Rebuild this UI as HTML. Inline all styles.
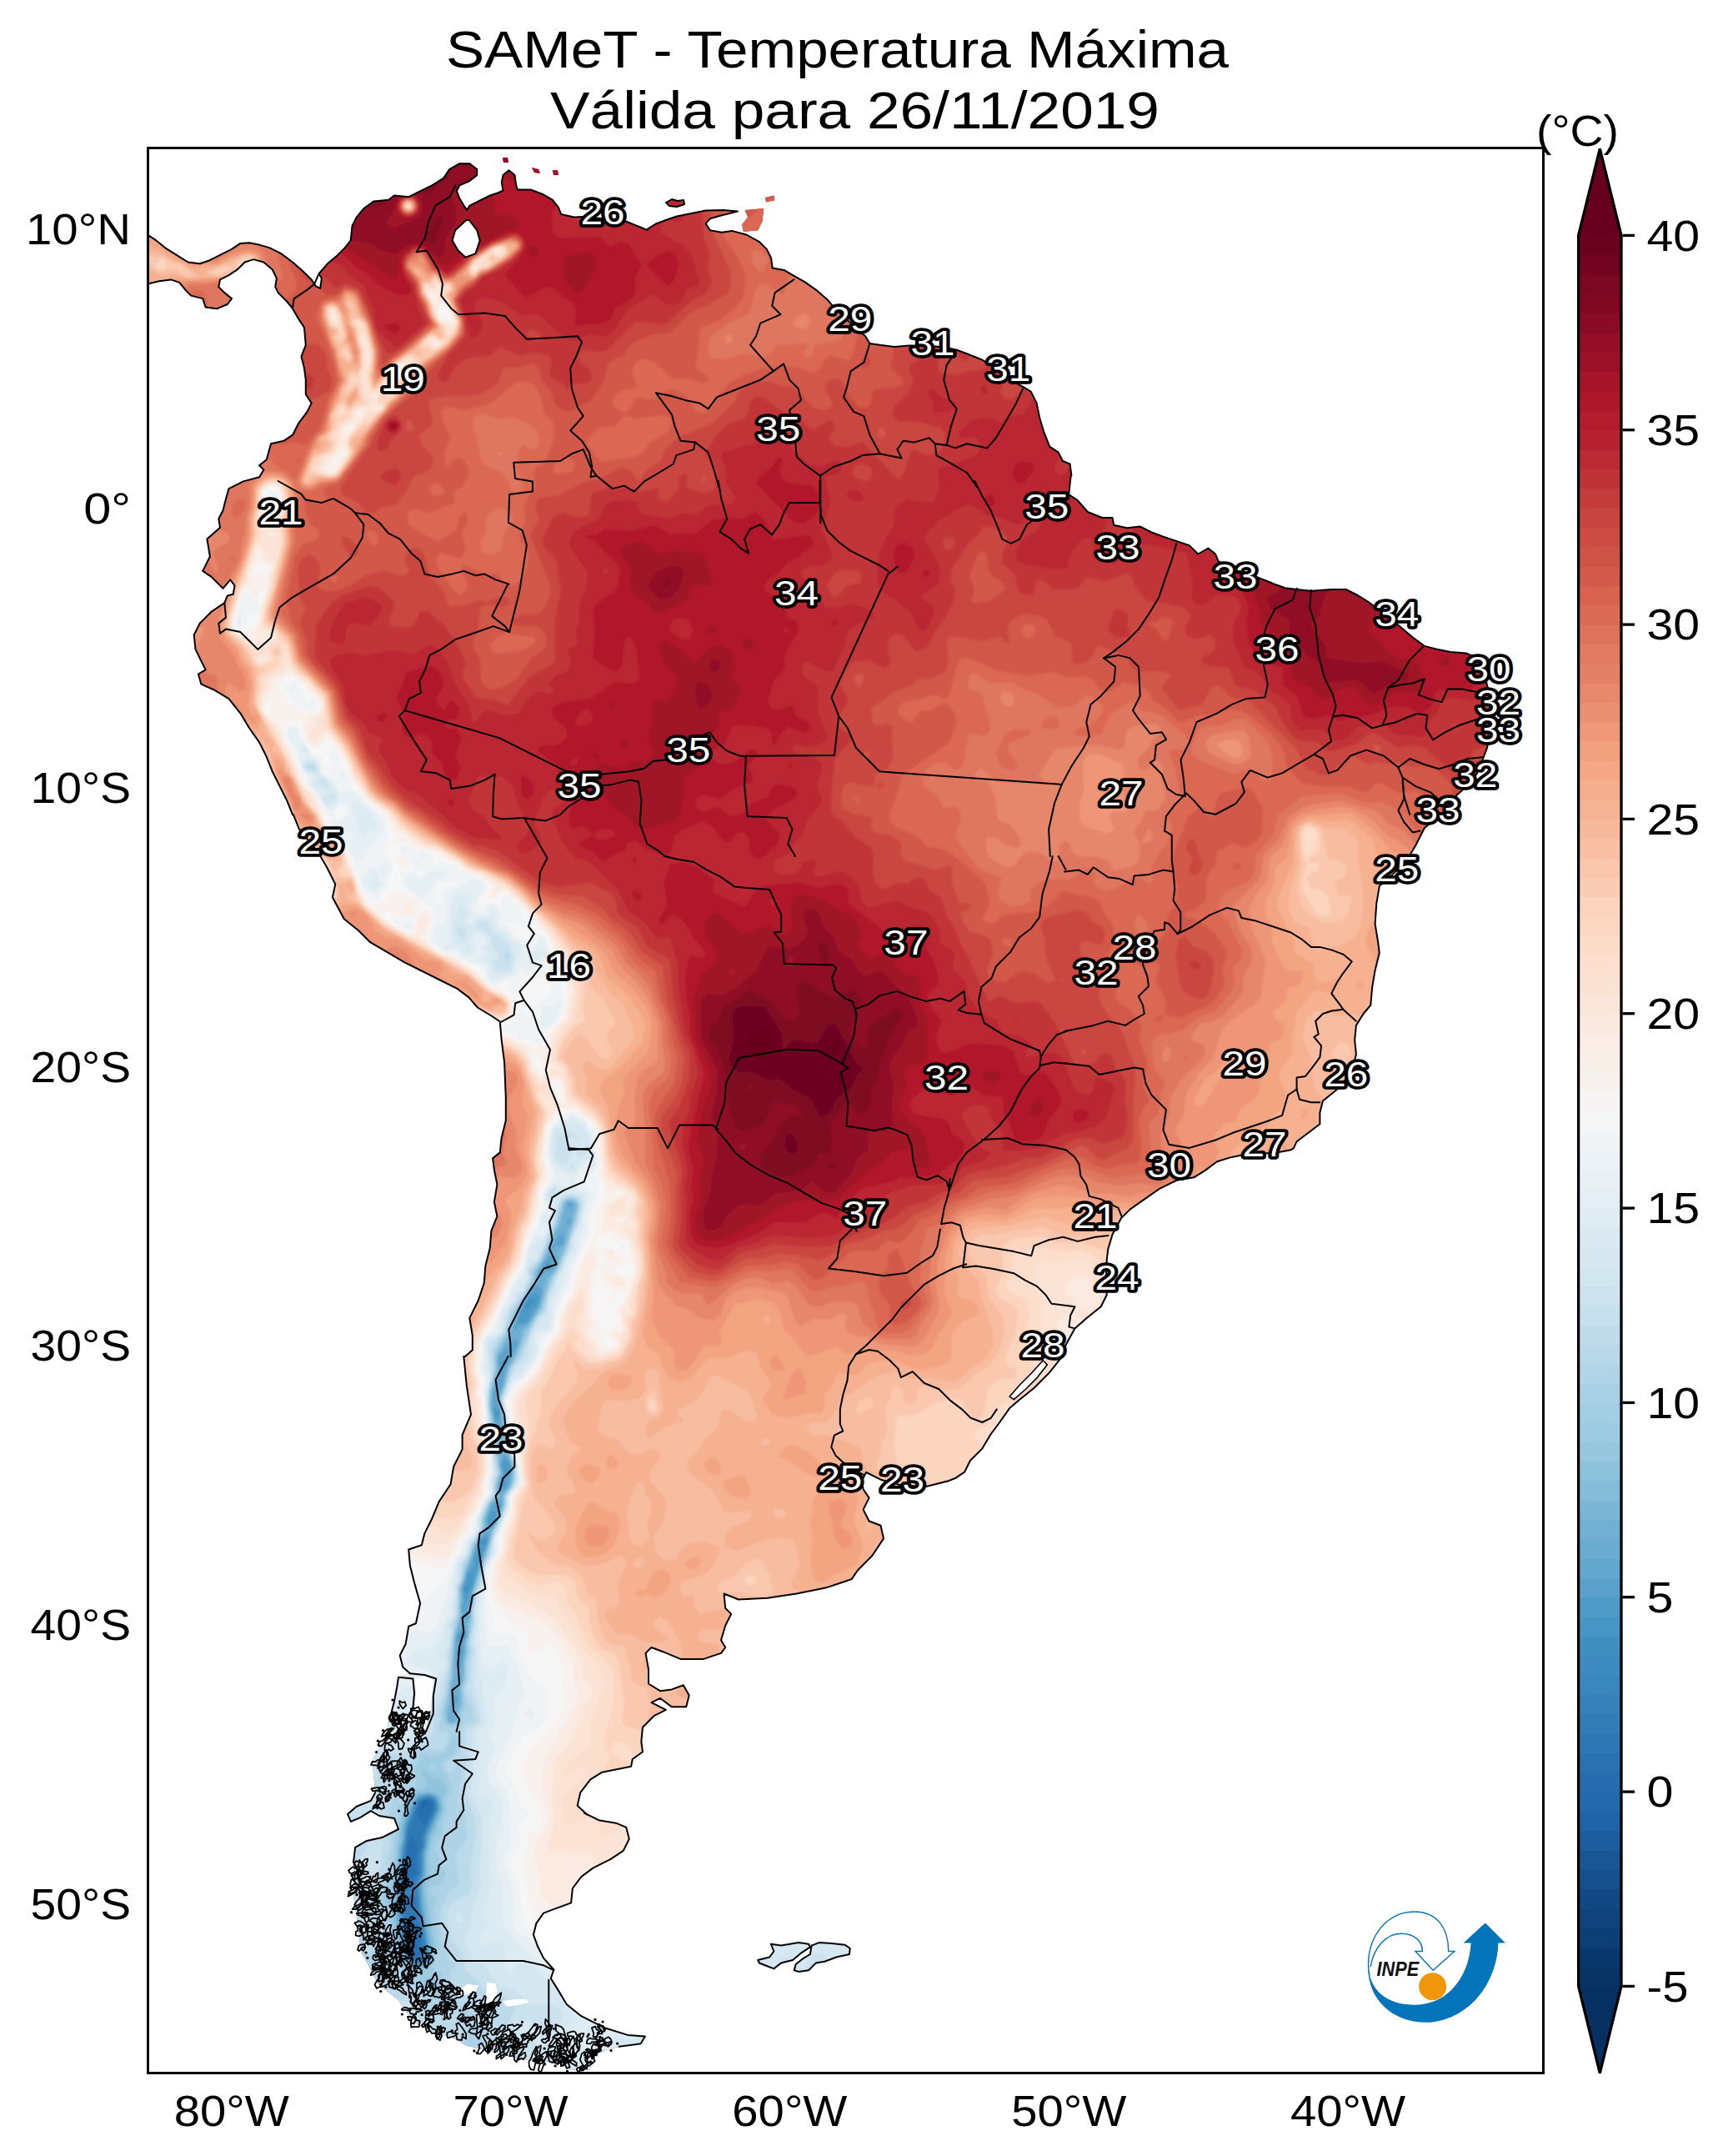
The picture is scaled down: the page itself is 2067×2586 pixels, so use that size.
<!DOCTYPE html>
<html lang="pt"><head><meta charset="utf-8"><title>SAMeT - Temperatura Máxima</title>
<style>
html,body{margin:0;padding:0;background:#fff;}
body{width:2067px;height:2586px;overflow:hidden;font-family:"Liberation Sans",sans-serif;}
svg{display:block}
text{font-family:"Liberation Sans",sans-serif;}
.lab text{fill:#fff;stroke:#000;stroke-width:7.6px;paint-order:stroke fill;stroke-linejoin:round;font-size:42.5px;text-anchor:middle}
.tk text{font-size:51px;fill:#000}
</style></head><body>
<svg width="2067" height="2586" viewBox="0 0 2067 2586">
<defs>
<clipPath id="frame"><rect x="177.5" y="177.5" width="1674.0" height="2309.0"/></clipPath>
<clipPath id="land" clip-rule="evenodd"><path clip-rule="evenodd" d="M177.0,281.5 187.4,288.4 197.9,297.1 211.8,305.8 225.7,314.5 239.7,316.3 250.1,312.8 264.0,305.8 278.0,298.9 288.4,291.9 298.9,291.2 311.1,293.6 323.2,297.1 337.2,304.1 351.1,314.5 365.0,326.7 373.7,335.4 378.9,343.4 384.2,345.9 385.9,333.7 382.4,328.5 392.9,316.3 403.3,307.6 413.8,297.1 420.7,288.4 422.5,271.0 427.7,260.6 436.4,250.1 448.6,241.4 466.0,239.7 473.0,234.5 490.4,236.2 504.3,229.2 518.2,222.3 532.2,213.6 539.1,203.1 551.3,196.2 563.5,196.2 572.2,203.1 572.2,210.1 563.5,217.0 551.3,222.3 547.8,229.2 551.3,237.9 556.5,246.6 560.0,251.9 563.5,246.6 573.9,241.4 587.9,234.5 598.3,231.0 603.5,228.5 601.8,218.8 603.5,210.1 610.5,204.2 617.5,210.1 619.2,222.3 620.9,227.5 636.6,227.5 650.5,232.7 662.7,239.7 669.7,248.4 673.2,257.1 688.8,260.6 699.3,259.9 723.7,262.3 751.5,265.8 768.9,272.8 776.9,276.2 777.0,274.5 787.4,268.2 801.4,263.0 811.8,259.5 829.2,256.0 846.6,252.6 867.5,251.9 884.9,253.6 864.0,258.8 851.9,262.3 846.6,268.2 851.9,276.2 865.8,278.7 878.0,276.9 895.4,281.5 911.1,290.2 919.8,298.9 925.0,309.3 926.7,321.5 940.6,323.9 951.1,330.2 965.0,337.9 978.9,347.6 992.9,359.8 1003.3,372.0 1020.7,387.7 1038.1,403.3 1043.4,412.0 1055.6,413.8 1073.0,415.9 1090.4,414.5 1107.8,414.5 1132.2,416.2 1147.8,419.7 1160.0,424.2 1177.4,431.2 1194.8,441.6 1212.2,455.6 1227.9,464.3 1236.6,469.5 1243.6,483.4 1247.1,500.8 1252.3,518.2 1259.2,535.6 1269.7,542.6 1274.9,553.0 1283.6,556.5 1285.4,570.5 1284.7,570.5 1282.2,593.2 1292.7,600.1 1304.9,614.0 1322.3,621.0 1334.5,621.0 1336.2,629.7 1351.9,633.2 1367.5,631.5 1381.5,638.4 1395.4,643.6 1411.1,648.9 1426.7,654.1 1437.2,664.5 1449.4,657.6 1458.1,664.5 1461.5,673.2 1485.9,683.7 1510.3,693.1 1527.7,700.1 1541.6,705.3 1555.6,707.0 1573.0,708.8 1597.3,707.0 1614.7,707.0 1628.7,714.0 1642.6,722.7 1660.0,735.9 1677.4,749.8 1694.8,764.5 1708.8,774.9 1722.7,778.4 1740.1,781.9 1759.2,783.6 1771.4,788.8 1778.4,802.1 1782.6,816.0 1786.1,829.9 1787.8,857.8 1786.1,875.2 1784.3,896.1 1779.1,910.0 1772.1,927.4 1761.7,941.3 1747.8,953.5 1737.3,965.7 1729.6,976.9 1729.6,975.7 1708.8,993.2 1698.3,1014.0 1687.9,1031.5 1670.5,1048.9 1654.8,1062.8 1651.3,1083.7 1649.6,1108.1 1653.0,1128.9 1654.8,1142.9 1649.6,1163.8 1646.1,1184.7 1644.3,1205.6 1635.6,1216.0 1626.9,1229.9 1625.2,1247.3 1626.9,1264.7 1621.7,1285.6 1604.3,1306.5 1586.9,1320.5 1583.4,1334.4 1583.4,1348.3 1569.5,1358.8 1555.6,1369.2 1552.1,1376.9 1548.8,1379.2 1529.6,1382.7 1494.8,1384.5 1477.4,1387.9 1460.0,1393.2 1446.1,1403.6 1432.2,1412.3 1411.3,1415.8 1390.4,1426.2 1373.0,1438.4 1355.6,1450.6 1345.1,1461.1 1334.7,1480.2 1329.4,1497.6 1327.7,1511.5 1327.0,1532.4 1327.7,1553.3 1320.7,1567.3 1303.3,1581.2 1289.4,1593.4 1278.9,1612.5 1272.0,1629.9 1258.1,1647.3 1240.6,1664.7 1223.2,1678.7 1211.1,1689.1 1198.9,1706.5 1188.4,1720.5 1178.0,1737.9 1164.0,1751.8 1157.1,1765.7 1146.6,1772.7 1136.2,1776.9 1135.9,1776.8 1112.2,1782.7 1082.6,1782.0 1056.5,1774.7 1039.1,1766.0 1033.9,1775.7 1035.6,1786.2 1042.6,1796.6 1035.6,1810.6 1042.6,1824.5 1056.5,1829.7 1060.0,1845.4 1046.1,1866.3 1028.7,1883.7 1021.7,1894.1 990.4,1904.6 955.6,1911.5 920.7,1916.8 885.9,1918.5 868.5,1911.5 870.2,1928.9 877.2,1935.9 870.2,1949.8 865.0,1967.3 870.2,1976.0 865.0,1982.9 844.1,1989.9 816.3,1989.9 795.4,1981.2 781.5,1976.0 774.5,1982.9 778.0,2002.1 778.0,2019.5 791.9,2028.2 805.8,2026.4 819.8,2021.2 826.7,2033.4 823.2,2047.3 805.8,2047.3 791.9,2036.9 781.5,2042.1 798.9,2050.8 784.9,2057.8 771.0,2071.7 769.3,2089.1 771.0,2101.3 758.8,2110.0 757.1,2118.7 739.7,2122.2 722.3,2125.7 708.3,2134.4 696.2,2150.1 692.7,2165.7 704.9,2176.9 700.8,2174.5 718.2,2183.2 739.1,2186.7 751.3,2191.9 754.8,2205.8 747.8,2219.8 732.2,2230.2 711.3,2240.6 697.3,2251.1 686.9,2265.0 685.1,2282.4 666.0,2289.4 652.1,2294.6 643.4,2306.8 639.9,2320.7 645.1,2334.7 652.1,2348.6 664.3,2362.5 660.8,2373.0 669.5,2386.9 679.9,2404.3 697.3,2418.2 725.2,2432.2 753.0,2440.9 773.9,2442.6 768.7,2451.3 742.6,2454.8 725.2,2460.0 711.3,2467.0 707.8,2482.6 683.4,2482.6 676.4,2473.9 641.6,2472.2 620.7,2468.7 585.9,2460.0 558.1,2453.0 540.6,2442.6 523.2,2439.1 495.4,2425.2 478.0,2399.1 453.6,2379.9 446.6,2366.0 432.7,2339.9 429.2,2308.5 424.0,2273.7 424.0,2234.0 426.1,2215.9 440.0,2207.9 458.1,2204.1 478.0,2194.0 473.1,2181.1 455.0,2178.0 444.9,2172.1 432.0,2180.1 420.9,2184.9 417.0,2175.9 427.8,2166.8 444.9,2159.9 450.1,2150.1 446.6,2111.8 464.0,2080.5 465.8,2064.0 472.8,2041.3 476.2,2023.9 478.0,2011.7 491.9,2007.2 483.2,1999.6 479.7,1985.6 486.7,1971.7 490.2,1950.8 498.9,1947.3 504.1,1923.0 497.1,1898.6 491.9,1877.7 490.2,1858.5 505.8,1853.3 509.3,1839.4 518.0,1822.0 526.7,1801.1 540.6,1780.2 544.1,1759.3 554.6,1738.4 554.6,1721.0 565.0,1696.6 559.8,1661.8 556.3,1627.0 558.1,1626.9 566.8,1619.2 566.8,1601.8 563.3,1580.9 573.7,1560.0 580.7,1539.1 582.4,1518.2 587.7,1497.3 589.4,1476.4 596.4,1459.0 592.9,1441.6 596.4,1420.7 592.9,1403.3 591.1,1389.4 599.8,1382.4 601.6,1365.0 606.8,1344.1 606.8,1316.3 605.1,1274.5 601.6,1246.6 599.8,1225.7 600.8,1226.0 590.4,1219.0 573.0,1208.5 562.5,1196.4 548.6,1185.9 527.7,1175.5 506.8,1165.0 485.9,1154.6 465.0,1142.4 444.1,1130.2 430.2,1116.3 412.8,1102.3 398.9,1076.2 402.3,1060.6 391.9,1039.7 381.5,1022.3 358.8,994.4 351.9,977.0 351.1,977.4 344.1,960.0 335.4,942.6 326.7,925.2 319.8,907.8 311.1,890.4 298.9,873.0 288.4,855.6 274.5,838.1 257.1,827.7 241.4,820.7 237.9,808.5 246.6,803.3 241.4,792.9 234.5,778.9 232.7,761.5 239.7,747.6 253.6,733.7 269.3,723.2 272.8,714.5 279.7,712.8 281.5,702.3 276.2,695.4 267.5,705.8 253.6,691.9 243.2,684.9 251.9,667.5 248.4,646.6 264.0,632.7 262.3,622.3 267.5,612.2 271.0,598.3 274.5,586.1 291.9,577.4 311.1,572.2 316.3,563.5 311.1,558.3 319.8,551.3 325.0,532.2 340.6,528.7 351.1,521.7 358.1,507.8 368.5,493.9 373.7,483.4 366.8,473.0 366.8,455.6 365.0,441.6 361.5,427.7 366.8,413.8 365.0,392.9 358.1,382.4 351.1,370.2 344.1,361.5 333.7,351.1 330.2,344.1 331.9,333.7 326.7,323.2 316.3,314.5 304.1,311.1 293.6,314.5 284.9,323.2 274.5,330.2 264.0,335.4 262.3,344.1 269.3,351.1 278.0,358.1 272.8,365.0 260.6,370.2 246.6,368.5 243.2,358.1 229.2,354.6 222.3,347.6 215.3,338.9 204.9,335.4 190.9,337.2 177.0,340.6Z M893.6,251.9 916.3,250.1 914.5,265.8 909.3,276.2 891.9,278.0 890.2,269.3 897.1,260.6Z M918.0,236.9 928.5,234.5 929.2,240.4 919.1,242.5Z M909.2,2351.0 923.1,2347.5 928.4,2340.5 924.9,2331.8 937.1,2333.6 947.5,2331.8 958.0,2330.1 970.1,2331.8 971.9,2335.3 961.4,2342.3 951.0,2351.0 937.1,2354.5 928.4,2361.4 919.7,2358.0 910.9,2354.5Z M973.6,2333.6 982.3,2330.1 998.0,2331.0 1013.7,2332.7 1019.8,2337.1 1018.9,2344.0 1003.2,2347.5 989.3,2352.7 978.9,2354.5 970.1,2363.2 958.0,2364.9 952.7,2363.2 954.5,2356.2 963.2,2349.3 971.9,2344.0Z M799.0,243.0 806.0,239.0 813.0,241.0 820.0,240.0 821.0,245.0 812.0,248.0 803.0,247.0Z M603.0,189.0 609.0,189.0 610.0,195.0 604.0,195.0Z M638.0,201.0 646.0,203.0 648.0,208.0 641.0,207.0Z M663.0,204.0 669.0,204.0 670.0,210.0 664.0,210.0Z"/></clipPath>

<filter id="b2" x="0" y="0" width="2067" height="2586" filterUnits="userSpaceOnUse"><feGaussianBlur stdDeviation="1.6"/></filter>
</defs>
<rect x="0" y="0" width="2067" height="2586" fill="#fff"/>
<g clip-path="url(#frame)">
<g clip-path="url(#land)">
<rect x="177.5" y="177.5" width="1674.0" height="2309.0" fill="#c53e3d"/>
<g filter="url(#b2)" fill-rule="evenodd">
<rect x="177.5" y="177.5" width="1674.0" height="2309.0" fill="#1a5899"/>
<path fill="#2065ab" d="M1851,2487l-1674,0 0,-2311 1675,1z"/>
<path fill="#2870b1" d="M1851,2487l-1674,0 0,-2311 1675,1zM504,2171l7,-5 2,-6 -6,1z"/>
<path fill="#2f79b5" d="M1851,2487l-1674,0 0,-2311 1675,1zM510,2191l4,-13 6,-9 -1,-9 -6,-3 -8,3 -5,12 1,6 5,6 1,7zM498,2198l0,-6 -3,1zM486,2263l6,-10 9,-6 -3,-15 4,-15 -4,-6 -3,-11 -3,2 -4,15 1,14 5,4 -5,2zM498,2286l0,-4 -5,1 2,3zM504,2346l1,-6 -2,-30 -2,-2 -6,0 -6,-4 -3,4 0,8 9,0 5,9 0,3 -10,6 2,9 6,6z"/>
<path fill="#3783bb" d="M1851,2487l-1674,0 0,-2311 1675,1zM501,2353l6,0 3,-4 -10,-60 1,-8 -3,-6 -8,-1 -3,-3 17,-24 -1,-21 4,-12 0,-12 9,-21 6,-9 -1,-12 -8,-4 -10,4 -13,33 -7,60 2,18 -2,21 2,9 -1,15 6,12 -2,6 3,9 6,9z"/>
<path fill="#3f8ec0" d="M1851,2487l-1674,0 0,-2311 1675,1zM501,2355l9,-2 2,-7 -13,-84 6,-15 0,-24 3,-9 0,-12 16,-33 -2,-9 -3,-4 -6,-1 -12,5 -13,33 -7,60 0,39 3,9 -1,15 6,27 6,9z"/>
<path fill="#4c99c6" d="M1851,2487l-1674,0 0,-2311 1675,1zM630,1571l10,-11 -4,-3 -7,12zM594,1698l3,-3 -3,-2zM583,1848l-4,-2 -3,6 6,0zM558,1912l4,-7 -1,-6 -4,6zM501,2357l9,-2 4,-6 -10,-63 -2,-27 4,-12 0,-24 4,-9 0,-12 15,-33 -3,-12 -9,-3 -9,2 -4,4 -12,30 -8,63 0,39 2,9 -1,15 4,21 8,15z"/>
<path fill="#5ca3cb" d="M1851,2487l-1674,0 0,-2311 1675,1zM654,1522l5,-1 2,-3 -1,-3 -3,-1 -4,4zM621,1588l12,-3 6,-16 6,-3 3,-12 -9,-4 -6,7 -12,24zM608,1632l-8,1 0,4 6,0zM594,1703l6,-5 0,-5 -6,-6 -2,2zM600,1786l9,-6 -5,-7 8,-6 0,-9 -3,-6 -6,0 -1,6 3,12 -5,9zM591,1831l4,-7 2,-15 -9,5 -3,7 0,6zM558,1923l9,-19 9,-35 9,-18 0,-7 -6,-1 -4,5 -6,18 0,15 -8,6 -2,12 -4,6zM549,1968l3,2 6,-5 0,-8 -6,1 -3,4zM555,1983l0,-5 -6,2 0,3zM498,2358l12,-1 4,-5 1,-6 -10,-60 -2,-27 5,-12 0,-24 3,-9 0,-12 15,-33 -3,-12 -4,-4 -6,-1 -13,5 -13,33 -2,18 -3,9 -1,27 -3,9 3,66 7,27z"/>
<path fill="#6eaed2" d="M1851,2487l-1674,0 0,-2311 1675,1zM688,1446l-4,-4 -3,1 -1,3 1,2zM681,1468l3,-1 0,-5 -4,2zM660,1505l6,-10 9,-1 3,-6 -3,-8 -6,2 -3,9 -6,6 2,3zM645,1531l3,2 4,-6 11,-5 4,-10 -1,-3 -6,-3 -3,2 -10,16zM618,1596l6,-6 9,-2 14,-22 4,-18 -6,-8 -6,4 -14,25 -10,24zM603,1722l0,-9 -3,2 -2,-2 3,-15 -4,-24 6,-12 4,-21 14,-27 0,-7 -6,2 -15,15 -3,8 2,12 -8,27 0,27 6,17zM600,1790l6,-2 4,-6 4,-21 -5,-13 -6,-2 -3,-5 3,5 -3,12 4,9 -6,15 -1,6zM560,1944l2,-3 -1,-12 3,-4 6,-32 16,-42 2,-15 8,-12 7,-24 -12,3 -8,21 4,12 -2,3 -6,1 -5,8 -6,21 -9,18 -1,12 -3,3 1,18 -3,6 2,12zM552,2003l5,-20 0,-15 3,-6 -2,-12 -6,4 -5,11 1,9 -2,15zM549,2043l0,-9 -6,-1 0,10zM543,2064l-3,-6 0,4zM498,2359l12,-1 6,-6 0,-6 -10,-60 -1,-27 4,-9 0,-27 3,-9 1,-12 15,-33 -5,-15 -10,-3 -9,2 -6,4 -13,33 -1,18 -3,9 -1,27 -3,9 0,39 5,45 10,18z"/>
<path fill="#81bad8" d="M1851,2487l-1674,0 0,-2310 1675,0zM606,1726l1,-4 -9,-45 7,-18 1,-9 19,-42 1,-12 7,-5 15,-24 7,-31 12,-15 5,-21 7,-12 2,-12 7,-12 -1,-6 4,-12 -4,-5 -6,0 -3,2 -5,24 -7,11 -10,28 -12,21 0,9 -17,26 -16,40 -14,24 -1,6 2,9 -8,30 -1,15 8,36zM543,2067l5,-3 0,-12 4,-9 0,-21 3,-6 3,-48 3,-6 -1,-15 4,-6 -1,-12 3,-6 1,-15 20,-57 2,-15 8,-12 7,-24 -1,-6 9,-12 3,-12 0,-11 -6,-16 -9,-8 -2,8 2,3 -1,12 3,9 -5,12 0,14 3,1 -11,9 -7,18 -1,15 -11,18 -17,51 1,15 -2,6 1,12 -7,26 -2,49 -2,3 -2,27 -3,12 1,9zM498,2361l15,-3 4,-6 1,-6 -10,-60 -2,-27 4,-9 0,-27 5,-21 14,-33 -4,-15 -12,-4 -12,3 -8,10 -10,30 0,15 -4,9 -1,27 -3,9 0,39 6,45 9,18z"/>
<path fill="#90c4dd" d="M1851,2487l-1674,0 0,-2310 1675,0zM540,2068l9,-2 1,-14 4,-6 -1,-24 3,-6 1,-24 3,-12 -1,-9 3,-9 0,-15 3,-6 -1,-12 3,-6 1,-15 23,-72 7,-12 6,-18 0,-12 9,-12 2,-9 1,-15 -9,-21 1,-15 -9,-45 7,-16 4,-20 10,-18 9,-24 19,-30 10,-33 10,-15 10,-25 14,-47 0,-6 -5,-4 -6,0 -4,4 -7,24 -16,39 -12,21 0,9 -22,36 -10,27 -14,27 0,15 -7,30 -1,15 3,20 8,22 -3,15 3,3 -1,12 3,9 -5,12 0,15 -8,9 -7,18 -1,15 -11,18 -17,51 0,33 -7,24 -3,51 -2,4 -2,26 -3,12 1,9zM498,2363l15,-3 5,-8 0,-24 -10,-63 4,-15 0,-24 4,-21 5,-9 3,-12 7,-12 -3,-18 -6,-5 -21,1 -6,5 -5,8 -9,27 -4,51 -4,12 -2,27 8,60 8,15z"/>
<path fill="#a0cce2" d="M1851,2487l-1604,0 -9,-12 -7,-2 -12,5 -5,9 -37,0 0,-49 7,-5 4,-9 -4,-6 -7,-2 0,-2239 1675,0zM540,2069l11,-2 1,-15 4,-6 -2,-21 4,-9 0,-24 3,-12 -1,-9 3,-9 6,-54 15,-42 8,-30 13,-30 0,-12 9,-12 2,-9 0,-15 -8,-21 1,-15 -9,-45 7,-15 4,-21 8,-12 12,-30 19,-30 10,-33 9,-15 10,-24 15,-48 -1,-6 -6,-5 -6,0 -5,5 -7,24 -16,39 -13,21 0,9 -21,36 -9,24 -11,18 -5,12 1,15 -7,30 -1,15 7,36 4,6 -3,15 5,24 -5,12 0,15 -8,9 -7,18 -1,15 -11,18 -17,51 0,33 -6,24 -4,51 -8,42 1,9zM498,2365l15,-2 7,-11 2,-18 -11,-69 6,-15 -3,-24 5,-21 7,-12 -1,-6 8,-15 -2,-13 5,-11 -5,-13 -3,-3 -9,2 -9,-11 -3,-1 -2,5 6,6 1,9 -2,3 -12,3 -7,6 -6,12 -6,24 0,15 -3,9 -2,27 -10,39 9,27 3,39 13,15zM522,2376l-1,-3 -8,-1 -6,4 1,3 11,4z"/>
<path fill="#aed3e6" d="M1851,2487l-1468,0 -5,-9 -36,-14 -3,0 -2,5 4,18 -64,0 -1,-12 -3,-6 -21,-4 -15,-15 -6,-1 -6,3 -6,11 -12,9 -3,15 -27,0 0,-38 12,-7 12,-12 3,-6 -2,-6 -7,-8 -9,-5 -9,-1 0,-2227 1675,0zM540,2072l6,0 6,-3 2,-5 -1,-9 6,-6 -4,-24 4,-9 1,-21 3,-15 -2,-9 6,-27 -1,-12 3,-9 0,-12 16,-45 8,-30 13,-30 0,-12 9,-12 2,-9 0,-15 -8,-21 1,-15 -9,-45 6,-15 5,-21 9,-12 20,-45 11,-15 9,-33 8,-12 11,-27 14,-45 1,-9 -5,-6 -12,1 -4,5 -7,24 -18,45 -11,15 1,7 -8,17 -14,21 -10,27 -13,21 -2,12 2,9 -7,30 -1,15 4,21 6,21 -2,15 5,24 -5,12 0,15 -8,9 -7,18 -1,15 -11,18 -3,12 -7,12 -2,18 -4,6 -1,36 -6,24 -7,67 -6,26 2,12zM522,2399l8,-2 3,-6 -3,-24 -2,-3 -7,0 -1,-3 3,-18 5,-6 -3,-12 1,-12 -4,-9 -2,-12 5,-15 -9,-6 0,-6 14,-6 5,-12 -6,-9 -4,-17 -3,1 -1,-2 4,-12 7,-9 -2,-12 7,-15 -2,-12 7,-12 -1,-9 -12,-21 5,-8 9,-4 8,-18 -5,-8 -3,1 -9,22 -18,3 -9,-4 -3,4 -7,18 3,15 -24,30 3,9 -4,12 -3,51 -17,39 14,30 0,21 -5,9 2,6 8,9 22,15 6,12zM522,2124l-6,-3 0,-7 8,4zM331,2352l5,8 9,1 12,-3 4,-9 -7,-4 -15,-2 -6,2zM429,2467l6,4 6,-3 12,-14 0,-6 -26,6 -1,6z"/>
<path fill="#bbdaea" d="M1851,2487l-699,0 -3,-6 -3,-2 -18,5 -4,3 -49,0 -4,-15 -8,-9 13,-6 5,-6 0,-9 -7,-5 -7,2 -10,9 -1,6 5,9 -10,9 -2,15 -81,0 -8,-11 -12,-12 -6,-2 -12,5 -18,4 -8,7 -3,9 -329,0 -4,-18 11,-18 3,-18 -3,-4 -14,-5 0,-6 4,-6 -17,-6 -12,-24 -1,-15 7,-9 -11,-12 4,-9 -8,-12 0,-9 -3,-15 1,-12 8,-18 14,-12 -5,-36 13,-15 2,-6 -5,-33 -7,-9 3,-6 -1,-15 3,-6 1,-12 -3,-5 -3,0 -9,11 -3,-3 -3,-9 12,-6 4,-6 4,-15 -3,-12 8,-9 9,-3 -3,-18 -7,-14 -1,-7 4,-9 0,-21 4,-15 -3,-9 6,-27 -1,-12 3,-9 0,-12 5,-9 7,-30 4,-6 7,-30 13,-28 1,-14 9,-12 2,-9 0,-15 -8,-21 0,-15 -8,-45 12,-36 9,-12 19,-45 12,-15 2,-15 28,-63 0,-7 8,-17 4,-24 -4,-6 -8,-2 -6,1 -5,7 -6,21 -19,47 -11,13 1,9 -8,18 -15,21 -9,27 -8,9 -6,12 1,21 -7,30 0,15 3,21 6,21 -2,15 5,24 -5,12 0,15 -8,9 -7,18 -1,15 -10,15 -4,15 -6,9 -3,21 -4,6 0,15 -2,9 1,9 -5,12 -4,52 -6,36 -6,17 0,12 -2,9 2,5 9,-1 1,8 -7,15 -27,-4 -5,4 -7,14 -9,7 2,18 -14,18 -7,27 0,15 6,9 -5,21 1,12 -23,42 4,14 9,4 5,6 0,12 -5,4 -6,-1 -8,-6 -16,-4 -9,-9 -9,0 -6,10 2,24 -5,15 7,15 -1,6 -12,11 -18,1 3,4 12,6 3,8 0,15 14,12 6,36 -2,3 -6,0 -21,-7 -18,-2 -4,-6 6,-9 -1,-6 -7,-9 -6,-2 -21,11 -7,9 -3,21 3,18 -40,0 3,-15 -4,-9 -9,-6 -16,-6 -7,-21 -4,-7 -20,-5 -7,-12 -10,-9 -5,-24 -30,-15 0,-11 4,-4 2,-6 -2,-9 -4,-5 0,-132 8,-4 3,-6 -2,-5 -9,-1 0,-1998 1675,0zM205,2280l8,4 10,-4 11,-19 12,-11 -1,-3 -23,0 -15,21zM262,2295l-2,-6 -5,-3 -6,-1 -3,4 0,6 3,4 6,1zM312,2405l6,2 7,-4 14,-25 6,-5 24,4 3,-1 2,-15 7,-15 -3,-16 -6,-3 -21,5 -15,-11 -15,4 -2,6 6,39 -4,9 -12,12 -1,6zM441,2344l-4,-4 0,-6 4,-6 3,-1 3,4 0,6 -3,6zM556,2451l-7,7 -15,-8 -10,4 -5,12 8,21 -94,0 20,-16 9,-2 15,1 6,-4 1,-3 -13,-13 -15,-22 -9,-1 -15,12 -12,-6 -2,-6 0,-33 4,-6 8,-3 26,-1 15,3 18,-6 19,16 5,15 3,3 6,0 15,-7 12,-2 3,15 7,12zM595,2415l-1,-6 -6,-4 -9,0 -7,4 0,3 16,7 5,-1zM191,2487l-14,0 0,-18 9,4z"/>
<path fill="#cae1ee" d="M1851,2487l-522,0 -2,-12 23,2 5,-11 -2,-7 -18,-5 -9,21 -12,0 -11,-18 -7,-1 -3,2 -3,8 2,6 7,5 9,2 3,8 -145,0 -8,-25 -18,-7 -6,-14 -6,-1 -18,8 -6,-1 -30,-35 -21,-16 -27,11 -18,-5 -15,2 -14,11 -7,21 -6,8 -6,3 -21,-3 -21,-24 -6,2 -17,11 -16,20 -6,3 -6,0 -15,-8 -15,0 -11,-12 -7,0 -6,4 -12,19 -14,10 -1,9 3,9 -122,0 0,-15 -4,-5 -10,5 -8,15 -7,0 -16,-12 6,-15 -2,-6 -14,-5 -16,2 1,-6 9,-9 11,-24 0,-9 -6,-6 -29,-9 -12,-15 -11,-9 -5,-21 -13,-18 -6,-27 1,-6 7,-10 19,-11 5,-9 -4,-18 8,-45 -2,-18 -12,-36 3,-9 -1,-21 4,-9 -5,-6 0,-21 3,-6 11,-6 2,-6 -9,-30 -5,-6 4,-9 1,-27 3,-9 -4,-9 5,-27 -1,-12 3,-21 5,-9 7,-30 5,-6 3,-21 16,-36 1,-15 9,-12 2,-9 0,-15 -8,-21 0,-15 -8,-45 12,-36 11,-12 14,-39 8,-12 7,-6 2,-18 6,-9 3,-12 6,-9 4,-12 8,-15 1,-12 8,-18 4,-18 0,-9 -7,-6 -12,1 -5,5 -4,9 -3,15 -20,48 -12,12 2,9 -8,18 -15,18 -9,30 -11,12 -3,6 0,36 -4,18 -1,15 5,30 4,12 -2,15 4,24 -3,9 -1,18 -7,8 -7,16 -2,18 -10,15 -5,16 -7,8 -1,21 -5,6 0,33 -6,12 1,9 -5,30 1,12 -6,21 -1,12 -9,21 -4,27 -6,8 -9,2 -15,12 -24,4 -13,10 0,18 -9,15 1,3 10,6 3,6 0,6 -5,12 0,12 2,12 7,6 -3,15 -1,15 -16,24 -9,5 -2,-5 5,-15 -7,-18 13,-18 2,-9 -5,-8 -6,-1 -18,20 -6,1 -6,-9 -3,-15 -7,-9 0,-21 -2,-5 -12,4 -6,7 1,6 13,12 2,6 -2,15 -8,11 -21,-4 -6,-13 4,-18 -2,-9 -11,-15 -6,-1 -5,4 -4,18 7,18 -4,4 -15,6 -3,8 2,6 11,12 3,9 -8,18 4,12 -3,5 -9,-2 -12,-10 -4,1 -5,13 -6,3 -21,-5 -10,-5 -3,-6 8,-18 1,-9 -7,-12 -3,-18 -7,-9 -6,-1 -29,4 -16,9 -9,12 -6,3 0,-26 9,-1 6,-4 6,-9 3,-11 -3,-12 -6,-8 -6,-2 -9,0 0,-1979 1675,0zM379,924l-4,-7 -6,1 -1,3zM609,1153l3,-7 -6,-6 -1,9zM412,2232l-18,15 -7,2 -12,-2 -8,-9 2,-6 12,-10 15,10 12,-4zM428,2286l-2,2 -12,-2 -24,17 -12,0 -9,-5 -11,-18 -12,-9 0,-3 5,-8 6,-1 9,9 6,2 38,1 16,8zM247,2346l-10,12 -12,2 -10,-8 -8,-12 -1,-6 16,-7 21,4 4,6zM285,2346l-3,-3 3,-9 6,-6 6,0 4,6 -1,9 -6,4zM240,2379l3,-15 12,-7 12,-1 12,4 15,0 12,-4 5,5 -2,7 -12,0 -15,7 -12,-2 -18,13 -8,-1zM919,2394l-3,-6 -7,-3 -12,6 15,8 6,-2zM890,2394l-8,-3 -6,3 -1,3 4,3zM270,2414l-4,-5 2,-9 8,-8 6,1 4,7 -2,6 -8,7zM504,2457l-6,-1 -21,-16 -5,-7 -2,-6 3,-12 0,-9 4,-6 12,-2 5,5 2,12 11,18 0,18zM816,2481l0,6 -27,0 5,-9 7,-7 9,2zM612,2475l-2,12 -24,0 2,-8 6,-5 9,-2zM1038,2487l-16,0 4,-5 6,-2zM180,2487l-3,0 0,-3z"/>
<path fill="#d5e7f1" d="M1851,2487l-29,0 -7,-9 -9,-3 -5,3 -2,9 -432,0 8,-33 -1,-9 -36,-14 -9,-2 -9,2 -12,11 -24,-6 -12,10 -9,0 -6,-5 -3,-8 5,-18 10,-5 -3,-5 -27,4 -27,15 -21,-1 -15,6 -30,-16 -12,-14 -18,-1 -9,-14 -6,-5 -9,1 -12,11 -6,1 -4,-7 2,-9 5,-4 12,-2 6,-9 0,-15 -9,-6 -13,9 -8,18 -5,6 -28,15 -18,-5 -21,3 -9,-2 -3,-5 0,-3 15,-11 3,-7 -9,-13 -6,-2 -6,1 -9,8 -2,9 6,15 1,21 -6,6 -14,4 -6,-3 -2,-7 2,-9 9,-15 -1,-12 -7,-12 -10,-1 -5,7 4,15 -2,6 -3,3 -9,-2 -9,-15 -6,-1 -14,15 -22,3 -18,10 -19,26 -26,13 -15,14 -15,10 -7,14 -3,21 -94,0 7,-21 -6,-9 -14,-8 -15,7 -9,-11 -15,-8 -3,-4 3,-7 9,-3 3,1 9,17 15,4 14,-21 1,-8 -3,-7 -6,-4 -30,-1 -6,-3 -11,-13 -21,-6 -16,-25 -15,-7 -10,-25 7,-15 4,-27 9,-21 -2,-18 4,-42 -1,-21 -3,-9 -11,-18 -1,-6 3,-9 3,-33 -4,-27 12,-12 1,-6 -10,-42 3,-39 -4,-9 4,-24 -1,-15 3,-21 6,-9 2,-21 10,-21 1,-15 16,-36 1,-15 11,-18 0,-18 -9,-24 0,-12 -8,-42 10,-27 6,-9 2,-6 6,-1 6,-8 3,-9 -3,-3 4,-15 11,-21 8,-6 3,-21 6,-9 2,-12 7,-9 3,-12 9,-15 0,-12 9,-18 4,-24 -1,-6 -8,-4 -12,0 -6,4 -5,12 -3,15 -19,47 -12,10 2,12 -7,15 -7,4 -3,11 -8,6 -7,30 -13,9 -4,6 3,39 -4,15 -1,18 4,30 5,12 -2,15 3,24 -3,9 0,15 -15,27 -1,18 -11,15 -3,14 -9,10 -2,9 2,9 -5,9 1,12 -3,12 1,9 -8,15 3,6 -2,21 -4,6 2,16 -10,20 -2,12 -10,12 -2,34 -9,4 -12,9 -9,0 -12,-6 -18,5 -6,-7 -1,-12 -8,-2 -18,8 -6,17 -6,7 -3,-6 1,-15 -7,-5 -39,-9 -23,5 -4,6 2,15 0,18 -11,9 -2,6 5,2 27,-10 6,1 6,5 15,-3 8,5 1,6 -3,6 -27,20 -12,-11 -21,2 -6,4 -9,18 -27,3 -15,13 -6,2 -12,-2 -10,-7 -1,-6 6,-18 -4,-8 -9,0 -9,5 -5,6 -4,13 -5,-7 -2,-18 -5,-8 -9,-4 -18,4 0,-1960 1675,0zM381,925l-2,-7 -4,-4 -10,4 1,4 12,5zM393,944l0,-5 -6,-6 -3,0 -1,6 3,3zM402,958l-3,-7 -1,6zM390,961l2,-4 -2,-1 -2,1zM610,1164l6,-15 -7,-17 -19,-13 -5,-12 -9,-2 -3,5 1,3 15,9 1,12 9,9 -1,6 -6,6 2,6 6,5zM558,1126l2,-10 -11,-7 -2,7 2,6 6,5zM675,1396l6,-1 1,-6 6,-6 -7,-16 6,-3 7,4 -1,-5 -9,-6 -15,4 -3,25 3,6zM693,1388l10,-5 -4,-8 -3,0 -4,5zM689,1398l-2,-3 -5,3 5,3zM660,1439l8,-8 0,-6 -5,0 -6,9zM375,2082l0,4 -3,1 -3,-2 3,-4zM270,2261l0,-8 4,-3 2,3zM552,2306l-3,0 -3,-5 3,-6 3,0 5,6zM1053,2322l3,-6 -3,-7 -6,-2 -7,3 -2,6 3,6 6,2zM1332,2349l27,20 9,0 12,-5 6,-6 5,-24 -5,-6 -21,2 -12,6 -18,4zM877,2424l0,-6 7,-6 10,-5 6,2 0,4 -4,5 -11,6zM1457,2472l0,-9 -8,-16 -15,-7 -6,1 -3,3 -5,19 6,12 8,2zM1215,2467l0,-6 3,-3 7,2 -4,7z"/>
<path fill="#ddebf2" d="M1846,2487l-9,0 -6,-9 -25,-25 -6,-1 -15,8 -6,0 -10,-9 -8,-3 -9,2 -15,11 -27,7 -33,14 -4,-4 -5,-16 -9,-11 12,-12 1,-6 -6,-6 -16,-3 -6,0 -12,8 -12,1 -4,3 -10,27 0,24 -108,0 4,-12 -1,-6 -7,-4 -18,-3 -6,-8 -1,-9 7,-13 2,-8 -3,-6 -14,-12 0,-15 -3,-4 -15,-2 -11,9 -6,9 -6,18 -8,12 -4,21 -4,6 -6,1 -5,-4 6,-18 -1,-6 -8,-3 -19,0 -12,-9 0,-3 10,-15 -2,-15 2,-6 23,-12 8,-12 4,-30 -12,-13 -15,-1 -15,-11 -13,1 -8,10 -15,5 -12,35 -6,7 -24,-13 -9,-12 -6,-1 -6,6 -8,17 2,5 10,1 5,4 4,14 -4,5 -21,0 -15,-9 -6,-1 -27,15 -33,1 -30,-10 -24,-14 -6,-8 -2,-21 -31,-21 -8,-15 -16,-8 -18,-3 -9,-6 -6,-1 -8,3 -2,6 4,9 10,3 -2,15 -5,6 -6,-2 -9,-7 -24,12 -15,4 -10,-4 -24,-15 -14,-12 -32,6 -5,6 5,12 -1,6 -15,15 -4,21 -17,8 -15,20 -6,1 -12,-7 -6,2 -36,32 -5,16 -4,6 -27,-5 -2,5 1,15 -2,9 -16,15 -25,0 11,-12 2,-12 -2,-4 -12,-5 -7,-9 -1,-6 6,-15 -13,-41 -9,-7 -15,-4 -12,-13 -9,-5 -9,1 -7,12 -5,1 -5,-7 3,-18 -4,-12 -6,-3 -18,6 -5,-6 1,-6 9,-12 -3,-24 8,-24 -4,-51 5,-48 -2,-6 -12,-4 -2,-5 2,-51 -4,-15 3,-6 7,-6 2,-6 -5,-30 0,-15 -5,-12 -3,-48 3,-12 -2,-15 3,-21 6,-9 1,-21 11,-21 -2,-3 2,-12 16,-36 1,-15 8,-9 4,-9 -2,-21 -8,-21 0,-15 -8,-39 11,-27 12,-8 16,-25 -4,-15 3,-8 6,-6 6,5 5,-6 0,-30 9,-12 1,-13 7,-11 2,-9 6,-10 7,-5 -3,-15 8,-15 6,-30 -3,-7 -12,-3 -9,0 -12,-9 -6,4 -5,9 2,6 9,0 1,3 -10,36 -6,10 -9,4 -3,4 6,2 0,6 -3,5 -6,-3 -6,17 2,9 -8,15 -6,0 -3,6 2,6 -10,9 -7,30 -3,3 -10,3 -5,9 6,39 -4,15 -1,18 3,30 5,12 -1,15 3,24 -3,9 1,15 -8,9 -8,18 -2,18 -11,15 -2,12 -9,9 -4,15 2,6 -4,6 1,12 -4,15 2,9 -9,12 -3,24 -6,12 1,6 6,6 -17,32 -11,13 0,9 -4,11 -3,2 -12,-10 -21,-2 -15,-6 -12,9 -9,4 -27,-6 -7,-5 -1,-15 -3,-6 -10,-6 -18,-3 -8,-9 -10,-24 -6,-5 -6,-1 -6,3 -12,15 -7,18 1,4 3,1 12,-5 9,-9 9,-1 3,4 -11,12 -4,15 -1,15 -9,9 2,27 -2,9 -8,10 -6,1 -7,-5 -11,-16 -9,0 -6,4 1,15 8,24 -6,15 11,9 1,3 -3,5 -12,4 -9,0 11,-21 -31,-21 -6,-24 -10,-14 -4,-1 -5,3 -4,21 2,6 12,15 -4,9 -6,1 -6,-4 -4,-9 0,-12 -5,-4 -12,-1 -15,6 0,-1936 1674,0 0,2199 -8,3 -7,8 -3,16 3,9 15,3 0,33 -6,4 -4,8zM366,901l0,-4 -3,-2 0,4zM404,960l1,-3 -3,-7 -6,-3 -1,-8 -12,-9 -4,-15 -7,-3 -8,3 -1,6 3,3 14,6 0,6 -5,7 3,2 9,-1 9,4 -3,4 -7,2 1,7 6,5zM612,1167l3,-3 3,-15 -5,-18 -12,-12 -7,-3 -6,-12 -3,-2 -12,1 -6,10 -8,-3 -3,-6 5,-6 0,-5 -3,-6 -7,-1 -2,15 -6,6 1,15 5,9 9,3 3,6 6,0 0,-3 -6,-6 6,-15 9,1 10,8 1,6 -4,6 1,3 9,3 0,3 -6,6 7,17 6,2zM687,1406l4,-2 6,-12 12,-3 1,-3 -4,-24 -8,-12 -11,-5 -12,7 -9,1 -3,7 -2,20 3,9 5,9zM298,2028l-16,0 -3,6 11,0zM297,2134l-4,-4 1,-3 3,0 2,3zM1134,2334l-1,-12 11,-12 -2,-3 -20,-13 -9,-1 -11,2 -3,6 3,6 19,9 5,6 1,12zM1740,2346l-1,-6 -19,-18 -7,1 -8,8 1,6 28,10zM1155,2369l2,-5 -2,-3 -3,0 0,6zM1491,2408l6,-6 2,-14 -5,-9 -9,-3 -11,9 11,19zM727,2430l-13,-1 -10,4 4,6 6,2 12,-5z"/>
<path fill="#e6eff4" d="M1811,2406l-11,2 -18,-5 -3,2 -2,19 -4,5 -24,0 -12,8 -11,-7 -8,-18 -8,-5 -12,-1 -4,12 -5,4 -45,-16 -15,-2 -12,3 -12,8 -3,27 -21,29 -12,10 -3,6 -12,0 8,-24 7,-12 -1,-3 -11,-9 -1,-6 4,-24 -2,-21 10,-18 0,-9 4,-12 -3,-8 -6,-1 -15,2 -21,-4 -5,5 -2,12 -5,4 -9,0 -21,-6 -6,2 -12,12 -15,-2 -15,4 -6,-1 -15,-28 4,-24 -10,-9 -3,-13 -9,-4 -12,6 -9,0 -15,-10 -12,-12 14,-30 22,-7 0,-8 -3,-4 -6,1 -18,12 -6,-2 -12,-10 -6,0 -5,6 0,9 19,30 0,6 -6,6 -11,5 -9,-1 -12,-8 -7,7 -8,2 -21,-5 -10,-9 -4,-9 0,-12 9,-21 -7,-13 -6,-4 -3,2 -4,24 -20,36 1,9 14,18 6,21 -3,7 -6,-5 -6,-2 -39,9 -2,-12 12,-9 -1,-6 -5,-9 -10,-10 -6,-2 -9,6 -6,7 -6,0 -4,-4 -8,-25 -6,-5 -17,0 -10,11 -6,2 -27,-4 -13,9 -8,2 -21,-5 -17,-9 -2,-6 3,-9 -5,-5 -6,-1 -5,3 -7,12 -20,6 -10,8 -12,-6 -30,-7 -6,4 -4,13 -5,5 -24,9 -34,7 -5,6 -3,12 -10,12 -11,20 -12,8 -18,1 -6,2 -3,5 1,12 -2,6 -17,17 -18,14 -3,1 -9,-9 -6,-3 -24,6 -14,-8 -5,-6 -1,-12 -5,-6 -20,-16 -15,-6 -11,-8 -16,-15 -22,-27 -4,-24 2,-24 -6,-21 -2,-21 6,-27 1,-33 -4,-9 -10,-12 -4,-18 11,-24 -8,-15 7,-18 -2,-27 2,-4 11,-8 5,-21 -3,-9 -4,-4 -15,14 -6,-2 -5,-17 -1,-27 2,-9 -2,-15 2,-15 4,-18 1,-21 4,-9 7,-9 -1,-15 17,-39 1,-15 8,-9 4,-9 -2,-21 -4,-6 -4,-15 0,-15 -8,-39 10,-22 12,-8 18,-27 1,-6 -4,-12 3,-6 12,-2 4,-4 3,-24 -1,-9 6,-5 3,-8 6,-6 3,-26 13,-15 -1,-18 8,-9 -2,-12 7,-27 -1,-3 -11,-3 -7,-14 -6,11 -15,-6 -6,4 -6,8 0,8 8,10 -2,6 -9,2 -3,7 3,5 5,1 -2,9 -3,4 -6,-1 -3,3 -7,12 -7,33 -7,7 -8,14 0,9 -11,12 -5,26 -12,5 -3,5 1,27 -4,6 7,12 -4,15 3,48 5,15 1,36 -3,9 2,15 -8,9 -10,21 1,13 -5,8 -7,6 -3,13 -10,11 -6,24 1,15 -4,12 0,9 -12,27 -11,18 -18,3 -5,6 -1,6 3,5 20,7 1,6 -2,6 -10,6 -18,1 -13,11 -5,1 -9,-5 -9,-16 -3,0 -18,23 -15,0 -6,-5 -7,-13 -29,-16 -15,-25 -21,-15 -12,-2 -5,4 -7,15 -9,0 -6,-27 1,-12 -1,-3 -6,-3 -8,6 -2,18 -5,15 0,3 20,9 0,9 -5,6 -6,1 -9,-7 -6,-17 -9,3 -12,23 1,3 11,9 2,9 -9,18 -8,23 -3,1 -15,-4 -21,6 -3,-5 2,-15 -2,-9 -6,-4 -21,-2 0,-1857 1674,0 0,2103 -15,-5 -9,1 -5,4 -1,15 -3,2 -18,2 -10,5 -6,6 7,12 15,14 9,4 1,3 -2,21 -8,11 -6,-1 -8,-7 -1,-14 -12,-3 -27,-16 -9,-12 -7,-15 -8,-4 -12,2 -9,4 -30,30 -9,-2 -16,-12 -8,0 -4,6 -6,24 1,3 12,-7 6,-1 15,7 6,1 9,-13 12,1 43,21 -1,10 -15,6 -4,5 1,6 6,5 12,0 30,-15 6,1 9,7 21,-5 10,10zM396,970l11,-10 1,-6 -12,-17 -12,-10 -2,-12 -4,-4 -7,-2 -2,-10 -6,-7 -2,2 0,6 6,9 -6,6 1,6 4,5 10,4 -3,12 7,6 7,14 6,7zM438,1007l3,-9 11,-2 1,-6 -9,-15 -12,-12 -6,-2 -3,5 5,18 1,12 6,10zM447,1068l9,-6 0,-3 -4,-6 0,-6 -5,-1 0,10 -6,6zM572,1065l5,-3 -4,-1zM615,1169l11,-32 -3,-6 -8,-4 -9,-10 -11,-4 -2,-21 -2,-2 -6,9 -15,1 -3,7 -3,1 -3,-4 5,-6 -3,-9 1,-11 3,-4 -12,-3 -12,5 -2,4 0,33 -2,9 2,6 -1,4 -6,5 3,3 12,-3 9,9 9,0 5,-9 -4,-9 1,-6 7,-2 9,8 -8,9 5,9 -9,6 12,4 3,5 0,14 9,1 9,-6zM636,1151l10,1 11,-7 0,-2 -6,-6 0,-10 -2,10 -15,9zM684,1412l6,-2 12,-17 5,2 1,7 4,-1 2,-6 -4,-18 0,-15 -8,-13 -15,-10 -24,14 -4,27 1,9 6,11 10,4zM236,2016l0,-3 -5,-1 -3,2 -1,5 4,2zM188,2091l-11,2 0,-20 9,1 6,5 0,6zM1637,2151l1,-6 -6,-7 -6,-3 -8,1 -1,6 3,10 6,2zM1509,2307l9,2 9,-5 10,-15 1,-6 -2,-5 -30,5 -4,9 3,9zM966,2308l-4,-4 -1,-6 8,-11 6,-2 9,13 -11,9zM1821,2336l-1,-8 7,-9 9,-4 8,1 -2,9 -6,10zM1185,2374l-9,-1 -4,-6 -2,-19 2,-5 4,-2 15,1 2,4 0,21zM1500,2446l-6,-7 1,-6 5,-4 15,-4 14,-22 -1,-6 -9,-6 2,-6 15,-18 9,-2 6,2 2,6 -1,6 -12,12 -2,6 4,12 -2,15 9,21 0,6 -4,4 -6,2 -15,-8zM1380,2417l-2,-5 5,-10 6,-3 6,3 2,7 -4,6 -7,3zM1840,2439l-10,8 -6,-5 -2,-9 3,-3 11,0 5,3z"/>
<path fill="#eff3f5" d="M177,2026l0,-1849 1674,0 0,2094 -18,-7 -27,-5 -6,0 -6,4 -3,5 0,18 -21,12 -9,3 -9,-6 -12,-24 -6,-3 -18,-3 -12,-10 -6,-2 -2,3 8,11 14,22 -8,4 -24,2 -17,15 -7,3 -21,-7 -3,2 -18,31 -6,3 -9,-5 5,-12 -1,-21 2,-10 6,-8 12,5 5,-2 -1,-3 -16,-16 -3,1 -4,9 -8,1 -24,-14 -18,2 -6,-1 -3,-6 3,-18 -6,-6 -20,-9 -2,-3 6,-3 19,-1 8,-5 2,-6 0,-9 -4,-5 -6,-3 -12,1 -21,15 -1,4 4,12 -14,18 -6,21 -16,22 -9,3 -15,-11 -15,2 -6,-1 -5,3 6,6 1,6 -8,3 -5,-3 -3,-9 -14,-9 -4,-6 5,-8 13,-1 5,-3 8,-15 -2,-12 -6,-6 -5,0 -9,15 -7,2 -6,-6 -4,-11 3,-21 -5,-3 -12,-2 -15,-8 -6,2 -15,16 -21,4 -7,3 -7,24 2,15 -15,1 -12,4 -6,-1 -6,-4 0,-6 7,-12 1,-6 -15,-24 -6,-6 -8,-2 -9,2 -6,6 -6,12 -6,5 -9,-4 -12,-8 -6,0 -6,6 -16,37 -11,13 -15,-15 -21,-2 -14,-11 -10,-3 -8,0 -3,3 1,12 -2,5 -27,-5 -7,-6 -5,-18 -9,-5 -21,7 -18,-5 -11,15 -10,2 -9,-8 -5,-18 -7,-1 -9,4 2,18 -5,7 -9,3 -21,0 -18,7 -12,2 -4,5 -1,15 -3,6 -7,2 -15,1 -18,8 -18,23 -28,14 -20,27 -14,30 -10,9 -6,0 -9,-4 -12,-17 -18,0 -12,-5 -15,-3 -18,-17 -18,-4 -9,-16 -18,-11 -8,-10 1,-18 -1,-24 -12,-33 1,-9 8,-15 -3,-54 -2,-9 -11,-13 -2,-8 1,-9 17,-36 8,-27 1,-9 9,-12 -9,-30 -11,-27 -5,-4 -18,2 -3,-4 -3,-12 1,-9 -2,-24 3,-45 12,-18 2,-6 -3,-9 15,-36 2,-18 8,-9 4,-9 -2,-12 0,-9 -4,-6 -4,-15 0,-15 -8,-39 9,-18 12,-9 12,-15 9,-16 -1,-11 3,-6 14,-12 1,-15 9,-27 7,-9 6,-27 10,-15 2,-12 6,-12 -2,-18 9,-24 -4,-8 -12,-5 -2,-8 5,-6 12,0 5,-9 0,-9 -4,-12 1,-15 -11,-17 -15,-9 -15,6 -13,14 -2,30 9,24 -15,24 5,15 -8,9 -2,12 -13,27 -6,26 -9,13 -8,15 -2,9 -8,12 -6,20 -12,11 -3,8 1,12 -4,18 2,6 6,6 -4,15 2,9 1,39 6,15 0,36 -3,15 2,9 -7,9 -5,12 -7,12 2,9 -4,8 -10,7 -1,12 -10,12 -17,63 -7,16 -6,5 -9,2 -24,-4 -12,16 -24,13 -12,18 -9,4 -12,-6 -18,2 -9,-4 -4,-5 -3,-12 -29,-26 -9,-6 -9,-10 -13,-9 -6,-15 -5,-4 -12,-1 -15,7 -18,2 -6,5 -9,15 -3,-1 -12,-15 -20,-2 -13,-6 -6,3 -2,6 -1,18 3,6 6,1 12,-5 15,14 18,-7 4,6 -15,36 -19,12 -9,16 -12,5zM285,752l5,-5 -1,-9 5,-10 -3,1 -6,15zM353,828l1,-3 -3,-2 -3,2 3,4zM429,1034l11,-8 -3,-6 12,-6 3,-9 8,-6 -1,-15 -33,-32 -6,-2 -9,1 -12,-15 -13,-9 -2,-12 -4,-6 -7,-3 -5,-12 -9,-9 -4,-12 -7,-1 -3,4 0,7 4,8 8,7 4,23 9,9 1,12 9,9 10,18 6,5 15,-13 3,0 5,11 -2,6 -9,7 -9,1 -2,4 14,15 6,-8 6,3 0,6 -9,0 -1,2 13,24zM414,935l0,-6 -3,-3 -4,1 1,6zM489,1022l-3,-6 -4,1 1,4zM512,1026l-5,-3 -5,3 5,3zM498,1039l3,-4 -3,-7 -2,7zM447,1073l3,1 11,-12 -2,-9 9,-9 -3,-9 -3,-1 -6,7 -12,-1 -6,10 -5,3 2,11zM486,1056l4,9 6,6 14,5 7,-8 5,-13 12,-2 4,-3 -3,-6 -4,-2 -15,2 -12,11 -12,-6 -4,1zM663,1149l-12,-27 -5,3 -4,11 -9,3 -9,-11 -9,-4 -6,-10 -12,-3 4,-13 -6,-12 -7,-1 -6,10 -9,0 -6,-3 -1,-3 7,-9 2,-9 7,-6 0,-5 -6,-4 -9,-3 -6,7 -6,1 -20,13 0,30 -1,3 -14,6 -1,18 9,3 3,6 6,3 12,-3 9,11 24,8 3,5 -1,9 4,6 6,1 12,-7 9,-1 9,-10 9,5 6,-6zM619,1092l1,-3 -8,-3zM528,1097l2,-2 -2,-6 -6,-1zM494,1110l-2,-3 -8,3 3,3 5,1zM657,1171l6,0 3,-3 1,-7 -4,-4 -10,10zM649,1230l8,2 6,-5 7,-12 3,-12 -1,-5 -3,-1 -3,10 -6,1 -6,-2 -3,2 -4,16zM624,1245l3,-3 -3,-3 -2,3zM642,2055l-6,-7 -8,7 8,5 6,-2zM1665,2185l4,-4 2,-6 -12,-15 -3,-21 -6,-9 3,-18 -1,-9 -8,-8 -9,0 -14,17 -13,7 -7,8 -2,9 2,36 4,5 18,3 9,4 15,-3zM1811,2127l3,-3 -1,-6 -4,-4 -6,0 -3,4 1,6 5,4zM1354,2169l5,4 6,0 13,-10 1,-6 -8,-3 -9,3 -8,6zM1596,2241l6,-5 2,-19 -4,-33 -4,-4 -6,0 -8,4 -4,9 2,6 9,9 -17,18 -1,6 1,4 6,4zM946,2217l1,-3 -5,-9 -6,-4 -4,1 -3,6 3,6 7,4zM1155,2242l6,-2 4,-5 0,-21 9,-9 0,-3 -4,-3 -9,4 -15,-2 -7,7 1,15zM1650,2267l18,-8 9,-9 2,-6 -2,-6 -9,-7 -9,-3 -9,1 -11,15 -2,6 1,7 6,7zM1209,2282l-6,-5 -1,-9 4,-3 9,-1 0,14zM1692,2384l-4,-2 0,-6 7,-7 3,7 -2,6zM1641,2383l3,-6 9,-3 1,2 -7,8 -3,1z"/>
<path fill="#f7f6f6" d="M688,2349l-13,-11 -18,-6 -12,-12 -14,-10 -9,-51 -9,-21 1,-9 10,-15 -2,-24 4,-6 11,-6 -13,-14 -7,-25 -9,-12 -2,-6 21,-37 20,-11 7,-8 3,-10 -1,-24 -3,-9 -12,-6 -5,-6 -12,-24 -4,-21 -8,-5 -15,0 -6,-4 1,-15 -7,-21 1,-30 3,-15 6,-6 5,-12 -3,-9 6,-18 9,-18 0,-16 10,-11 4,-9 -4,-12 2,-9 -6,-9 -3,-12 -1,-21 -6,-33 10,-18 9,-5 13,-16 10,-18 4,-15 13,-15 0,-12 11,-30 6,-6 5,-24 20,-45 -1,-18 9,-21 1,-18 -4,-9 5,-18 -5,-15 1,-18 -11,-15 -17,-11 -18,7 -10,13 -4,33 4,12 1,12 -2,9 -8,12 2,18 -6,9 -15,39 -4,23 -12,16 -23,54 -14,15 0,18 -4,18 7,15 -3,12 3,9 1,39 5,18 1,33 -5,15 4,9 -8,9 -4,12 -9,12 1,12 -3,4 -8,5 -4,15 -8,9 -13,31 -12,8 -12,12 -21,-1 -18,13 -27,0 -2,3 -1,12 -12,9 -6,-3 10,-12 2,-6 -1,-3 -5,-2 -18,5 -9,8 -9,-1 -9,11 -3,1 -3,-7 3,-9 7,-3 4,-12 13,-23 13,-10 2,-6 -4,-6 -8,0 -9,9 -15,9 -12,31 -12,6 -9,2 -9,-6 -5,-9 3,-6 13,-12 1,-12 -6,-6 -18,0 -13,9 -8,2 -48,4 -27,-15 -15,4 -6,-1 -7,-9 -1,-15 -4,-6 -6,-2 -15,1 0,-1679 1674,0 0,1925 -12,-4 -15,5 -18,-3 -9,1 -5,5 -10,21 -18,4 -12,8 -3,6 3,7 9,3 9,-4 9,-12 6,-4 18,9 24,0 9,-2 15,-11 0,127 -6,-3 -9,-11 -3,-1 -12,4 -21,0 -21,5 -21,-5 -12,7 -12,-1 -7,-3 -8,-10 -13,-8 -8,-8 -14,-28 1,-9 10,-24 -2,-6 -9,-9 1,-6 4,-6 12,-7 15,6 10,-2 6,-6 8,-15 -4,-6 -16,0 0,-21 -16,-15 -5,-9 3,-12 16,-15 -6,-15 -8,-9 -15,-1 -13,4 -7,18 -16,20 -6,3 -15,0 -17,13 -2,6 5,12 -1,10 -18,15 -15,36 -17,17 -5,12 -6,3 -8,0 -15,-10 -9,-2 -22,3 -2,17 -9,-2 -9,-10 -6,-2 -15,0 -18,8 -9,0 -30,-14 -9,-15 -15,-12 -2,-6 0,-15 -4,-1 -22,7 -14,12 -4,6 -4,21 13,21 0,6 -5,4 -24,4 -18,12 -9,-4 -21,-24 -12,-9 -6,-1 -9,5 -9,18 -6,4 -10,-6 -23,-26 -6,-2 -6,2 -5,5 -1,8 -6,1 -30,-28 -6,2 -3,5 -1,6 7,21 -11,36 -4,4 -12,-3 -13,-10 -8,-27 -5,0 1,6 -4,6 -10,1 0,-5 7,-11 -10,-6 -24,-6 -6,3 -2,9 3,21 -4,2 -38,-14 -10,-9 -3,0 -7,12 -8,3 -6,-1 -5,-5 -4,-15 -9,-5 -6,3 -24,32 -9,4 -19,2 -8,5 -2,7 6,12 0,6 -4,3 -15,0 -6,3 -3,6 0,20 -12,11 -11,14 -10,1 -23,-7 -1,3 5,12 -2,6 -27,24 -6,16 -6,1 -18,-4 -15,1 -12,-4 -18,1zM468,456l9,-3 0,-6 -7,3zM327,611l6,-4 1,-4 -1,-13 -3,-2 -9,2 -2,4 1,15zM285,756l10,-6 2,-3 -1,-9 10,-1 3,-2 3,-12 -2,-3 -10,-5 -3,-7 -3,0 -12,36 0,8zM381,851l0,-11 -6,-4 -6,8 -7,-19 -5,-6 -6,-3 -9,6 -1,3 10,15 15,9 9,3zM445,1083l11,-6 3,-7 8,-5 -2,-12 8,-9 -5,-15 -7,-6 6,-18 -4,-15 0,-9 -24,-18 -9,-12 -8,-6 -5,-19 -3,-4 -7,-4 2,-9 -7,-12 -7,-3 2,9 -4,6 6,9 -1,9 -2,2 -7,-2 -2,-3 1,-18 -10,0 -3,-2 -12,-19 -6,-15 -10,0 -5,6 1,9 10,15 15,39 19,27 8,24 20,27 13,27 5,21 8,9 1,6zM402,979l-2,-4 2,-4 9,-3 3,3 -4,7zM651,1254l4,-6 -3,-9 13,-9 8,-12 4,-15 -8,-49 -11,-20 -4,-12 -12,-4 -9,11 -15,-7 -4,-9 -6,-3 -2,-4 33,9 3,-8 -6,-6 -8,0 -4,-13 -17,-14 -5,0 -2,11 -12,-3 -9,7 -4,-3 1,-9 10,-12 0,-3 -4,-5 -30,-14 -6,-6 -12,-1 -9,-8 -2,1 5,6 -6,2 -3,-2 -1,-3 3,-3 -4,-6 -7,-3 -15,-1 -9,-7 -3,1 -5,7 1,3 13,6 4,15 -16,3 2,12 6,9 28,20 5,10 -1,9 -4,9 1,6 -2,6 1,4 18,12 12,0 12,10 18,7 4,3 3,12 8,7 18,-6 3,2 -3,9 6,6 13,-6 1,-3 -7,-6 5,-6 21,0 13,9 -1,9 -22,15 3,6 -2,6 -6,3 -4,-12 -5,-2 -6,6 -6,11 -10,9 4,4 9,1 6,10 3,1 9,-3 12,8zM500,1047l7,-5 0,5 -3,4zM546,1048l-5,-4 2,-2 5,2zM525,1082l-4,-8 3,-6 1,-9 21,-2 2,2 -2,5 -18,4 3,12 -2,3zM495,1116l2,-9 -2,-6 -12,5 -9,-5 -5,0 0,3 5,5 15,8zM645,1276l-3,-3 0,3zM669,1307l1,-5 -2,-3 -2,3zM744,1499l3,1 5,-3 -2,-6 -6,2zM495,1902l3,-3 -1,-6 -8,-8 -3,2 0,9 3,5zM1571,2049l2,-6 -4,-9 -6,-3 -6,2 -2,7 3,6 5,4zM1539,2112l3,-9 -6,-12 -6,-3 -12,0 -12,-4 -15,-23 -27,-7 -6,1 -3,3 0,9 7,24 8,9 15,3 2,3 -1,12 2,4 9,2 18,-8 15,1zM1522,2067l-4,-3 -1,3zM1380,2091l1,-6 -7,-5 -2,2zM1247,2136l-5,-1 -6,4 0,7 3,2 6,-3 3,-6zM1389,2185l-3,-4 2,-6 10,-6 3,3 -2,9 -4,4zM1458,2227l-3,-4 12,-15 2,-15 7,-5 3,2 3,9 -1,18 -8,9zM1626,2235l-6,-2 -3,-7 2,-12 4,-4 6,2 3,5 -1,12zM1500,2228l-3,-5 3,-3 2,6z"/>
<path fill="#f8f1ed" d="M696,2340l-15,-17 -21,-4 -15,-13 -9,-21 -5,-32 -6,-15 7,-18 3,-21 13,-8 3,-10 -8,-24 -13,-15 -6,-24 51,-65 3,-13 -4,-15 3,-24 -11,-23 -6,-7 -3,0 -12,10 -6,0 -3,-2 -3,-20 -14,-9 -28,-30 -3,-21 3,-22 11,-20 0,-18 11,-27 0,-15 14,-21 -4,-12 2,-9 -5,-9 0,-9 -3,-3 -7,-54 10,-15 9,-6 12,-15 17,-36 12,-12 -2,-9 4,-12 15,-27 -1,-6 5,-18 23,-45 -1,-18 11,-21 0,-18 -6,-12 2,-15 -3,-18 1,-18 -7,-11 -18,-15 -6,-2 -18,6 -12,16 -4,36 4,12 -1,15 -8,15 1,15 -19,48 -4,24 -13,18 -24,54 -10,12 -4,9 1,9 -4,21 6,15 -3,12 4,9 1,36 6,24 0,30 -5,15 3,9 -7,9 -4,12 -9,12 1,6 -1,6 -11,9 -5,15 -14,21 -6,1 -9,-3 -12,0 -18,-9 -9,0 -10,8 -2,15 -3,6 -9,7 -6,1 -6,-2 -5,-9 0,-21 -2,-6 -17,-14 -51,11 -15,-4 -21,0 -6,-5 -6,-10 -9,-4 -9,5 -18,22 -12,6 -18,-6 -15,-2 -16,-8 -3,-6 5,-15 -4,-7 -6,3 -3,11 -18,-2 -18,2 0,-1669 1674,0 0,1661 -11,4 -14,15 -17,6 -4,6 4,7 18,0 9,4 15,25 0,131 -12,4 -4,9 4,4 12,3 0,30 -12,-7 -9,-16 -6,-4 -12,6 -15,16 -27,6 -9,10 -9,-2 -7,-7 -1,-6 12,-12 2,-7 -3,-4 -12,-3 -6,-6 -3,-22 -6,-13 -27,-20 -3,-10 -18,-4 -18,-18 -12,7 -18,5 -12,-5 -8,7 -1,6 3,3 9,2 0,10 -6,5 -9,-5 -6,1 -5,8 1,6 7,4 15,-4 15,5 15,1 3,3 0,6 -6,7 -18,-1 -6,3 -7,12 -17,18 -6,23 -14,28 -4,3 -9,-2 -7,-7 -5,-24 6,-9 18,-5 6,-4 2,-21 -2,-9 -11,-21 -13,-9 -21,-9 -15,-15 -7,0 -11,15 -3,21 -9,14 -6,1 -9,-3 -8,-9 -8,-15 -8,-2 -6,5 3,12 -1,6 -7,9 -5,12 -5,5 -24,7 -9,-1 -12,-8 -15,-1 -27,-12 -6,0 -12,5 -15,-12 -18,-1 -11,6 -1,5 15,7 3,6 1,12 5,7 20,8 2,3 -2,36 -5,15 -6,9 -6,-1 -36,-20 -18,-16 -42,-14 -9,3 -6,6 4,21 -9,21 -15,6 -13,2 -8,-2 -2,-9 7,-15 -6,-4 -27,11 -18,22 -9,6 -24,1 -21,-3 -21,-9 -27,-4 -27,6 -15,6 -18,-2 -21,4 -9,5 -6,18 -9,10 -9,4 -21,2 -6,4 -11,16 -4,9 -14,12 0,24 -4,7 -9,9 -9,2 -18,-8 -12,3 -10,8 -1,24 -4,9 -21,7 -15,0 -9,8 -6,2zM520,360l-1,-5 -3,-1 0,3zM540,384l2,-3 -8,-18 -4,3 -3,12 4,5zM463,459l2,2 14,-8 4,-15 -4,0zM417,516l3,0 2,-3 -4,0zM318,617l9,0 10,-8 0,-18 -4,-7 -6,-1 -10,5 -1,27zM325,681l-4,-3 -12,-1 -7,10 13,2 9,-4zM282,757l9,1 6,-3 6,0 4,-5 12,-42 -1,-4 -9,12 -7,-2 -5,-10 -6,4 -11,39zM384,852l1,-3 -4,-12 -10,-6 -5,-9 -18,-13 -14,13 2,6 6,6 3,10 9,2 15,9zM321,856l3,-1 2,-6 -5,-5 -4,5zM654,1256l3,-5 0,-12 9,-6 9,-12 6,-30 -9,-42 -11,-15 -4,-12 -12,-10 -2,-8 -37,-34 -6,1 -3,9 -9,-2 -2,-4 3,-9 -2,-6 -14,-9 -15,-6 -11,-9 -10,-2 -9,-8 -12,-5 -21,-4 -9,-7 -9,5 -3,-1 -9,-35 -27,-20 -16,-22 -5,-16 -17,-29 -7,-6 -7,9 -9,6 -13,-18 -2,-6 1,-10 -12,0 -9,3 -2,4 1,12 12,21 12,33 11,12 9,15 8,25 20,26 15,33 4,17 6,7 2,9 7,5 6,-6 12,-1 0,-8 12,-4 12,3 16,11 -4,10 12,-2 5,7 0,9 -4,6 -2,15 4,6 14,9 19,6 9,8 12,5 15,19 6,4 9,0 13,12 4,12 -3,9 -8,8 -11,4 8,9 9,3 12,10 12,0 9,6zM393,926l-4,-2 1,-5 3,-2 3,4zM492,1041l-3,2 -12,-4 -3,-10 6,-3 9,2zM474,1056l-2,-3 2,-3 2,3zM497,1116l1,-18 -15,4 -18,-10 -11,0 -1,3 19,15 20,10zM589,1227l0,-3 -3,0zM651,1285l0,-10 -3,-6 -6,-2 -3,1 0,7 2,6zM672,1318l3,-1 -1,-15 -4,-6 -4,-1 -3,1 0,6zM720,1518l3,0 4,-3 -6,-15 14,-7 7,10 8,5 3,-1 3,-7 -3,-12 -14,0 -6,-9 -13,2 -5,4 0,6 4,6zM756,1534l3,-13 -3,-7 -3,-2 -16,9 1,5zM732,1616l5,-2 2,-3 -12,-9 1,-3 14,-12 0,-6 -5,-6 13,-18 1,-9 -7,0 -10,12 -5,0 1,-6 5,-6 -15,-15 0,-12 -3,0 -4,6 2,9 -5,9 2,12 -2,18 13,24 -2,9 5,6zM1395,1933l15,-3 16,-10 3,-6 -1,-24 -18,-17 -6,-2 -11,16 0,18 -10,9 4,12zM1644,1884l4,-3 -1,-6 -3,0 -2,3zM1636,1932l26,19 4,-4 3,-15 5,-7 6,-4 24,-4 12,-7 6,-8 -2,-9 -4,-4 -9,0 -18,11 -12,5 -27,-5 -8,8 -7,18zM1594,1929l5,3 9,-3 14,-9 0,-6 -8,-3 -11,3 -9,9zM1725,1951l3,-4 -3,-5 -4,5zM1755,1999l6,-5 2,-8 -5,-8 -6,-1 -9,5 -2,7 5,8zM1296,1992l0,-3 -6,-3 -7,3 1,5 3,2 6,0zM1428,2020l6,-2 2,-2 -2,-3 -5,3zM1437,2168l-12,-5 -9,-18 -18,-8 -4,-7 2,-9 5,-9 12,-8 13,-16 11,-5 6,3 6,10 11,28 -2,6 -17,12 3,21zM1038,2122l3,-7 -2,-6 -7,-3 -9,3 -1,6 4,6 6,3zM1774,2235l-5,-9 5,-6 8,-3 15,2 6,-2 5,-6 7,-15 18,-7 7,-5 6,-12 -3,-15 8,-8 0,70 -12,2 -24,16 -15,-1 -15,3zM1707,2188l-3,-4 2,-9 7,-7 13,-5 1,-9 4,-3 3,9 -4,6 -1,15 -13,6zM1302,2184l-6,3 -6,-3 -4,-9 1,-9 6,0 9,6 3,6zM1777,2172l0,3 -4,2 -15,-2 2,-3 7,-2z"/>
<path fill="#faeae1" d="M705,2328l-26,-21 -10,-14 -21,-20 -1,-20 -5,-24 1,-18 11,-15 4,-12 -8,-45 4,-30 12,-18 6,-15 11,-15 12,-27 -7,-18 0,-21 -15,-27 -16,-20 -48,-22 -11,-9 -5,-9 -1,-15 3,-18 9,-18 1,-15 10,-30 0,-15 13,-21 -3,-12 0,-12 -4,-9 5,-9 -8,-6 -3,-48 6,-12 21,-21 9,-15 5,-15 8,-12 9,-9 -1,-9 6,-21 12,-15 3,-16 7,-2 -5,-6 7,-18 6,-7 3,0 3,7 0,6 -7,15 1,24 -3,21 7,15 -5,3 -2,6 3,4 8,5 3,12 4,3 15,-6 3,-3 0,-6 -7,-6 4,-8 6,4 4,-2 -2,-15 -4,-9 11,-15 9,-29 0,-10 -6,-29 -3,-5 -9,-1 -9,-10 -9,4 -4,-1 3,-12 -1,-9 4,-12 10,-3 11,-9 0,-3 -8,-3 -11,3 -2,-9 -7,-9 1,-15 -2,-36 -7,-12 -21,-18 -17,-2 -9,8 -10,15 -5,39 3,12 0,9 -8,21 0,15 -18,48 -4,23 -12,16 -11,27 -27,51 -4,33 6,15 -4,12 5,6 2,45 6,15 -1,30 -5,15 2,9 -7,9 -3,12 -8,9 -3,12 -7,6 -10,21 -9,9 -30,-2 -21,-9 -18,5 -9,0 -6,-4 -15,-21 -9,-5 -12,2 -18,12 -21,3 -9,-2 -20,-9 -2,-3 3,-9 -2,-6 -26,-27 -10,-6 -6,2 -5,7 -7,3 -6,-1 -9,-9 -6,1 -2,12 5,15 -15,9 -2,18 -7,5 -6,-3 -3,-8 0,-10 7,-11 -6,-6 -10,-3 -21,5 -33,-6 0,-36 6,-2 6,-6 -2,-6 -10,-13 0,-32 12,1 5,-7 -6,-12 -11,-9 0,-1509 1674,0 0,1648 -24,7 -21,-6 -9,1 -3,4 -2,17 -4,8 -16,1 -14,12 -6,-1 -9,-10 -6,-2 -18,5 -15,14 -15,5 -5,-2 -10,-14 -15,2 -18,-3 -15,10 -12,-8 -6,0 -9,7 -3,6 1,6 5,9 0,6 -6,6 -17,9 -3,6 5,12 19,24 0,6 -5,6 -14,4 -9,10 -12,-4 -15,3 -15,-17 -15,-4 -15,-9 -12,0 -18,10 -6,-3 -12,-23 -6,-24 3,-7 12,-11 -1,-6 -12,-12 -2,-15 -18,-11 -14,-19 -10,-1 -22,25 -2,16 -16,11 -5,18 2,15 10,24 -1,6 -14,12 -2,9 8,1 18,-10 12,-3 6,1 5,8 1,6 -5,9 -22,17 -8,13 1,9 14,12 1,3 -2,4 -9,2 -30,-18 -21,3 -15,-3 -4,-6 7,-10 3,-11 -1,-9 -5,-9 -3,-3 -15,0 -15,-4 -6,7 -6,30 3,4 18,6 2,5 -4,6 -13,8 -6,1 -11,-9 -4,0 -18,19 -24,13 -9,13 -18,3 -9,16 -6,6 -21,-2 -27,3 -5,10 6,21 0,6 -4,8 -6,4 -12,-2 -12,-10 -12,5 -10,-2 -2,-9 8,-9 1,-6 -8,-12 -43,-5 -18,-11 -6,0 -4,7 -2,24 -12,7 -11,14 -16,13 -9,4 -18,1 -9,4 -10,11 -6,15 -5,6 -21,5 -6,3 -9,15 -29,25 -2,6 3,12 -2,4 -30,4 -3,-2 -6,-15 -15,-7 -18,9 -30,7 -3,3 0,6 20,15 5,6 0,15 -4,8 -14,7 -9,12 -7,2zM525,363l-3,-9 -9,-5 6,14zM546,387l-12,-26 -5,2 -5,9 3,12zM525,414l-3,-3 0,3zM459,462l6,1 15,-10 5,-12 -2,-6 -6,3zM435,495l-3,-2 -3,1 0,7 5,-3zM414,523l9,-7 3,-8 -3,-1 -9,5zM390,566l6,2 6,-2 7,-14 5,-4 2,-5 -2,-5 -6,1 -3,7 -6,3 -3,8 -8,4zM315,624l12,-2 12,-13 -2,-21 -4,-6 -9,0 -9,6 -3,30zM306,771l0,-12 4,-9 4,-21 9,-30 -2,-6 -4,0 4,-1 6,-11 0,-3 -15,-6 0,-9 -3,-5 -3,4 1,7 -9,21 6,6 -15,12 -10,39 3,11 18,8zM306,712l-3,-4 3,-3 2,6zM654,1290l5,-9 -9,-18 6,-3 6,-21 17,-18 5,-30 -9,-42 -11,-15 -7,-15 -9,-8 -3,-7 -18,-19 -21,-18 -6,0 -6,9 -3,-1 2,-13 -14,-12 -21,-7 -9,-9 -12,-4 -9,-8 -26,-8 -16,-13 -9,-5 -10,-18 -27,-21 -17,-25 -4,-14 -14,-24 -12,-13 -3,1 -6,9 -6,4 -9,-7 -3,-15 6,-12 12,-6 2,-3 -2,-15 -36,-33 -12,10 -8,-1 -2,3 0,12 -8,11 -4,10 5,9 15,12 6,18 15,27 7,24 12,12 10,16 3,14 6,12 20,27 25,63 33,28 21,11 8,-3 1,-15 2,-6 10,-1 2,10 -5,10 -6,5 1,3 22,18 16,6 26,15 19,21 19,9 7,9 -1,12 -4,6 -9,4 -18,-5 -1,4 22,18 30,15 2,3 4,23 9,9zM396,1059l-12,-26 -6,-3 6,20 9,9zM474,1084l3,-3 0,4zM486,1095l-2,-6 8,-6 4,0 -1,10 -3,2zM675,1326l4,-6 -4,-21 -6,-7 -3,0 -5,4 0,6 8,17zM750,1464l-1,-3 -5,-1 -5,4 0,3 5,1zM742,1512l-10,-2 -4,-7 1,-3 6,-1zM751,1539l-4,4 -9,1 -11,-11 -1,-4 21,4zM243,1717l6,2 10,-3 10,-9 0,-6 -8,-1 -12,4 -5,6zM1716,1788l3,-3 0,-7 -3,-4 -6,0 -3,5 2,6zM1614,1853l5,-11 -2,-12 -6,-7 -19,-8 -14,21 0,9 3,3 15,-2 12,6zM177,1834l0,-6 4,2 -1,3zM271,1854l-1,-3 12,-12 5,0 -1,9 -4,5 -6,2zM1534,1875l1,-6 -2,-3 -5,0 -2,3 1,5zM1678,1890l-7,4 -5,-4 1,-3 4,-2 6,2zM1851,2027l-9,-2 -3,-3 -1,-18 -11,-17 -6,-2 -18,4 -6,-3 -2,-6 2,-9 9,-14 21,-7 2,-6 -2,-9 -3,-3 -6,0 -15,8 -27,4 -3,-3 0,-21 -3,-3 -6,-2 -20,2 -4,-12 2,-9 10,-4 30,0 21,17 6,-2 6,-11 6,-4 18,22 12,5zM1504,1926l8,17 9,5 9,-5 9,-13 11,8 7,-1 5,-5 3,-9 -4,-6 -7,-3 -18,2 -12,-2 -16,6zM1317,1954l6,-4 0,-6 -6,-3 -6,6 3,6zM1752,1958l-3,-2 0,-3 3,-3 5,0 2,3zM1341,1998l6,-1 4,-5 1,-6 -5,-5 -6,2 -4,6 0,6zM1446,1994l0,-6 6,-3 2,4 0,3 -5,3zM1581,2004l-6,0 -3,-3 -2,-6 2,-4 3,0 6,6zM1791,2060l-1,-5 4,-8 6,-3 3,1 1,4 -1,6 -6,5z"/>
<path fill="#fbe4d6" d="M660,2221l-4,-7 9,-30 -3,-24 2,-42 4,-9 14,-15 12,-27 5,-18 10,-15 2,-9 -11,-12 -2,-21 -17,-29 -15,-19 -24,-18 -39,-17 -5,-7 0,-24 7,-18 2,-18 6,-12 4,-18 1,-15 12,-18 -4,-12 1,-15 -3,-9 4,-9 -6,-9 -4,-42 6,-13 21,-23 12,-27 10,-15 7,-6 1,-15 5,-15 16,-25 6,2 3,5 -5,30 3,6 -2,6 2,9 10,9 4,12 6,3 18,-7 4,-8 -3,-9 5,-1 4,-5 -5,-24 4,-3 3,6 2,-3 -3,-9 11,-30 2,-12 -1,-12 -8,-27 -9,-6 -1,-3 7,-4 6,4 0,-6 -6,-9 6,-18 -2,-9 -8,-6 -11,-3 -13,-12 -4,-51 -5,-12 -23,-20 -10,-4 -5,-11 -1,-13 -8,-10 -9,3 -2,-2 2,-6 3,-2 6,3 3,-3 -14,-10 4,-9 3,-21 17,-21 6,-30 -9,-42 -21,-33 -10,-8 -3,-7 -17,-18 -22,-19 -9,-1 -2,-4 -16,-10 -18,-6 -12,-11 -12,-5 -9,-7 -22,-6 -26,-20 -13,-19 -26,-19 -18,-28 -2,-10 -13,-24 -12,-13 -6,-3 -12,12 -6,-4 0,-7 7,-9 2,-9 7,-9 -2,-15 -41,-39 -6,9 -9,2 -6,4 -2,12 -7,12 -2,12 5,10 13,14 22,45 4,15 7,12 8,6 19,42 21,27 26,66 33,26 18,10 12,3 24,18 21,9 21,14 21,20 18,9 7,8 -1,12 -3,4 -9,4 -21,-6 -3,1 0,3 6,9 18,13 12,5 18,12 5,12 2,12 5,3 6,9 9,-1 12,31 -6,4 -3,11 -7,12 -4,39 3,9 -1,9 -6,18 -6,30 -13,36 -1,15 -4,9 -11,15 -17,39 -21,39 -4,33 6,15 -4,12 4,9 2,42 7,12 1,18 -1,15 -6,15 1,12 -7,6 -1,9 -10,12 -2,6 -15,20 -6,5 -30,0 -30,-16 -21,5 -21,-17 -21,-7 -12,-17 -6,-3 -6,2 -15,14 -21,-6 -9,-6 -9,-14 -33,-17 -21,-1 -5,-5 -7,-16 -6,-4 -9,4 -12,17 -6,1 0,-6 6,-14 41,-39 1,-9 -6,-9 -12,-6 -27,9 -27,-7 -7,-8 0,-12 -2,-5 -20,-7 -7,-10 0,-1466 1674,0 0,1638 -18,-2 -15,-10 -12,-2 -24,10 -3,7 -2,15 -4,2 -9,-11 2,-15 -6,-12 -5,-3 -21,4 -1,-7 2,-15 5,-8 3,-2 12,1 21,-2 7,-7 -2,-6 -23,-6 -18,11 -9,-3 -12,-8 -6,0 -17,18 -9,15 -4,2 -6,-1 -13,-10 -11,-16 -15,-2 -5,3 0,12 -5,12 0,12 -5,8 -9,2 -6,-4 -2,-9 9,-12 -4,-6 -6,0 -6,15 -16,12 -8,21 -15,17 -21,11 -24,-6 -9,1 -9,11 -4,26 -11,4 -6,-3 -3,-7 11,-27 -1,-9 -13,-8 -21,2 -10,-3 -2,-6 12,-18 0,-12 -3,-6 -6,-5 -12,1 -10,10 -2,21 -21,9 -12,18 -16,12 -16,24 -5,33 2,27 -4,6 -6,-1 -15,-11 -6,-2 -14,5 -13,10 -3,0 -9,-7 -9,0 -8,6 -6,18 -4,5 -15,0 -33,9 -3,4 1,15 -8,12 -9,21 6,21 -2,6 -3,2 -18,-5 -2,-3 -2,-12 -14,-3 -10,6 -1,15 -4,6 -6,2 -18,-7 -9,1 -5,4 -10,18 -33,10 -21,-2 -30,-14 -18,-5 -6,1 -11,16 -26,18 -3,6 0,15 -2,3 -30,15 -8,18 -16,25 -18,5 -18,22 -12,5 -12,10 -27,10 -9,0 -11,-5 -10,-20 -6,-5 -6,1 -6,8 4,16 -1,6 -7,6 -11,3 -9,0 -5,-3 -10,-18 -15,2 -15,-5zM593,303l7,-1 0,-5 -6,2zM570,322l2,-4 -2,-1zM546,391l1,-4 -10,-24 -3,-3 -6,1 -3,-4 0,-6 3,1 2,-4 -5,-7 -3,9 -9,-5 -1,6 9,15 1,9 4,9 5,4zM402,385l2,-4 -2,-6 -3,-1 -2,4 2,6zM441,434l2,-5 -5,-9 1,-12 -4,-1 0,7 3,3 0,11zM527,414l1,-3 -9,-4 -3,1 6,9zM457,465l8,-1 15,-9 6,-11 1,-9 -7,0 -4,3zM447,479l3,0 4,-8 -7,3zM456,492l0,-4 -6,-1 -3,-3 -2,5 4,3zM389,567l7,2 6,-1 12,-16 4,-9 -4,-15 12,-14 11,-16 1,-6 -6,-3 -3,1 -5,14 -12,6 -3,9 0,12 -7,12 -11,6 -2,6 -3,3 -1,6zM327,645l3,0 0,-6 -8,-6 8,-6 3,-9 6,-6 2,-9 -3,-18 -5,-4 -6,-1 -6,2 -7,6 -3,30 2,15 8,2 0,7zM306,776l4,-2 3,-6 2,-1 1,4 5,2 9,-8 -3,-6 -15,-3 3,-27 10,-30 -1,-6 5,-15 -2,-5 -8,-1 -2,-9 -8,-10 -13,37 1,6 -9,12 -11,39 4,12 16,9zM321,786l-6,-1 -6,7 3,2 8,-2zM396,1065l3,-3 -9,-24 -12,-15 -6,-1 9,28zM660,1329l2,-6 -11,-9 2,9zM732,1458l0,-12 12,-9 6,0 0,18 -15,5zM1305,1574l15,-14 0,-8 -18,-19 -6,-2 -6,1 -9,7 -2,6 1,6 16,20zM748,1539l-4,2 -4,-2 4,-4zM1316,1653l8,-9 -8,-18 1,-6 12,-8 3,-4 -1,-12 -8,-7 -30,-9 -9,-2 -9,3 -4,3 -1,6 10,18 -2,18 4,12 17,18 6,1zM1398,1698l5,-6 -5,-18 1,-15 -13,-14 -12,-1 -3,6 1,15 6,15 1,12 7,6zM1341,1668l0,-3 -5,0 1,3zM1804,1680l-4,-8 -12,-4 -18,2 -8,4 1,6 7,6 21,5 8,-2zM1518,1750l6,2 3,-2 9,-19 15,-7 18,-17 6,-18 -1,-9 -5,-1 -15,6 -12,-2 -3,6 -1,12 -8,21 -15,17zM1278,1841l21,-9 21,-4 12,-20 20,-11 10,-12 18,-15 1,-9 -2,-6 -20,-6 -3,-3 -2,-6 1,-18 -8,-9 -9,0 -8,6 -1,21 -10,21 -20,16 -15,3 -11,8 -2,6 1,36 3,9zM1391,1746l7,4 9,-1 5,-18 22,-6 3,-6 -3,-3 -12,-1 -26,10 -5,9zM1680,1740l7,-3 2,-6 -3,-12 -3,-3 -6,2 -2,4 0,12zM1551,1770l2,-3 -2,-5 -6,2 0,6zM1728,1836l-6,7 -24,-11 -30,-3 -5,-5 -1,-6 6,-8 12,-6 6,-1 15,6 24,-7 3,4 2,21zM1663,1848l-4,4 -6,1 -13,-5 -5,-6 -3,-14 9,11 21,-1 2,4zM1551,1894l-4,-4 7,-16 3,0 4,4 0,9 -4,6zM1515,1902l-12,5 -11,-5 -3,-9 5,-10 12,0 11,7 2,6zM1278,1905l-3,-2 -3,2 3,3zM1851,1956l-7,-6 -3,-12 2,-6 8,-3zM1851,1983l-4,-6 4,-3zM711,2307l-15,-2 -8,-7 -2,-15 7,-10 6,-2 6,2 20,19 -3,6z"/>
<path fill="#fcdecd" d="M678,2189l-4,-11 1,-18 8,-12 16,-13 5,-8 -2,-6 -3,-2 -6,1 -12,8 -3,-1 -1,-6 3,-6 27,-21 1,-27 18,-51 -12,-22 -18,-20 -6,-15 -19,-30 -8,-16 -15,1 -12,-3 -18,-15 -11,-6 -4,-8 0,-10 5,-12 2,-15 7,-21 3,-24 3,-9 8,-12 -3,-12 -1,-21 3,-12 -4,-12 1,-6 -4,-21 0,-12 7,-15 19,-21 11,-26 18,-22 2,-15 5,-6 0,-9 14,-18 0,21 -7,9 1,9 18,35 12,4 21,-9 3,-15 6,-9 -3,-12 8,-9 -2,-12 11,-33 0,-24 -7,-18 3,-18 -1,-6 -4,-6 4,-18 -3,-9 -6,-6 -13,-6 -5,-7 -8,-5 -4,-51 -7,-12 -33,-27 -3,-6 -5,-30 -11,-9 4,-27 16,-21 7,-33 -3,-27 -4,-12 -24,-37 -10,-8 -20,-24 -24,-21 -27,-15 -18,-5 -12,-11 -21,-13 -24,-8 -24,-19 -12,-17 -24,-17 -20,-30 -2,-9 -13,-24 -21,-24 2,-24 -2,-9 -20,-21 -11,-8 -9,-13 -6,-17 -4,14 2,9 -13,6 -9,9 0,6 -6,15 0,12 16,24 23,45 5,15 7,13 8,8 1,6 18,33 21,27 6,21 8,12 8,27 4,6 25,22 102,57 24,22 18,9 5,7 -1,12 -4,5 -9,1 -21,-7 -3,1 0,6 9,12 18,14 26,13 8,12 1,12 8,9 2,6 6,4 3,-1 6,9 0,4 -12,-8 -2,4 5,12 7,12 -6,15 -6,42 3,18 -6,18 -8,36 -6,12 -7,33 -14,24 -17,39 -21,36 -3,33 4,18 -3,12 2,9 -1,6 4,36 8,12 -1,33 -5,15 1,9 -7,6 -4,12 -10,15 -12,12 -9,2 -24,-10 -36,-10 -12,-7 -9,10 -27,-10 -7,-8 0,-18 -8,-7 -15,3 -15,-7 -18,10 -6,0 -6,-8 -3,-21 3,-4 17,-8 3,-6 -5,-21 -18,-18 -12,-4 -6,3 -3,4 14,24 0,12 -2,7 -27,13 -15,-2 -10,-27 3,-6 13,-9 3,-9 -33,-37 -9,-5 -6,0 -12,15 -6,1 -6,-2 -8,-11 -2,-24 -3,-6 -8,-4 -18,0 -18,-5 0,-91 15,2 3,-4 -7,-6 -11,-2 0,-1348 1674,0 0,1611 -21,2 -11,-5 0,-9 14,-15 2,-6 -14,-7 -12,-11 0,-6 8,-9 -7,-18 2,-6 15,-13 3,-11 -6,-6 -28,-9 -11,-6 -1,-3 4,-9 -3,-2 -4,2 -3,9 -5,3 -27,6 -3,3 1,15 11,18 0,15 3,12 -1,6 -8,6 -9,2 -6,-2 -8,-24 -13,-16 -6,-4 -21,1 -12,-3 -12,13 -6,3 -6,-1 -6,-11 3,-18 -3,-2 -9,2 -5,6 7,39 -8,5 -9,12 -15,-5 -13,3 -11,-8 -2,-7 5,-9 12,-9 5,-27 -8,-27 -3,-18 -6,-8 -9,-1 -9,8 -5,10 -1,15 -3,3 -6,-2 -12,-11 -9,0 -28,34 -20,8 -18,14 -6,0 -9,-7 -3,-18 -5,-9 -20,-15 -8,-15 -18,-1 -24,-8 -4,-3 -5,-12 -15,-8 -16,-28 4,-15 -3,-9 -6,-12 -21,-26 -9,-3 -30,5 -15,-3 -7,6 -3,18 8,30 0,18 3,18 -3,15 17,18 11,21 11,15 6,15 -4,7 -30,9 -9,5 -1,3 19,20 6,1 12,-7 6,0 10,4 3,6 -7,7 -21,2 -5,3 -1,6 3,15 -5,6 -44,9 0,21 -13,21 -2,18 -4,6 -19,12 -1,9 5,27 -10,9 -8,12 2,3 15,-3 4,-3 4,-12 16,-4 9,-11 1,-6 -11,-24 0,-9 3,-6 16,-5 15,-13 6,1 6,6 3,20 -7,18 6,15 -8,15 -3,18 -12,11 -18,0 -10,4 2,9 13,6 1,3 -2,3 -10,6 -21,4 -12,16 -17,4 0,6 5,9 1,6 -9,12 -25,5 -21,14 -21,0 -33,20 -6,0 -2,-3 3,-15 -2,-6 -5,-4 -6,-1 -9,4 -15,16 -9,5 -9,2 -15,-6 -9,3 -24,14 -8,15 -7,6 -9,0 -15,-10 -6,-1 -3,5 3,36 -13,15 -7,24 -16,15 -6,0 -24,-9 -2,-6 3,-15 -1,-6 -18,-27 -18,-3 -4,3 -2,12 8,18 -1,9 -6,12 -17,15 -1,6 3,12 -4,6 -6,0 -15,-7 -12,-1 -14,11 -10,3 -5,-3 -7,-16 -6,-3 -21,8zM489,249l3,-3 -4,0zM603,297l-9,1 -4,5 11,3zM567,325l3,2 12,-18 -13,6 -3,6zM540,401l8,-14 -11,-27 -10,-3 4,-3 1,-6 -10,-12 0,9 -3,1 -9,-3 0,8 9,15 6,18 6,5 7,1 -3,9zM405,388l1,-7 -3,-9 -7,-2 -1,8 4,11zM435,393l0,-4 -3,0zM393,570l9,-1 13,-17 4,-9 -3,-15 25,-33 12,-1 6,-4 0,-4 -8,-3 7,-15 22,-11 15,-25 -3,-2 -15,6 -23,32 -8,3 -4,-6 -3,-21 5,-6 1,-15 -4,-17 -6,-7 -4,6 5,15 2,21 -4,6 2,24 8,9 -3,7 -15,2 -6,15 -11,6 -4,12 1,9 -6,12 -14,6 -4,15zM532,411l-13,-6 -6,3 0,3 9,8zM306,780l9,-3 3,2 15,-14 -3,-7 -13,-5 -3,-6 22,-92 -1,-28 7,-21 -3,-21 -3,-4 -6,-2 -9,1 -9,8 -2,45 5,12 -1,3 -5,1 -3,4 -4,16 -8,21 1,6 -8,12 -11,39 3,12 18,12zM309,796l6,0 9,-4 1,-3 -4,-7 -3,-2 -9,7 -2,5zM399,1068l2,-6 -10,-24 -18,-24 -4,-2 -3,2 13,36 14,17zM1737,1656l4,-3 4,-12 -1,-6 -4,-2 -6,3 -4,8 1,9zM1658,1662l4,0 18,-12 9,2 9,-1 2,-7 -5,-6 -3,1 -12,11 -12,-14 -3,0zM1419,1686l-6,-8 3,-4 4,6zM1310,1707l-1,-9 10,-12 13,0 10,6 -25,16zM1427,1698l-5,-2 0,-9 6,6zM1371,1713l-6,-1 -5,-11 2,-1 6,4 3,6zM1491,1821l-6,-2 -10,-10 -13,-24 -3,-9 2,-7 13,-11 5,-20 6,-5 6,-1 6,2 15,30 6,21 -3,8 -18,10zM414,1769l2,-11 -5,-12 -12,-5 -12,4 2,7 8,9 11,8zM1566,1791l-4,-3 -1,-6 8,-16 6,-2 8,6 -1,9 -7,9zM459,1785l0,-6 -3,-3 -6,-1 -6,4 1,6 5,4 6,0zM1361,1824l-11,4 -4,-4 4,-5 6,-1 5,3zM1329,1881l-6,3 -10,-6 -11,-14 0,-9 6,1 19,13 3,6zM1069,1995l-4,-2 -4,2 4,3z"/>
<path fill="#fcd5bf" d="M714,2163l-7,-9 0,-9 16,-15 8,-24 -6,-9 -1,-9 11,-39 1,-30 -2,-15 -7,-12 -22,-21 -16,-36 -9,-12 -1,-15 -3,-6 -10,-4 -21,3 -8,-2 -25,-19 -4,-8 5,-27 5,-12 5,-33 10,-21 -3,-12 -1,-21 5,-30 -3,-36 5,-12 12,-12 15,-30 21,-32 3,0 5,5 1,6 -2,9 14,15 6,2 12,1 18,-6 6,-6 7,-18 -1,-18 7,-6 2,-24 8,-27 -1,-21 -6,-18 3,-21 -5,-12 3,-18 -5,-10 -18,-11 -11,-12 -7,-52 -12,-16 -26,-22 -3,-18 -6,-18 -8,-6 -1,-3 5,-22 18,-23 5,-33 -2,-27 -12,-24 -21,-29 -51,-49 -27,-15 -21,-7 -9,-9 -24,-14 -18,-6 -27,-20 -15,-19 -24,-17 -18,-28 -4,-12 -11,-21 -19,-24 -3,-33 -20,-23 -11,-7 -8,-12 -6,-21 -8,-3 -6,-15 -13,-6 -1,-6 2,-13 10,-29 0,-9 11,-42 -2,-24 7,-24 -5,-21 -12,-5 -9,4 -7,7 -1,21 -2,12 2,24 -4,3 -14,48 -9,18 -8,33 2,12 20,15 8,12 0,9 7,4 15,-6 1,-4 -5,-9 7,-7 6,-1 3,11 -5,15 -10,9 -12,6 2,9 -4,12 0,15 16,24 46,93 10,12 8,17 20,25 6,24 8,9 5,20 7,13 26,23 84,47 18,11 23,21 16,7 7,8 -1,12 -6,4 -6,0 -27,-8 -1,4 3,9 10,12 18,14 22,10 10,12 2,12 11,21 0,12 11,18 -10,39 -2,18 3,18 -6,18 -8,36 -7,12 -1,12 -8,27 -11,18 -16,36 -23,39 -3,33 5,18 -3,12 -1,15 5,39 8,12 0,27 -7,27 -5,3 -11,21 -9,7 -6,1 -24,-6 -18,-8 -15,-2 -3,-3 -6,-16 -2,-15 0,-12 5,-6 -10,-9 -8,-21 -27,-10 -18,11 -15,3 -9,-2 -4,-5 -5,-18 -21,-10 -18,-19 -6,-2 -15,7 -6,-3 -4,-9 -1,-21 -4,-10 -6,-2 -15,11 -3,0 -3,-5 -4,-24 -8,-9 -9,-4 -14,1 -7,11 -6,4 -12,-2 -11,-10 -20,-27 -8,-17 -3,-1 0,-11 9,7 21,-5 3,-6 4,-21 -4,-7 -15,-9 -18,0 0,-1334 1674,0 0,1342 -15,-7 -6,18 -8,15 -4,15 -10,6 -4,9 4,9 13,2 7,-5 0,-15 2,-3 9,-4 12,0 0,83 -15,1 -14,-8 -3,-6 2,-9 -3,-5 -24,4 -8,-2 -1,-6 6,-12 -3,-9 -23,-9 -13,-8 -15,7 -21,3 -15,22 -5,3 -13,2 -18,-2 -9,2 -8,19 -1,16 -6,6 -12,-6 -12,-3 -4,-4 4,-9 15,-6 3,-18 3,-3 6,0 2,-3 -2,-1 -18,-2 -21,18 -6,-1 -18,-12 -21,-4 -6,5 -8,21 -13,1 -9,-4 -2,-18 -4,-5 -6,-1 -18,8 -6,-1 -2,-22 -16,-8 -36,11 -15,-7 -15,1 -4,6 7,16 1,14 -4,7 -9,1 -6,-5 -9,-15 -21,-11 -8,-7 -3,-12 2,-15 -6,-15 2,-15 -5,-6 -15,-5 -15,-11 -12,-5 -27,1 -24,-5 -29,7 -4,6 -1,18 -7,18 5,5 15,6 7,10 2,9 -3,15 1,12 -9,18 10,12 6,18 9,6 -10,12 -7,17 -12,4 8,27 -2,7 -9,2 -8,-9 0,-9 2,-8 9,-10 -9,-9 -6,2 -9,6 -12,22 -18,9 0,3 31,30 9,18 -3,9 -9,9 -2,6 4,5 10,4 0,6 -16,23 -23,25 1,6 8,15 -1,6 -12,16 -12,8 -12,14 -21,8 -12,9 -4,8 -1,18 -4,7 -9,7 -24,1 -33,11 -10,7 -16,18 -19,11 -6,0 -5,-5 -4,-28 -3,-4 -17,11 -13,15 -15,9 -8,24 -20,15 -4,12 3,18 -7,11 -3,1 -12,-9 -6,0 -5,3 -7,15 -6,0 -8,-9 2,-15 -3,-4 -18,2 -18,-6 -9,2 -6,3 -4,6 4,42 -3,9 -9,4 -24,-4 -15,6 -12,13 -6,1zM493,249l-1,-4 -5,1 2,4zM605,297l-5,-2 -6,2 -6,6 9,5 6,-1 3,-4zM567,328l3,0 9,-9 8,-1 1,-3 -4,-3 3,-6 -2,-2 -19,14 -2,3zM304,312l-7,-1 -6,7 6,2 6,-3zM540,403l6,-7 3,-9 -11,-27 -6,-3 2,-12 3,4 3,-1 0,-6 -9,2 -9,-10 -3,10 -9,-3 -1,7 9,18 5,15 11,12 0,8 3,3zM408,394l-1,-16 -5,-9 -6,-1 -3,10 6,13 6,0zM393,571l9,-1 14,-18 5,-9 -4,-12 3,-8 15,-16 9,-3 3,-6 12,-6 2,-6 -8,-6 6,-10 12,-9 9,-3 6,-8 9,-6 4,-12 -7,-5 -15,8 -24,32 -6,2 -3,-4 -2,-15 4,-15 0,-12 -9,-33 -5,-5 -6,0 -2,2 7,9 -1,12 5,12 1,21 -4,6 2,27 6,9 -2,3 -12,1 -7,8 1,6 -11,6 -5,9 -7,6 6,6 -4,13 -3,3 -9,2 -6,10 -3,3 -3,-2 1,7zM534,411l-15,-8 -5,2 -5,6 13,9zM423,462l2,-6 -2,-4zM466,477l6,-3 -1,-3 -4,0zM406,498l3,0 5,-6 -3,-5 -5,5zM1569,1025l7,-5 3,-21 -1,-3 -6,-4 -6,2 -2,5 2,25zM399,1072l3,-10 -9,-24 -18,-24 -9,-7 -3,1 0,9 13,33 15,18zM1615,1551l-12,0 -7,3 -1,3 1,3 14,-3zM1509,1578l0,-3 -5,0 1,3zM240,1600l-5,-7 -5,0 0,3 7,6zM309,1622l6,-2 9,-15 0,-6 -3,-2 -6,0 -5,5zM1467,1622l-3,0 -3,-5 0,-4 3,-3 6,4zM1467,1645l-3,-1 -1,-3 4,-9 3,6zM1851,1702l-9,-4 -3,-6 3,-10 9,-6zM322,1731l-7,1 0,-6 7,-1zM1256,1761l-5,4 -6,0 -6,-3 -1,-4 4,-5 6,-2 7,4zM1494,1767l-4,-3 1,-6 3,-1 3,7zM1168,1965l-2,-6 5,-12 8,-6 8,0 2,6 -10,9 -3,7 -3,3zM1149,1998l-9,2 -15,-4 -1,-7 4,-11 9,1 9,5 4,8zM759,2115l3,-6 -4,-9 -11,-10 -9,-2 -5,15 20,12z"/>
<path fill="#fac8af" d="M750,2071l-4,-7 3,-21 -7,-51 -4,-7 -15,-7 -7,-7 -10,-27 0,-15 -14,-12 -2,-19 -6,-6 -9,-3 -33,0 -22,-14 -5,-9 12,-63 8,-21 -3,-15 0,-21 4,-18 7,-15 5,-18 1,-27 12,-18 6,-15 17,-28 1,10 20,18 18,0 9,-4 9,-1 6,-6 10,-19 -1,-18 7,-9 3,-36 6,-15 -1,-24 -4,-15 1,-21 -4,-12 4,-14 -2,-7 -6,-9 -25,-21 -7,-18 -2,-30 -3,-9 -11,-15 -23,-18 -3,-6 0,-12 -7,-18 -9,-9 2,-12 15,-24 15,-9 -4,-15 3,-15 -1,-27 -8,-18 -27,-36 -24,-21 -23,-25 -12,-9 -24,-13 -21,-7 -10,-9 -44,-23 -21,-16 -16,-18 -18,-12 -11,-12 -7,-15 -7,-9 -12,-27 -19,-24 -7,-39 -19,-21 -10,-6 -9,-13 -6,-22 -15,-18 -12,-8 1,-14 10,-30 1,-9 10,-42 -1,-24 6,-24 -3,-18 -3,-5 -12,-4 -9,3 -8,9 -1,21 -3,12 1,21 -32,96 -2,12 2,9 19,15 12,23 14,7 -5,2 -6,7 2,12 -3,15 2,12 34,60 24,51 13,15 3,9 14,21 11,12 3,15 -6,12 5,4 12,2 5,21 6,12 28,25 99,56 24,21 18,9 6,6 -1,9 -8,6 -24,-7 -9,-6 -3,1 5,18 13,15 15,12 21,9 12,13 3,14 8,18 2,12 10,18 -10,42 -1,18 4,15 -9,24 -3,21 -10,21 -9,38 -11,16 -7,18 -24,45 -9,12 -3,33 4,24 -4,24 5,39 7,12 1,27 -9,24 -22,15 -11,-3 -9,-15 -25,-15 -5,-18 -15,-18 -2,-24 -5,-9 -6,-3 -12,-1 -9,-6 -21,1 -7,3 -7,15 -7,1 -3,-7 0,-9 15,-9 7,-21 -1,-3 -21,-12 -12,-21 -15,-3 -12,-12 -12,-5 -10,-16 -11,-10 -18,0 -15,-7 -15,3 -12,-8 -15,3 -14,-26 -1,-33 -2,-3 -22,-9 -4,-15 -5,-3 -6,1 -21,10 0,-65 4,-3 -4,-5 0,-64 10,-3 5,-12 -3,-7 -12,-1 0,-1159 1674,0 0,1317 -15,-6 -6,1 -9,11 -3,19 -3,5 -15,-2 -5,2 -4,30 -6,7 -6,0 -12,-6 -18,-6 -18,-9 -24,2 -2,9 -9,12 3,18 -2,6 -5,6 -6,2 -39,-13 -10,-10 -3,-12 6,-27 -2,-14 -3,-4 -9,2 -12,12 -12,1 -14,-6 -2,-18 -14,-10 -9,3 -9,16 5,15 13,15 -3,9 -6,6 -15,1 -18,-14 -6,0 -15,7 -4,-3 -2,-6 -15,14 -15,0 -21,6 -7,-2 -6,-6 -3,-24 -4,-6 -4,-2 -9,1 -12,9 -22,-2 -6,-3 -8,-15 -15,-5 -12,-8 -18,-2 -27,-9 -33,0 -18,-9 -36,5 -8,10 -1,27 -9,24 5,9 19,10 4,5 -3,27 -9,18 -3,15 2,7 11,2 0,9 -5,4 -12,-1 -19,12 0,12 -4,18 -4,6 -6,1 -6,-3 -9,-19 -6,-1 -24,2 -30,18 -15,-2 -5,4 -2,36 4,18 6,4 17,5 10,12 6,4 24,-5 6,2 3,8 -2,12 0,6 17,11 3,7 -3,9 -6,5 -21,3 -4,10 3,18 -2,6 -9,10 -16,5 0,24 -17,27 2,18 -2,6 -9,5 -33,4 -11,-6 -8,-12 -6,-6 -8,-4 -6,1 -11,9 -7,18 -6,-3 -4,-6 -8,0 -20,9 -4,15 -6,7 -9,3 -18,-3 -15,8 -5,12 3,18 -1,6 -18,26 -6,0 -6,-6 -6,-1 -7,2 -8,9 -6,3 -42,3 -24,7 -15,-7zM493,249l-1,-5 -3,-1 -3,3 3,5zM567,330l3,-1 6,-7 9,-1 5,-6 -3,-3 1,-5 4,-1 5,5 6,-2 5,-6 -2,-7 -6,-2 -6,2 -24,16 -7,9zM306,312l-3,-3 -8,0 -7,3 -4,9 13,1 7,-4zM195,324l5,-3 0,-6 -5,-5 -3,1 -7,7 6,6zM277,324l-3,-3 -4,0 -16,6 10,2 6,-5zM519,422l15,-9 12,-15 4,-11 -16,-33 7,-6 0,-6 -4,-2 -6,3 -9,-11 -6,9 -6,-1 -2,8 9,18 5,15 10,12 3,12 -7,2 -9,-6 -10,7 -5,9 9,0zM411,407l2,-5 -5,-24 -5,-9 -7,-2 -3,2 0,12 3,9 9,3 2,6 -2,9zM372,567l24,5 9,-3 17,-26 -4,-12 2,-6 15,-15 9,-3 6,-9 10,-6 3,-9 11,-9 -4,-9 2,-3 8,-2 15,-14 9,-14 -12,-7 -15,9 -24,31 -6,2 -4,-17 4,-12 0,-15 -9,-34 -6,-6 -6,0 -3,4 5,6 1,15 5,12 0,21 -5,10 -8,-1 -2,12 -4,6 5,0 9,-9 3,9 0,8 4,7 -7,0 -9,9 -3,-1 -6,-6 -6,3 -4,10 3,6 -1,6 -9,15 6,6 -3,9 -20,9 -4,9zM420,430l0,-4 -6,-9 -2,6 5,8zM459,479l0,-5 3,-1zM414,501l-3,2 -3,-2zM333,788l-6,-5 0,-4 3,-3 3,1 3,5zM1590,1099l6,-3 1,-4 -4,-15 -6,-9 -15,-3 -4,-12 3,-6 7,-1 4,-5 -1,-8 -9,3 -2,-1 2,-7 10,-5 2,-15 -3,-14 -12,-4 -6,3 -2,6 1,24 6,15 -6,18 -1,9 16,27 5,6zM402,1076l1,-14 -10,-27 -27,-33 -6,-1 -2,4 3,15 13,33 17,18zM1599,1507l9,0 7,-7 -1,-9 -6,-7 -9,4 -5,6 1,9zM1404,1503l-3,-5 -3,-1 -3,3 3,3zM1851,1621l-9,-1 -2,-6 2,-3 9,3zM371,1647l-5,4 -12,1 -12,-2 -6,-3 -5,-15 3,-12 5,-4 6,-2 7,15 17,5 3,7zM390,1688l-12,-3 -3,-2 1,-6 5,-3 3,1 6,8zM783,1693l3,-1 1,-6 -1,-4 -6,-5 -2,12zM1188,1773l-6,0 -7,-6 0,-6 4,-7 6,0 6,7 2,6zM1135,1824l4,-21 -8,-9 -21,-10 -9,2 -6,5 -1,6 3,6 20,18 11,5zM907,1899l0,-6 -4,-4 -6,1 -3,3 0,5 3,3 6,0zM994,2010l-4,2 -3,-1 0,-7 6,0z"/>
<path fill="#f8bda1" d="M780,2066l-3,-5 3,-15 -3,-21 -18,-7 -9,-43 -18,-3 -6,-4 -10,-27 0,-21 -12,-9 -4,-18 -14,-12 -23,-6 -18,-14 -13,-22 4,-2 7,8 8,2 9,-4 5,-7 -1,-9 -14,-21 -7,-6 -4,-8 -3,-25 1,-21 8,-14 6,1 9,5 3,-1 3,-4 0,-8 -7,-15 0,-9 4,-9 30,-36 -1,-9 -5,-15 6,1 9,10 21,-3 8,-5 13,-4 7,-8 9,-18 1,-18 4,-6 9,-54 0,-27 -3,-12 0,-48 -8,-15 -25,-24 -8,-18 -2,-30 -3,-9 -11,-15 -9,-6 -12,-12 -3,-6 1,-9 -10,-21 -7,-9 17,-24 5,-2 6,4 18,24 6,3 4,-2 6,-9 -8,-12 -1,-6 3,-6 7,-6 0,-6 -14,-27 -14,-12 -2,-21 -6,-12 -36,-42 -23,-19 -17,-20 -19,-15 -24,-12 -18,-6 -33,-23 -24,-12 -21,-15 -15,-17 -18,-12 -11,-11 -26,-51 -18,-24 -7,-39 -15,-15 -4,-6 -12,-9 -8,-12 -5,-21 -16,-18 -11,-9 1,-12 10,-30 11,-51 -1,-21 5,-30 -2,-15 -4,-6 -4,-3 -9,-1 -9,2 -9,10 -1,22 -3,12 0,21 -9,33 -15,39 -9,36 2,9 5,6 12,9 18,31 -3,35 3,12 34,60 1,6 23,45 13,15 2,9 14,21 12,13 2,14 -8,10 -3,0 -2,-10 -11,-9 -20,-27 -9,-3 -2,3 2,21 6,12 7,21 20,21 12,6 4,-6 -4,-18 2,-3 7,2 10,-2 5,12 -1,9 3,6 31,31 102,57 24,21 17,8 6,6 -2,9 -6,3 -18,-3 -21,-12 -2,6 7,18 13,16 18,14 21,9 10,12 12,39 9,18 -9,48 0,15 3,15 -8,24 -4,21 -9,18 -9,39 -12,18 -25,51 -16,24 1,12 -5,21 3,24 -6,15 0,9 1,15 5,15 0,15 8,15 0,10 -6,8 -16,0 -17,6 -6,-3 -6,-11 -12,-6 -11,-13 -8,-42 -15,-15 1,-21 -5,-12 2,-3 13,-6 3,-6 0,-6 -3,-6 -13,-3 -7,-6 -3,-9 2,-15 -4,-2 -6,2 -11,9 -6,9 -6,30 -7,7 -6,2 -5,-3 -8,-18 -9,-12 -4,-39 -5,-6 -35,-10 -33,11 -4,-4 -13,-30 -4,-4 -18,5 -14,17 -7,1 -5,-7 -1,-15 3,-6 15,-6 1,-9 -4,-13 -19,-32 1,-13 12,-14 -10,-12 -8,-33 -9,-11 -9,-2 -15,1 -30,11 0,-18 18,-4 5,-7 2,-9 -4,-33 -6,-2 -15,4 0,-41 3,-3 12,-30 -3,-5 -12,-1 0,-926 15,11 18,-4 12,9 10,-2 -10,-10 -6,-4 -6,0 -15,-8 -18,0 0,-131 1674,0 0,1300 -15,-12 -9,0 -6,7 -3,0 -12,-11 -21,-2 -7,-4 -1,-3 10,-15 13,-15 9,-7 24,-11 4,-6 -3,-6 -7,-4 -24,-3 -6,-3 -2,-5 1,-6 14,-12 0,-3 -16,-13 -9,3 -15,13 -3,15 -9,14 -9,20 -24,7 -15,21 -6,0 -15,-6 -12,2 -4,5 -5,17 -3,2 -3,-1 -3,-6 0,-12 -6,-27 -3,-4 -6,-1 -8,5 -2,21 -8,12 -9,-2 -21,-14 -7,7 -1,24 -4,6 -21,4 -15,-7 -9,-1 -6,4 -9,12 -15,10 -12,-8 -18,-3 -6,-6 -3,16 -9,6 -12,-1 -15,-8 -12,3 -30,1 -21,11 -33,-11 -15,-8 -21,4 -27,1 -24,-12 -15,4 -21,1 -24,6 -12,-1 -9,3 -9,10 0,9 5,9 17,18 4,27 17,24 1,21 -7,21 -11,15 -18,12 -14,14 -15,4 -33,-5 -7,5 1,9 -6,7 -6,0 -5,-4 -2,-15 -8,-4 -4,4 -1,12 -8,12 4,27 -7,15 -2,12 -5,15 18,30 12,15 -2,24 12,18 -3,9 -14,14 -3,10 3,10 15,8 1,9 -4,13 -6,5 -12,2 -15,-8 -24,1 -23,17 -16,6 -15,2 -6,-2 -2,-9 -7,-7 -9,-4 -9,0 -3,14 6,21 -6,25 -6,1 -12,-3 -18,6 -18,2 -4,5 -1,18 4,12 -2,7 -12,3 -18,14 -66,21zM494,249l-2,-6 -3,-1 -4,4 4,6zM565,330l5,0 6,-7 10,-2 5,-5 16,-10 3,-6 -4,-6 -12,2 -25,16 -7,12zM250,327l4,3 10,1 9,-4 6,0 3,-3 15,-1 9,-5 1,-6 -4,-5 -6,0 -12,4 -5,7 -10,-1zM591,312l-3,-3 3,-2 2,2zM369,578l3,-7 12,-1 12,3 9,-3 14,-18 5,-12 -4,-9 2,-6 24,-18 6,-9 8,-6 5,-9 10,-9 0,-9 5,-2 24,-28 31,-21 12,-15 3,-9 0,-6 -14,-30 6,-6 -2,-9 -9,3 -9,-11 -6,8 -6,-1 -3,4 0,6 10,18 1,9 11,18 2,12 -4,0 -8,-5 -6,3 -11,14 5,6 -3,3 -12,-2 -15,9 -27,33 -4,-4 -1,-12 3,-27 -10,-36 -6,-5 -9,-3 -1,2 0,9 4,3 2,15 5,12 0,18 -4,8 -9,1 -2,12 -7,12 3,4 15,-12 2,14 -11,13 -3,-1 -3,-7 -3,-1 -6,3 -7,14 2,12 -9,15 5,6 -2,9 -19,9 -9,27zM423,372l-1,-6 -4,-3 1,6zM411,411l3,-9 -5,-24 -5,-9 -8,-3 -4,3 0,12 4,10 9,5 -4,9 4,8zM420,432l1,-6 -4,-10 -6,-1 -3,8 9,10zM333,944l-9,-30 -6,-12 -3,-2 -1,6 6,15 2,12 7,6 1,5zM1611,1103l5,-5 5,-21 -1,-3 -12,1 -3,-2 -4,-11 3,-6 10,-6 1,-9 -7,-8 -15,-2 -5,-29 -3,-9 -13,-6 -6,1 -6,5 -1,6 2,39 -5,27 7,24 21,16 12,1zM1617,1273l4,-7 -1,-9 -6,-7 -6,0 -10,10 -1,9 11,5zM1740,1290l-6,-3 -6,3 -1,3 7,2 5,-2zM1602,1362l-3,-7 -6,1 3,7zM307,1410l1,-6 -4,-6 -7,-2 -6,2 -1,6 4,7 6,3zM1721,1473l0,-6 9,-18 22,-12 6,-10 3,-2 3,2 -2,16 5,12 -4,9 -8,5 -15,-1zM201,1459l-11,-7 10,-21 7,-3 10,6 3,9 -7,11 -6,4zM322,1461l-1,-4 -7,1 4,5zM177,1483l0,-23 6,5 2,8 -1,6zM1706,1497l-3,6 -8,3 -8,-3 -3,-6 3,-6 11,-3 6,1zM315,1507l-1,-4 -7,-6 -8,0 0,6 4,6 6,1zM1452,1550l-2,-5 1,-6 10,-14 9,-3 10,5 2,6 -2,3 -21,15zM1677,1572l-5,-3 5,0zM783,1697l6,-3 2,-5 -5,-21 -3,-1 -7,7 -2,12 3,9zM1029,1696l17,-7 2,-6 -4,-7 -6,1 -8,6 -3,6zM928,1908l-6,-21 -8,-15 -5,-2 -12,4 -21,20 -12,3 -4,8 4,6 3,1 15,-2 27,5 12,-1z"/>
<path fill="#f6b191" d="M817,2037l-4,-3 -1,-6 5,-6 15,-9 4,-9 -17,-15 -3,-18 -9,-18 -7,-9 -8,-5 -7,5 0,6 4,6 11,6 1,3 -3,4 -6,2 -21,-3 -18,-8 -15,-1 -12,-18 0,-6 3,-5 14,-4 -2,-27 10,-21 -1,-9 -6,-3 -18,9 -24,5 -30,-17 -4,-6 2,-6 8,-11 2,-10 -2,-9 -12,-15 0,-6 6,-6 18,-3 0,-6 -9,-15 -1,-9 7,-15 11,-9 -14,-8 -8,-22 -1,-6 15,-22 20,-17 9,-12 13,-9 12,-2 7,-7 10,-15 13,-60 3,-30 -4,-45 3,-30 -2,-12 -7,-15 -15,-18 -8,-6 -9,-15 -7,-42 -8,-17 -16,-13 -2,-6 2,-15 -6,-15 1,-3 6,-3 15,10 6,0 8,-4 25,-30 2,-6 -1,-9 -13,-30 -12,-9 -15,-18 -11,-30 -20,-15 -23,-24 -23,-18 -19,-21 -18,-13 -42,-19 -12,-10 -45,-26 -21,-16 -15,-16 -18,-11 -9,-9 -29,-57 -16,-20 -6,-37 -39,-40 -3,-17 -5,-12 -24,-21 0,-12 10,-30 12,-51 -2,-21 6,-30 -3,-15 -3,-6 -6,-4 -9,-2 -9,3 -10,9 -1,24 -4,12 1,21 -10,33 -15,39 -9,36 4,12 16,15 4,11 11,16 1,18 -2,21 9,15 8,26 6,4 3,6 -4,6 10,5 5,7 3,12 8,9 13,30 14,15 2,9 13,21 8,6 5,9 2,6 -4,5 -18,-8 -18,-27 -14,-9 -4,-6 -3,3 2,3 1,33 9,12 6,21 18,17 18,11 6,-1 -2,-24 8,0 6,-4 5,13 -2,4 -5,-1 -4,-8 3,16 12,5 30,29 72,39 21,15 9,3 24,21 14,6 7,6 0,5 -6,-1 -9,5 -6,0 -9,-4 -18,-14 -3,0 -1,3 10,30 13,15 17,14 21,8 10,11 20,57 -3,27 -6,21 5,30 -9,24 -3,18 -10,21 -3,21 -6,18 -12,15 -28,57 -14,18 -1,15 -3,6 -12,13 -6,2 -6,-4 -9,-13 -15,-3 -5,-4 -1,-6 2,-18 -5,-13 -9,-6 -18,-5 -6,-12 -9,-8 -6,2 -12,27 -6,5 -6,2 -12,-7 -7,-12 -14,-12 -3,-9 3,-10 12,-10 13,-4 11,-19 12,1 3,-2 1,-7 -4,-5 -21,3 -12,15 -15,-5 -6,0 -15,17 -9,4 -20,-20 -16,-12 0,-6 15,-9 2,-6 -1,-9 -7,-9 -29,-15 14,-18 4,-21 3,-3 14,-3 10,-6 4,-9 -3,-6 -17,-8 -12,-1 -12,5 -6,10 -6,3 -15,-11 -9,0 -3,8 5,27 -2,7 -6,2 -10,-9 -16,-33 -22,-13 -8,-11 -1,-9 3,-6 22,-12 8,-12 1,-6 -2,-6 -5,-2 -21,10 -9,-1 -8,-4 3,-33 5,-4 3,1 15,14 12,6 6,-1 3,-7 -3,-12 1,-12 -5,-15 2,-15 17,-11 18,9 6,-1 1,-3 -3,-12 -10,-10 -9,-21 -6,-7 -6,2 -9,8 -15,-2 -12,4 -8,8 -5,15 -5,5 -18,0 0,-78 6,1 4,-3 -1,-3 -9,-3 0,-795 15,9 18,-2 15,6 9,-1 3,-3 -21,-16 -6,0 -15,-9 -18,-3 0,-125 1674,0 0,984 -9,3 -3,6 3,6 9,5 0,126 -10,-8 -35,-14 -9,1 -8,7 -3,18 -9,9 -4,10 -3,1 -7,-11 0,-6 5,-9 15,-18 -1,-6 -13,-18 0,-15 -2,-5 -24,6 -27,-5 -12,-5 -30,13 -12,-7 -9,1 -5,2 1,18 4,7 15,4 12,6 9,-5 6,0 0,3 -3,4 -12,2 -9,18 -3,2 -15,1 -15,-2 -12,13 -12,7 9,14 12,4 6,10 2,11 -5,8 -6,2 -6,-1 -4,-6 -2,-20 -21,-15 -20,17 -5,9 0,12 4,6 11,9 0,6 -15,21 -14,8 -15,14 -21,-1 -18,5 -15,-3 -15,11 -43,17 -16,9 -37,7 -7,-1 -11,-16 -12,-6 -7,1 -11,8 -21,-2 -15,7 -21,-4 -21,-8 -45,11 -33,2 -12,4 -12,15 -2,15 5,11 19,19 3,18 14,43 1,17 -9,15 -19,13 -12,12 -6,4 -33,-6 -21,2 -18,-8 -24,5 -33,23 -24,32 -6,2 -12,-2 -6,4 0,6 6,4 21,2 36,15 5,21 14,18 -1,20 12,4 6,6 -2,15 2,18 -18,15 -2,9 1,18 -44,37 -15,-2 -18,0 -21,-11 -2,-9 9,-15 1,-6 -5,-24 -3,-4 -18,-3 -24,6 -24,11 -16,-7 0,-9 4,-9 6,-5 18,-7 6,-6 0,-3 -6,-2 -24,1 -6,-2 -3,-9 -12,-18 -21,-15 -7,-9 1,-9 12,-12 9,-15 15,-12 2,-15 4,-7 3,-1 6,1 18,14 12,-1 2,-6 -11,-29 -36,-19 -9,1 -11,23 -13,10 -15,8 0,5 6,4 0,4 -21,7 -18,13 -3,0 -3,-6 3,-15 15,-5 4,-10 -5,-27 0,-15 -5,-5 -9,0 -3,5 1,18 -7,12 -18,4 -21,-2 -5,4 -6,24 0,9 5,6 18,4 11,14 7,4 9,0 12,-7 6,1 6,4 0,7 -10,12 -3,9 1,6 16,18 4,12 -5,21 -12,18 5,18 6,6 10,3 6,-2 9,-14 9,-5 18,-2 14,5 3,3 0,6 -8,18 -12,9 -24,7 -3,5 0,9 3,3 13,0 2,15 6,6 30,-6 9,2 2,4 -3,9 -11,9 -9,3 -15,-1 -5,4 0,6 5,5 18,2 3,2 -5,27 -15,33 -13,4zM492,252l3,-6 -6,-4 -3,2 -1,5zM562,327l5,5 9,-8 11,-3 22,-15 2,-9 -5,-4 -15,4 -23,15 -6,9zM243,330l21,2 33,-8 9,-5 3,-7 -6,-6 -9,0 -45,18zM504,327l-4,-3 1,4zM366,580l6,-1 3,-5 9,-2 12,2 9,-3 19,-28 -1,-15 9,-5 29,-31 5,-9 9,-6 9,-18 13,-12 7,-10 32,-23 12,-15 3,-9 0,-6 -14,-30 7,-6 -3,-9 -10,0 -9,-9 -6,6 -9,2 -1,10 10,18 4,15 7,9 0,6 -2,3 -6,0 -6,3 -15,17 -24,15 -24,30 -3,-2 -1,-9 3,-30 -10,-36 -10,-9 0,-6 -6,-11 -6,-2 -2,4 6,12 -2,6 2,9 5,6 6,27 0,15 -3,5 -9,0 -4,4 0,12 -5,6 -2,12 -12,21 1,15 -5,7 -9,8 6,0 3,3 -2,6 -7,5 -6,1 -4,6 -9,24zM417,436l6,-7 -5,-15 -5,-3 2,-9 -5,-24 -5,-10 -9,-3 -5,4 0,12 5,12 6,3 1,3 -4,6 8,15 -1,6zM417,486l-1,-9 10,-11 3,0 0,11 -9,10zM351,983l-7,-23 -16,-36 -5,-24 -13,-18 -4,-1 -3,4 6,24 6,9 3,15 18,30 8,9 2,9 2,2zM1590,1138l21,-5 9,-5 8,-9 5,-12 3,-36 -8,-42 2,-18 -4,-6 -12,-9 -6,-2 -15,0 -21,-9 -9,3 -6,8 -2,21 2,18 -10,39 -1,12 3,12 5,8 17,7 3,15 3,6 7,4zM1599,1328l9,-8 8,-24 18,-18 -1,-21 2,-4 7,-5 1,-6 -8,-16 -9,-10 -15,3 -33,-7 -11,12 -5,21 10,21 5,39 13,18zM1728,1269l-18,4 -5,-1 2,-11 3,-2zM1707,1345l-11,-13 -4,-9 2,-6 7,-4 12,5 4,8 -1,9zM1707,1410l-6,-4 -4,-14 -11,6 -6,0 -5,-3 -3,-6 8,-22 18,-9 9,-8 6,2 8,10 0,15 3,6 4,4 9,0 1,2 -1,4 -16,11zM530,1692l-4,-3 -8,-18 0,-9 7,-10 15,-3 4,4 0,6 -9,18 -1,13zM915,1733l3,1 5,-3 1,-3 -3,-3 -6,1zM648,1780l-3,-2 -2,-14 2,-7 3,-1 6,3 4,8 -3,9zM768,1854l7,-3 5,-6 -4,-15 6,-24 -9,-18 -2,-12 -6,2 -6,10 -7,27 4,32 6,6zM942,1818l0,-6 -9,-3 -6,3 2,6 4,3 6,0zM1044,1836l0,-9 -3,-2 -1,8zM768,1881l6,-6 0,-3 -6,-4 -6,3 -2,4 2,5zM930,1955l-15,6 -9,-1 -15,-25 -1,-6 13,-1 9,7 12,4 6,8zM797,2007l-8,4 -11,-4 -7,-9 2,-9 7,-2 9,4 10,10z"/>
<path fill="#f3a481" d="M328,1434l-2,-9 7,-13 6,-6 15,-6 8,-8 3,-12 1,-12 -6,-9 -13,-6 -8,-7 -20,-5 -18,-27 0,-9 13,-15 0,-9 10,-13 3,-8 -3,-9 -20,-12 -5,-6 0,-15 -5,-15 5,-18 -3,-15 -8,-9 -12,-2 -5,-7 -20,-9 -1,-6 2,-6 13,-9 -10,-21 -3,-2 -31,8 -3,6 2,27 -2,9 -11,13 -12,6 -5,-7 -3,-15 14,-12 2,-12 -8,-12 -18,-5 0,-734 9,-5 1,-21 13,-9 7,-3 21,2 39,-2 33,-9 9,-6 1,-6 -4,-6 -9,-2 -12,3 -24,12 -15,0 -12,3 -24,-11 -21,-14 -12,-2 0,-118 1674,0 0,962 -15,5 -18,-13 -9,-3 -6,6 -8,21 4,6 19,2 6,4 9,30 -5,12 2,6 21,5 0,59 -18,-3 -15,-10 -9,-10 -3,0 -5,7 -7,4 -6,0 -6,-3 -3,-7 3,-18 -1,-15 1,-15 -6,-8 -9,-1 -6,3 -4,9 2,15 -7,6 -7,0 -29,-16 -30,-10 -8,2 5,9 -2,6 -13,1 -7,-4 -7,-27 -3,-39 -12,-21 -1,-9 6,-13 9,-8 9,-4 15,1 9,-21 0,-6 -15,-28 -20,-23 -4,-16 -24,-21 -9,-3 -18,3 -21,-4 -9,2 -9,6 -4,6 -2,39 -18,42 -1,12 20,39 2,16 21,11 3,21 3,3 24,-5 6,2 -15,14 -6,1 -9,-4 -6,2 -20,26 -5,30 1,18 -12,15 -5,12 9,21 0,12 -7,9 -10,6 -8,15 -24,9 -17,21 -8,18 9,18 -5,15 -9,5 -15,-2 -6,2 -14,13 -16,8 -18,-1 -12,6 -10,-10 -26,-6 -21,5 -18,-8 -9,-1 -30,5 -27,-1 -36,16 -30,-1 -12,2 -6,5 -12,17 -4,24 8,21 -2,15 1,5 4,4 14,3 5,6 2,6 -4,7 -15,6 -12,14 -2,9 1,18 -3,6 -11,7 -27,4 -27,-10 -24,0 -9,3 -12,14 -21,-4 -5,4 -4,12 -9,9 0,18 -6,6 -18,0 -21,6 -12,-2 -9,-5 -9,-14 2,-6 8,-9 0,-6 -14,-21 -4,-15 -4,-3 -12,1 -18,8 -22,0 -8,6 -15,19 -12,3 -12,-3 -10,-16 -3,-12 -14,-10 -6,-14 8,-60 0,-39 -3,-21 4,-24 -2,-15 -5,-15 -9,-15 -17,-16 -9,-14 -9,-56 -10,-19 4,-12 26,-21 21,-24 4,-18 -3,-15 -19,-27 -23,-18 -9,-24 -6,-9 -27,-18 -42,-34 -18,-19 -18,-15 -45,-20 -57,-37 -21,-15 -15,-16 -16,-9 -9,-9 -29,-57 -17,-21 -6,-36 -39,-42 -3,-15 -4,-12 -24,-23 0,-10 21,-81 -1,-21 5,-30 -2,-15 -3,-6 -8,-6 -9,-1 -12,4 -8,9 -1,24 -4,12 0,21 -8,30 -17,42 -9,36 3,12 15,15 6,15 8,9 4,21 -3,21 10,15 2,6 -4,13 -9,-5 -3,1 3,24 14,39 25,39 7,24 -3,9 -8,9 1,16 -9,-4 -12,-11 -6,-1 -15,9 -15,4 -9,8 -4,6 23,18 8,-2 12,-8 6,0 15,17 12,8 15,1 6,-5 6,-2 33,18 6,-1 6,-3 15,1 33,31 15,6 33,22 19,7 15,15 17,5 18,16 -1,9 4,5 6,-1 3,-6 11,5 1,3 -18,7 -9,-4 -24,-19 -5,4 2,9 12,28 13,17 20,16 22,8 8,9 17,57 -8,42 4,33 -9,21 -3,18 -9,21 -6,30 -9,18 -8,6 -12,15 -3,12 -13,21 -4,15 -18,17 -15,-1 -15,5 -5,-3 -1,-6 3,-21 -2,-6 -12,-15 -7,-13 -15,-4 -4,-4 0,-9 8,-18 0,-9 -4,-3 -15,-1 -15,-23 -20,-12 4,-15 -5,-8 -30,-6 -12,2 -12,6 -3,12 -6,4 -6,-3 -6,-10zM493,252l3,-3 -2,-6 -5,-2 -3,2 -2,3 2,5zM559,327l5,5 6,0 6,-7 12,-4 21,-14 10,-13 -13,-2 -15,4 -24,16zM366,581l6,0 12,-7 12,1 9,-3 15,-19 7,-13 0,-6 9,-12 26,-30 5,-9 9,-6 8,-9 2,-9 8,-6 10,-15 33,-24 12,-15 2,-15 -9,-21 -2,-9 5,-6 -2,-9 -12,-1 -9,-9 -6,4 -6,0 -6,-10 -6,-2 -2,3 2,3 9,6 -2,15 10,18 1,9 10,18 -16,10 -12,14 -24,17 -14,19 -10,8 -3,-8 2,-33 -9,-33 -10,-12 -4,-15 -9,-6 -4,9 6,12 -2,6 3,9 4,6 7,27 -2,17 -6,-5 0,-9 -4,-12 -3,-3 0,-9 -3,-21 -6,-12 -8,-5 -7,2 -3,6 1,9 5,12 3,3 -1,9 8,15 0,9 4,3 -1,6 4,6 3,12 -6,9 -2,12 -11,21 0,16 -3,5 -9,6 -2,3 4,6 -1,3 -7,3 -8,15 -7,21zM177,343l0,-10 5,6zM420,484l-3,-4 3,-6 6,-5 1,8zM378,1008l-4,-6 3,-6 -2,-2 -9,0 -11,-10 -7,-21 -16,-33 -4,-21 5,1 6,5 3,9 9,9 13,30 14,16 2,11 4,2 3,7 0,4zM222,1062l30,-15 4,-6 2,-9 18,-23 3,-25 -15,-21 -6,1 -5,5 -5,21 -16,15 -7,44 -4,10zM190,999l5,3 15,-7 4,-5 -2,-6 -5,-3 -9,3 -9,9zM405,1028l-15,-2 -9,-12 9,-5 9,4 6,7zM348,1060l0,-5 3,4zM423,1068l-3,-3 0,-6zM1636,1185l-4,2 -6,-5 2,-3 7,-1 2,4zM1563,1342l-2,-1 2,-11 3,-1 4,6zM1550,1398l-2,1 -3,-4 -5,-15 -11,-9 -1,-6 2,-4 6,-1 6,3 2,14 8,12zM362,1437l-5,-11 -6,-3 -1,8 3,6 4,2zM921,1588l3,-3 0,-4 -3,-3 -3,0 -2,6zM758,1656l-6,9 -8,4 -11,-4 -4,-6 3,-8 6,-3 15,1 3,1zM983,1770l-5,2 -16,-8 -11,-9 -14,-6 -2,-3 2,-6 11,-7 15,4 20,15 2,6zM738,1762l-9,-1 -2,-3 1,-9 4,-5 6,4 3,5 1,5zM864,1768l-6,2 -10,-6 -3,-6 4,-8 6,-3 6,3 4,8zM711,1779l-6,-1 -9,-8 -2,-6 5,-7 9,-1 12,6 -1,8zM901,1794l-10,4 -14,-4 -9,-9 0,-9 20,-7 6,1 7,18zM984,1898l-8,-5 -4,-21 3,-27 -3,-18 3,-12 -1,-15 16,-22 12,-3 9,1 11,6 6,9 1,12 -5,21 10,24 1,9 -6,17 -4,4 -23,11 -9,7zM705,1869l-6,-3 -5,-6 -4,-12 0,-12 3,-11 12,-21 6,-3 15,10 12,3 4,7 2,12 -6,18 -6,8 -12,7zM823,1881l-1,-6 6,-7 6,-1 6,2 2,3 -3,6 -8,4zM762,1915l0,-7 12,-1 8,-17 5,-6 8,-2 9,5 0,12 -9,14 -9,3 -12,-4 -6,3z"/>
<path fill="#ee9677" d="M177,930l0,-21 15,2 5,-5 1,-6 -9,-13 -12,-4 0,-7 9,-1 30,-14 -6,12 -1,9 4,7 9,3 11,-7 4,-12 -2,-12 -9,-15 -16,-14 -15,-6 -18,11 0,-57 18,-2 9,1 3,-2 -30,-11 0,-134 3,-5 -3,-4 0,-239 15,-2 5,-4 4,-24 9,-15 6,-2 51,-3 33,-7 9,-6 3,-9 -6,-8 -9,-2 -21,6 -15,9 -15,-1 -12,3 -23,-13 -5,-9 -2,-9 8,-51 -5,-5 -6,0 -24,13 0,-68 1674,0 0,920 -6,3 -3,4 -3,18 -3,4 -6,0 -21,-16 -21,5 -18,0 -4,19 -5,9 -18,15 -12,17 -9,3 -11,-11 -13,-7 -6,-8 0,-6 9,-18 -9,-12 2,-21 10,-18 -8,-18 -4,-21 -5,-9 -19,-10 -17,-20 -28,-23 -9,-1 -42,3 -14,6 -7,9 -8,36 -13,12 -1,18 -10,21 -1,9 1,9 6,12 1,21 13,28 6,6 16,-1 2,3 0,6 -6,9 -12,2 -3,16 -15,15 2,6 12,9 0,6 -5,10 -9,3 -4,5 -4,21 -6,12 -1,12 -4,15 -5,6 -15,11 -6,13 -15,5 -10,13 -1,6 5,9 1,6 -9,21 9,12 2,6 -6,3 -21,-1 -30,17 -36,3 -27,-2 -18,3 -21,-8 -36,-3 -33,5 -24,18 -6,2 -27,-3 -21,5 -17,24 -8,27 2,18 -3,18 9,24 0,6 -16,24 -7,15 -11,7 -12,2 -21,-6 -18,0 -15,-3 -24,8 -15,-9 -33,11 -29,-34 -4,-18 -5,-9 -7,-5 -15,-2 -27,6 -19,31 3,15 -5,3 -12,-1 -6,3 -18,27 -9,1 -5,-3 -2,-6 0,-15 -19,-18 -8,-21 2,-33 -5,-63 5,-24 -1,-18 -10,-24 -20,-24 -8,-12 -7,-27 1,-15 10,-30 -1,-18 28,-30 3,-6 3,-27 -4,-18 -19,-27 -21,-18 -10,-21 -11,-12 -69,-47 -19,-19 -20,-16 -33,-14 -67,-42 -28,-21 -10,-11 -15,-9 -9,-9 -27,-52 -18,-24 -8,-39 -38,-39 -3,-18 -5,-12 -22,-21 1,-15 20,-75 -1,-21 5,-33 -3,-15 -6,-7 -15,-5 -9,2 -7,4 -6,9 -1,24 -4,12 0,21 -8,30 -13,30 -13,45 3,15 16,19 4,14 8,9 4,18 -4,24 6,15 1,-3 5,0 -3,12 -9,-8 -5,2 -3,12 2,22 -3,3 -15,-1 -7,3 -14,36 -6,5 -18,8 -17,-13zM494,252l2,-3 -1,-6 -3,-2 -6,1 -3,4 3,6 3,2zM554,330l10,4 6,-1 6,-7 12,-4 21,-14 11,-11 1,-4 -9,-3 -21,6 -24,15zM365,582l7,1 12,-7 21,-3 15,-18 18,-33 30,-38 9,-6 8,-10 4,-9 17,-21 31,-23 12,-14 3,-8 0,-9 -10,-24 5,-12 -1,-9 -6,-2 -9,0 -9,-9 -9,2 -9,-10 -12,-3 4,10 9,9 2,18 6,9 2,12 10,15 0,3 -15,9 -12,14 -24,17 -15,19 -9,6 -2,-5 2,-33 -9,-33 -9,-12 -4,-15 -8,-8 -3,-1 -3,3 -2,9 3,12 -1,4 -9,-14 -6,-2 -8,3 -3,6 1,9 6,15 4,18 4,6 4,21 6,15 -6,9 0,6 -12,27 -2,18 -11,9 -3,12 -4,3 -13,36zM429,434l-3,0 -5,-20 -4,-5 0,-20 6,7 7,27zM375,990l-9,1 -9,-8 -23,-53 -1,-10 16,13 17,36 12,12zM333,992l-33,12 -3,-1 1,-22 -8,-15 10,-12 2,-9 -8,-8 -14,-4 -1,-6 6,-2 15,0 3,5 2,12 17,18 11,17 2,7zM177,984l0,-37 18,-3 6,7 -2,12 -11,15zM404,1023l-14,1 -4,-7 4,-2 9,1zM1728,1044l-6,2 -2,4 8,0zM177,1096l0,-20 15,-15 6,-1 2,8 -2,23 -7,4zM591,1513l-18,3 -21,8 -21,-5 -15,7 -9,-2 -18,-33 -9,-6 -15,-3 -4,-3 -9,-24 -13,-15 -10,-20 -27,-7 1,-15 -3,-9 -16,-1 -3,-3 -3,-14 12,-27 -3,-2 -12,6 -9,0 -15,-18 -17,-7 5,-6 15,-8 21,1 7,-2 3,-12 8,-9 11,-18 1,-9 -6,-11 -33,-7 -4,6 7,15 4,27 -7,3 -9,-1 -17,-14 -8,-51 -5,-8 -13,-7 -5,-6 2,-27 -27,-48 -10,-27 -1,-6 3,-6 3,0 12,12 24,13 15,2 6,4 4,8 -5,12 1,4 21,-3 24,6 4,-1 3,-6 -3,-27 -21,-9 3,-9 8,-9 6,-2 6,2 9,11 12,-1 7,-7 11,-3 15,9 9,19 15,8 12,1 36,27 6,-2 10,4 2,6 -4,9 11,9 5,24 22,42 26,21 27,10 6,8 4,15 -1,27 7,12 -7,39 6,30 -9,17 -18,15 7,16 -5,33zM1728,1156l2,-4 -2,-4 -3,0 -2,4 1,3zM576,1203l-21,-20 -10,-4 0,-3 13,1 15,16zM594,1202l-2,-2 2,-3 4,3zM471,1240l3,-7 -3,-4 -6,1 0,9zM1851,1261l-8,-4 -21,-21 29,-3zM1434,1326l6,1 5,-4 21,-33 35,-9 2,-6 -4,-9 -5,-4 -6,0 -18,6 -10,16 -14,10 -13,23zM1440,1414l8,-10 -8,-5 -5,8 2,6zM531,1508l3,2 6,-4 4,-9 -1,-5 -6,0 -7,5 -1,6zM941,1644l-8,1 -6,-4 -3,-6 3,-10 3,-1 11,14zM939,1680l9,-28 8,-11 4,-1 7,19 -1,12zM1014,1858l-6,-3 -8,-13 -1,-15 -5,-15 1,-9 10,-6 9,3 2,6 -8,24 12,10 3,8 -2,6zM726,1852l-9,4 -11,-2 -5,-12 2,-9 8,-5 18,4 2,10z"/>
<path fill="#e6866a" d="M1851,1078l-57,26 -9,0 -15,-9 -9,-1 -9,3 -15,11 -3,-5 -2,-11 5,-24 8,-21 -1,-6 -4,-6 -12,-4 -21,2 -27,-23 -15,-8 -26,-24 -16,-8 -15,-2 -24,2 -24,7 -12,10 -9,27 -16,15 -3,27 -14,18 -8,15 4,27 11,21 5,15 -5,42 -10,13 -15,8 -22,18 -11,36 -17,18 -15,24 -3,27 -11,18 7,12 7,30 -7,15 -14,15 -10,3 -21,-1 -18,5 -21,-4 -15,1 -36,-10 -9,-1 -39,11 -27,19 -21,-3 -30,7 -7,6 -12,21 -11,30 -2,30 4,24 -2,9 -18,33 -9,7 -39,-3 -18,-7 -21,-5 -7,-7 3,-15 -5,-4 -15,9 -21,-1 -15,9 -6,-7 -10,-30 -5,-3 -30,-7 -18,1 -12,6 -9,9 -6,18 -9,6 -15,-3 -15,-11 -15,-5 -15,-17 -5,-9 -7,-51 5,-27 -1,-18 -8,-24 -16,-24 -14,-36 1,-6 10,-3 3,-6 -2,-24 4,-27 6,-8 15,-10 3,-7 0,-41 -12,-31 -12,-17 -19,-18 -14,-24 -33,-27 -27,-11 -24,-15 -24,-23 -15,-11 -33,-14 -30,-18 -60,-41 -12,-13 -17,-10 -8,-9 -17,-30 -12,-27 -17,-21 -7,-36 -37,-39 -8,-30 -12,-10 -11,-14 1,-12 20,-75 -1,-21 4,-18 1,-18 -2,-12 -5,-6 -7,-6 -12,-2 -9,1 -6,3 -9,10 -1,27 -4,12 -1,24 -7,27 -14,30 -14,45 2,18 17,21 4,12 7,9 3,12 -1,6 -6,5 -12,-11 -5,3 -1,9 1,6 11,7 2,5 -2,15 -8,15 -10,3 -12,-5 -2,-7 2,-7 6,-7 9,-3 0,-4 -12,-1 -12,-6 -14,-11 -6,-12 0,-21 21,-39 1,-6 -11,-3 -27,9 -21,-6 -9,-1 0,-110 9,-1 6,-4 5,-19 -5,-31 -6,-5 -9,-1 0,-61 9,-11 12,-4 1,-4 -1,-4 -6,-1 -15,6 0,-105 18,-2 10,-8 2,-6 2,-24 8,-15 8,-3 42,-3 33,-7 12,-8 2,-9 -2,-6 -3,-3 -12,-4 -24,7 -12,8 -30,1 -7,-6 -1,-6 11,-12 2,-6 -9,-12 0,-3 4,-6 19,-9 3,-3 1,-6 -20,-26 -57,0 0,-34 9,-3 4,-6 1661,0zM495,252l2,-6 -2,-4 -6,-2 -5,3 -1,6 3,4 6,1zM362,582l10,3 12,-7 18,-2 6,-5 13,-16 15,-24 2,-7 17,-23 10,-9 3,-7 18,-16 2,-7 19,-23 30,-22 14,-18 2,-15 -10,-24 7,-15 8,-7 12,-4 6,-7 12,-4 21,-14 13,-12 -1,-6 -9,-3 -21,7 -24,16 -12,15 -12,10 -12,0 -6,-7 -12,-3 -4,-5 1,-6 -3,-7 -5,1 -1,6 -6,-2 -3,1 -1,7 12,15 3,18 6,9 5,18 7,9 -1,3 -16,11 -9,10 -27,20 -18,21 -3,-2 1,-30 -9,-36 -9,-12 -3,-15 -4,-6 -9,-4 -3,1 -6,14 -9,-3 -10,4 -2,15 11,33 4,6 4,21 6,15 -17,39 -4,21 -10,9 -13,27 -8,24zM423,410l-4,-2 1,-6 3,2zM426,425l-2,-5 2,-2 2,5zM183,801l-6,4 0,-5zM1491,903l-1,-9 -5,-6 -12,-1 -12,4 0,3 4,6 14,9 7,0zM240,921l-7,-6 -1,-9 7,-9 7,-2 4,5 1,9 -5,9zM1329,1000l6,-4 1,-3 -4,-13 1,-5 5,-2 12,1 4,-5 -9,-27 4,-21 -4,-6 -25,-10 -12,0 -6,2 -2,5 -1,18 2,15 -6,18 0,18 2,6 5,4 21,8zM357,974l-4,-5 -4,-12 -10,-21 0,-5 9,3 3,14 9,11 1,7zM372,986l-12,-7 0,-3 6,-2 9,7zM426,1100l-5,-2 0,-3 5,0zM567,1502l-6,0 -2,-2 -1,-18 -3,-6 -15,-8 -3,-8 -12,0 -9,-4 -4,-7 -1,-9 2,-8 6,-2 16,-2 9,-12 -1,-6 -9,-2 -15,3 -15,11 -6,2 -33,-5 -9,12 -6,-1 -3,-5 0,-9 3,-7 12,2 3,-4 2,-9 -8,-13 -1,-8 7,-13 13,-14 1,-6 -7,-12 -19,-10 -8,-8 -5,-12 0,-15 4,-5 15,-2 9,-5 3,-15 14,-12 3,-6 3,-21 8,-18 -2,-6 -4,-3 -34,-12 -4,-21 -8,-16 -15,-2 -21,5 -6,-1 -6,-9 0,-10 15,-12 6,0 19,9 6,6 5,12 6,0 15,-8 6,1 11,7 22,37 15,14 0,3 -10,12 3,12 7,4 18,0 6,5 5,18 4,5 18,10 18,20 21,2 5,5 1,10 -11,17 -1,12 10,27 0,21 7,21 -1,9 -7,6 -15,-2 -27,5 -15,20 -19,16 1,4 12,0 18,5 12,-8 6,-1 6,3 5,6 0,9 -5,12 -18,8zM450,1254l-21,4 -7,-4 -5,-18 2,-18 -11,-26 -3,-2 -7,10 -5,31 -6,4 -9,-5 -4,-6 -2,-12 -7,-12 5,-21 5,-8 27,-6 4,5 2,18 12,-5 4,2 6,24 11,10 8,14 3,15zM351,1229l-3,0 -6,-11 -2,-6 2,-5 9,1 4,4 0,12zM565,1341l-3,-9 -7,-2 -30,7 -4,7 10,6 27,3 6,-6zM491,1470l-14,1 -3,-4 6,-4z"/>
<path fill="#df765e" d="M1851,1060l-18,-2 -9,2 -27,29 -6,2 -9,-7 -21,-5 -7,-8 1,-9 3,-3 15,1 6,-1 4,-9 -4,-6 -21,-4 -15,-14 -24,-4 -21,-10 -15,-17 -18,-7 -12,-15 -45,-13 -42,6 -21,15 -10,24 -19,21 -4,24 -3,6 -30,30 8,30 14,21 1,15 -10,18 -1,18 -5,9 -19,21 -12,7 -15,3 -11,14 0,6 15,6 2,9 -5,9 -23,21 -15,24 0,18 -11,27 3,30 5,15 0,6 -5,6 -6,3 -24,-3 -21,3 -27,-4 -15,-7 -27,-1 -12,3 -48,21 -27,4 -39,14 -7,6 -15,24 -10,27 -3,27 5,24 -2,9 -13,20 -6,13 -6,3 -30,1 -9,-3 -18,-16 -6,-20 -6,-5 -24,-1 -15,6 -12,-1 -18,-25 -9,-5 -18,3 -18,-7 -13,1 -17,8 -30,25 -6,-12 -4,-3 -20,0 -9,-3 -10,-9 -2,-15 -9,-24 -1,-12 5,-42 -9,-30 -10,-21 0,-42 -3,-39 6,-12 18,-15 3,-18 -4,-21 0,-21 -15,-42 -8,-12 -20,-18 -11,-21 -35,-28 -9,-5 -21,-6 -21,-11 -45,-36 -12,-4 -45,-24 -65,-45 -13,-13 -15,-10 -9,-10 -16,-27 -12,-27 -17,-22 -7,-35 -38,-41 -7,-28 -22,-27 20,-84 -1,-18 5,-39 -3,-15 -13,-12 -12,-2 -15,1 -12,13 -2,6 2,21 -5,15 -1,18 -5,15 -1,16 -9,17 -15,21 -9,-4 -9,2 -6,5 -9,13 -6,3 -18,-9 -15,5 -15,-2 0,-57 27,20 4,0 2,-27 -6,-15 2,-6 13,-15 7,-24 -1,-4 -3,0 -9,7 -6,-1 -12,-23 -6,-4 -12,-1 0,-27 21,-11 7,-8 14,-9 4,-6 -10,-21 1,-6 9,-12 0,-3 -19,-14 -18,-6 -1,-7 19,-19 8,-20 6,-9 -2,-33 7,-15 6,-3 20,-1 36,-6 21,2 7,-7 6,-18 -3,-9 -7,-7 -12,-8 -18,-3 -2,-3 5,-15 0,-6 -19,-30 -1,-3 9,-6 3,-6 -13,-21 -9,-4 -15,6 -9,-2 -11,-9 -2,-9 1636,0 0,847 -3,2 0,3 3,1zM496,252l2,-6 -3,-5 -6,-2 -6,4 -1,6 4,5 6,1zM244,309l-4,-3 12,-24 9,-2 11,5 -3,15 -7,9zM359,582l7,5 6,0 15,-8 15,-2 6,-4 28,-39 3,-9 17,-24 30,-30 5,-9 16,-21 31,-24 14,-17 2,-16 -10,-24 8,-15 6,-5 12,-5 6,-7 12,-5 22,-14 13,-12 -2,-8 -9,-2 -21,7 -24,16 -22,23 -8,2 -6,0 -6,-7 -10,-4 -8,-19 -6,0 -12,10 0,6 13,15 3,18 6,9 6,18 6,9 -25,23 -27,20 -18,21 -1,-34 -10,-33 -7,-12 -8,-21 -7,-5 -6,0 -6,12 -15,1 -6,4 -1,15 15,42 8,33 -11,24 -9,36 -10,9 -12,27 -9,24zM1008,360l4,-6 -1,-9 -6,-4 -6,1 -5,6 2,6 6,6zM973,387l-1,-6 -6,-5 -9,3 -6,8 3,6 6,2 8,-2zM870,412l7,-1 2,-3 0,-7 -3,-1 -6,4zM177,482l0,-23 6,3 5,9 -2,6zM603,547l-1,-4 -5,-1 0,4zM258,688l3,-3 0,-7 -6,-15 6,-6 12,-6 3,-6 -3,-6 -9,-3 -12,2 -10,13 11,12 -2,12zM259,828l-10,3 -12,-6 -5,-9 2,-8 9,-2 15,4 4,9zM1215,846l2,-6 -2,-8 -6,-3 -7,2 -3,6 4,7 6,4zM1399,954l-6,-18 2,-15 -3,-8 -9,-3 -4,11 -5,3 -8,-3 -2,-6 2,-6 10,-9 7,-12 10,-9 0,-6 -7,-6 -24,4 -9,4 -3,6 -1,13 -5,5 -27,-6 -51,5 -20,32 6,6 0,3 -4,2 -9,-4 -21,1 -27,-3 -15,-15 -7,10 1,6 15,3 3,4 6,14 2,24 4,4 12,4 11,16 1,9 -3,3 -9,-1 -18,-11 -9,-1 -2,4 0,12 4,9 22,12 8,-3 10,-13 6,-3 15,1 18,11 4,-2 1,-18 7,-6 4,3 5,12 6,5 18,-1 17,5 4,3 3,10 21,-5 8,-5 3,-6 1,-18 11,0 5,-9 -3,-6 -5,0 -8,15 -6,-8 -1,-7 8,-9 5,-14 9,0 6,-2 8,-11zM1501,906l-3,-24 -7,-7 -36,6 -8,7 0,9 4,6 28,14 12,-1zM483,1173l-9,-5 -2,-7 2,-3 3,0 6,6 2,6zM1398,1274l4,-2 2,-12 0,-4 -3,-1 -4,2 -3,6 1,9zM558,1281l-1,-6 4,-3 2,3zM459,1314l-4,-9 4,-8 21,-11 6,3 2,13 -7,12 -10,4zM535,1320l-7,-9 1,-6 26,-16 6,10 -2,9 -14,12zM532,1389l-1,-3 3,-3 24,-9 9,-8 9,-13 8,-21 7,1 9,9 8,20 -5,21 6,12 -3,3 -18,4 -39,-11z"/>
<path fill="#da6853" d="M1851,1014l-21,8 -18,-7 -21,-2 -6,4 -9,12 -9,1 -6,-2 -12,-10 -24,-4 -22,-12 -25,-30 -19,-10 -21,1 -30,-12 -45,4 -30,23 -6,24 -21,24 -1,18 -4,9 -7,6 -24,11 -6,7 -3,15 12,14 17,34 -2,11 -9,10 2,18 -3,9 -20,25 -23,8 -16,15 -27,5 -9,7 -1,9 4,26 3,6 6,4 2,6 -4,12 -3,24 -12,12 4,45 -2,12 -2,3 -40,5 -12,-2 -30,-10 -27,2 -51,24 -33,4 -44,19 -13,18 -15,6 -2,3 -8,30 2,15 -1,15 8,21 -1,9 -19,27 -9,5 -21,1 -8,-6 -3,-6 -1,-12 -8,-15 -2,-18 -5,-5 -9,0 -15,6 -12,0 -21,7 -9,-6 -15,-18 -12,-4 -18,4 -18,-2 -9,1 -39,20 -42,-7 -18,-32 -5,-12 6,-48 -6,-27 -8,-18 -6,-78 4,-12 19,-18 4,-24 -5,-18 -2,-27 -19,-53 -21,-19 -15,-24 -33,-26 -15,-8 -18,-5 -24,-9 -45,-35 -9,-3 -12,-8 -9,-2 -51,-31 -39,-27 -30,-26 -24,-36 -11,-27 -16,-19 -9,-37 -10,-13 -27,-27 -7,-30 -13,-15 -6,-13 12,-60 7,-20 -1,-18 6,-44 18,-1 9,-6 18,-4 34,-44 2,-9 17,-24 13,-15 6,-3 11,-12 19,-27 33,-27 12,-15 3,-12 -10,-27 2,-9 11,-12 54,-33 11,-12 1,-6 -6,-4 -6,-1 -21,8 -24,15 -12,14 -12,10 -6,2 -6,-2 -6,-6 -7,-3 -11,-21 -6,-1 -8,7 -5,6 0,6 13,16 3,17 17,36 -41,36 -10,6 -14,18 -4,-9 1,-21 -8,-27 -13,-34 -5,-8 -7,-3 -6,0 -9,11 -12,1 -5,3 -4,9 1,12 14,39 8,33 -11,24 -9,33 -8,9 -9,15 -13,35 -3,2 -23,-16 -10,-10 -8,-11 -7,-2 -10,5 -8,9 0,6 6,9 -3,6 -12,3 -9,11 -9,1 -9,-8 -12,-7 -17,-18 -3,-6 -1,-12 6,-7 9,0 16,7 17,15 6,0 9,-24 -18,-15 -1,-6 13,-16 21,-10 3,-10 0,-15 -2,-6 -4,-3 -24,-9 -9,2 -20,13 -7,2 -12,-1 -12,-8 -3,-5 3,-9 9,-12 12,-8 5,-10 0,-6 -10,-27 -1,-9 4,-6 4,-3 10,1 5,8 1,21 3,5 6,0 24,-22 9,-2 15,1 13,-6 8,-16 12,-4 1,-4 -6,-18 2,-24 -15,-10 -7,-8 -2,-19 -15,-6 -5,-5 0,-21 -14,-18 -9,-24 1582,0zM492,255l5,-3 1,-6 -3,-6 -6,-1 -6,4 -1,6 4,6zM852,429l18,2 24,-7 21,5 9,-4 9,-12 15,1 15,-3 8,3 -8,9 3,6 3,1 5,-4 3,-12 31,-6 9,-21 15,-2 9,-4 6,-6 9,-18 6,-1 12,7 9,-1 30,-19 7,-7 2,-6 -5,-6 -7,-2 -15,6 -9,-2 -9,-7 -12,-18 -15,7 -9,-2 -15,-33 -1,-18 -5,-4 -8,13 -10,9 9,34 -14,8 -6,15 -7,6 -6,2 -12,-14 -11,0 -10,9 -3,16 -3,4 -21,-13 -6,0 -6,9 -7,26 -5,4 -18,7 -25,19 -3,15zM915,326l6,-11 0,-6 -6,-7 -12,-3 -2,7 2,10 6,9zM1053,342l-5,0 -3,-3 2,-9 5,0 3,3 1,6zM1170,340l0,-7 -9,-5 -1,5 2,6 5,2zM897,409l0,-5 3,0zM624,590l4,-5 0,-6 -9,-18 4,-21 4,-6 12,5 6,-2 3,-9 -4,-12 -5,-5 -24,-11 -15,3 -18,-6 -10,1 -4,3 -1,6 10,45 5,7 21,8 12,22 6,2zM243,605l-1,-11 4,-5 3,-1 3,3 0,9 -3,4zM282,621l-4,-6 1,-9 6,-7 6,-1 3,3 0,8 -6,10zM582,665l9,0 10,-5 4,-21 10,-15 0,-6 -5,-6 -16,-3 -9,9 -3,6 2,12 -8,15 1,9zM279,674l-3,-2 3,-5 3,2zM1381,1059l2,-3 -2,-12 4,-12 13,-17 9,-22 -7,-15 1,-5 16,-13 -8,-42 -6,-15 4,-4 12,0 7,-5 -4,-12 -28,-24 -8,-3 -15,-2 -15,-12 -25,17 -9,21 -14,4 -15,0 -4,-4 1,-3 24,-10 9,-11 0,-9 -12,-10 -9,-2 -13,12 -20,3 -24,-17 -15,-4 -15,-9 -9,-1 -18,2 -15,-12 -6,-1 -3,2 -3,16 3,3 9,2 5,4 9,30 1,12 -6,6 -18,-2 -3,1 -5,34 -4,7 -6,2 -12,-10 -11,1 -12,9 -4,6 -1,9 4,6 14,9 7,15 15,-1 5,4 2,12 -7,15 2,9 25,33 27,12 1,3 -5,15 4,9 12,7 15,-1 9,-6 0,-12 10,-9 11,-4 30,-1 12,-10 6,-2 6,2 2,18 10,7 12,-2 27,-15 6,0 9,7zM1271,867l-2,6 -6,2 -14,-2 1,-6 10,-8 6,0zM1526,933l1,-21 -4,-18 -6,-9 -18,-18 -8,-4 -9,0 -18,7 -21,2 -6,4 -8,21 3,9 6,6 41,16 24,-6 12,15 6,0zM1205,921l-6,-6 -5,-12 12,-21 12,-8 20,2 -5,6 -18,7 -6,5 1,9 9,12 2,6 -6,3zM1371,1120l7,-4 0,-6 -7,-10 -6,-4 -3,5 -1,12 4,6zM1426,1269l-6,0 1,-3 4,-1z"/>
<path fill="#d25849" d="M825,1530l-21,-26 -4,-13 5,-36 -3,-39 -13,-47 -4,-25 4,-16 20,-29 4,-33 -6,-18 -3,-24 -10,-24 -8,-36 -20,-15 -16,-24 -33,-28 -24,-12 -18,-4 -27,-10 -36,-27 -57,-29 -27,-17 -24,-19 -13,-7 -29,-25 -24,-35 -14,-33 -15,-18 -8,-33 -36,-42 -4,-21 -12,-21 -5,-21 0,-9 4,-15 5,-30 10,-16 16,-5 4,-6 -2,-7 -9,-7 -3,-6 -4,-13 1,-9 3,-3 15,8 6,-2 1,-6 -4,-9 3,-3 15,-5 36,-46 3,-9 15,-23 32,-31 19,-27 30,-25 14,-17 2,-9 -1,-9 -9,-24 5,-9 25,-21 12,-5 24,-15 12,-12 1,-7 -4,-4 -6,-2 -24,8 -24,15 -12,13 -12,10 -6,3 -5,-1 -7,-7 -6,-3 -12,-21 -6,-1 -9,6 -5,8 0,6 14,18 1,12 8,14 2,10 7,15 -50,42 -10,12 -3,1 -2,-4 1,-21 -11,-36 -15,-33 -9,-5 -6,0 -9,10 -18,4 -4,6 -4,15 13,30 8,24 4,21 -3,12 -7,9 -10,36 -15,19 -6,2 -9,-4 -15,3 -9,-1 -10,-7 -7,-12 6,-21 -1,-12 -5,-21 6,-33 -1,-9 -6,-6 -21,-11 -15,1 -3,-3 -1,-5 4,-10 6,-7 6,-1 12,2 30,-8 11,-6 14,-15 1,-9 -11,-30 8,-24 -5,-9 -16,-9 -22,-45 -16,-21 3,-24 716,0 1,2 2,-2 60,0 4,7 9,5 3,-3 2,-9 757,0 0,717 -6,6 0,15 -10,12 -5,9 1,3 5,3 15,-3 0,39 -21,-12 -30,-1 -10,7 -6,18 -5,7 -9,6 -6,-1 -26,-21 -13,-19 -15,-6 -12,-8 -21,3 -21,-12 -6,1 -9,9 -6,1 -18,-7 -27,1 -29,-5 -18,-21 -1,-15 -14,-21 -25,-21 -15,-9 -12,-1 -21,6 -18,1 -18,8 -6,-2 -18,-17 -11,-7 -10,-14 -6,-3 -21,-4 -15,10 -6,1 -6,-4 -9,-10 -9,-5 -21,1 -18,-6 -33,5 -36,-8 -33,-14 -9,1 -3,5 -9,36 -6,9 -9,-6 -6,-1 -15,6 -18,2 -8,8 0,6 4,6 10,5 4,-2 8,-12 12,0 18,-10 11,13 3,9 -7,21 -4,7 -55,38 -8,30 -6,12 -1,12 7,8 27,11 12,13 15,1 15,8 36,31 4,6 4,21 -1,6 -8,12 5,6 11,0 6,-7 6,-3 36,-3 20,-11 10,-12 6,-2 15,5 15,1 12,8 4,12 12,15 -2,24 -6,18 11,21 0,24 5,7 12,7 13,16 -2,21 9,24 0,9 -5,21 8,18 -8,10 -5,14 3,24 -1,23 -6,5 -18,1 -15,5 -15,-4 -18,-11 -6,0 -27,10 -48,23 -39,4 -18,12 -21,7 -15,14 -18,6 -15,20 -9,8 -15,-4 -15,14 -21,-1 -9,2 -36,33 -9,-1 -18,-18 -15,-3 -21,5 -24,0 -39,20 -24,-4zM735,486l15,11 15,-21 12,3 9,0 15,-10 6,-2 15,7 12,18 9,4 6,-4 23,-30 19,-12 21,-7 21,-3 21,0 22,7 6,-3 8,-14 6,-4 21,7 6,-7 4,-18 5,-8 27,-20 6,-2 18,6 18,-19 24,-5 4,-12 11,-12 3,0 6,12 6,4 15,1 11,-5 16,-21 -1,-6 -9,-12 -1,-15 -7,-8 -21,-12 -6,0 -22,11 -11,17 -30,5 -7,-7 -2,-18 -6,-9 -12,-7 -15,2 -3,-1 -5,-24 -16,-20 -24,24 -30,-5 -9,2 -9,5 9,18 -5,21 -7,8 -12,0 -12,-7 -6,-10 12,-22 10,-11 -4,-6 -6,-3 -6,2 -24,21 -3,1 -18,-19 -9,-2 -3,3 2,15 -4,21 22,33 7,18 0,9 -3,18 -6,9 -21,18 -21,8 -3,4 -5,45 2,3 12,7 1,5 -7,4 -15,-6 -21,1 -24,-22 -12,-3 -9,5 -3,6 -1,6 5,12 -1,7 -12,1 -9,5 -7,8zM492,256l6,-4 1,-6 -4,-7 -6,-1 -6,3 -2,8 5,6zM552,714l6,-4 3,-8 -1,-6 -8,-12 3,-7 27,12 15,-2 8,12 10,4 8,-4 9,-18 2,-18 -11,-18 7,-21 -2,-18 14,-24 -2,-18 15,-12 10,-27 -1,-18 -11,-12 -5,-21 -6,-10 -6,-5 -9,-2 -8,2 -31,25 -33,8 -18,-5 -8,5 2,13 10,20 -8,18 1,14 3,2 12,-10 6,1 7,11 -1,12 -5,9 -13,9 2,12 -29,12 -18,-5 -6,1 -3,4 -1,9 3,6 13,9 18,9 6,0 19,-12 5,-17 3,-4 5,0 1,12 -7,12 4,18 -3,10 -6,2 -21,-6 -5,6 1,9 4,7 18,25zM704,534l16,20 39,-5 13,-6 8,-13 21,-11 5,-12 -3,-6 -5,-3 -36,4 -12,-4 -12,13 -21,2 -12,15zM690,558l-3,-7 -9,-3 -12,7 -3,10 6,4 13,-2 6,-3zM357,556l0,-5 3,0zM533,591l-1,-6 -6,-6 -7,2 -5,4 2,6 6,4 6,0zM450,654l4,-3 -1,-9 -3,-4 -9,-2 -2,3 2,7 6,8zM407,693l-8,-4 -3,4 1,3 5,2zM1236,765l6,-7 1,-5 -4,-4 -9,0 -4,4 0,6 4,5zM588,777l6,7 30,-3 14,-7 5,-6 -4,-4 -33,-4 -10,5 -6,6zM1401,1218l-3,-3 1,-9 -2,-9 -11,-21 6,-18 -3,-3 -6,-2 -12,5 -6,0 -4,-6 0,-9 4,-3 21,-6 14,-18 0,-18 10,-12 3,-24 -11,-21 5,-11 5,-19 8,-15 5,-17 15,-11 3,1 6,9 6,1 4,-19 5,-8 27,-8 6,0 5,4 13,21 -2,33 -5,6 -14,9 -15,-6 -18,9 -4,18 -11,18 1,18 -1,6 -12,11 -14,4 5,6 12,3 20,15 14,21 1,6 -6,15 3,21 -12,18 -8,7 -18,6 -14,8zM1033,960l-4,-4 -6,1 6,6zM1832,1008l-2,-3 2,-6 4,-3 6,0 3,3 -3,6 -6,4zM1482,1044l-4,-3 1,-3 7,-3 3,6zM1212,1136l2,-8 -8,-4 -3,3 0,4 3,4zM1385,1224l0,-3 4,-2 8,-1 -5,7zM1074,1589l-6,-2 -1,-21 -3,-6 -9,-9 -1,-9 2,-10 10,-14 -2,-12 4,-4 9,-4 16,44 11,15 1,6 -4,9 -15,14z"/>
<path fill="#c94741" d="M411,594l-3,-6 2,-6 34,-48 3,-9 13,-21 15,-15 29,-21 7,-18 45,-48 0,-18 -9,-24 11,-15 9,-4 11,-11 10,-4 24,-14 12,-12 2,-9 -5,-6 -6,-1 -24,8 -27,17 -21,21 -9,3 -15,-12 -9,-18 -9,-3 -6,3 -7,6 -2,6 0,6 13,18 4,18 14,30 -20,21 -29,22 -9,9 -2,-4 0,-15 -12,-36 -16,-36 -15,-4 -11,10 -11,0 -11,-11 -13,-7 -6,-6 -4,-24 6,-21 -1,-6 -6,-9 -14,-12 -13,-16 -4,-8 1,-6 19,-12 2,-6 -18,-24 -10,-9 497,0 2,18 6,4 7,-4 7,-18 38,0 -1,14 -13,4 -5,4 -2,17 -6,21 7,48 19,39 0,21 -3,7 -24,14 -18,7 -27,26 -23,3 -22,9 -12,16 -12,5 -6,5 -4,19 -17,25 -24,12 -9,-1 -9,-6 -4,-15 -12,-15 -4,-15 -7,-5 -18,5 -17,0 -6,18 -19,13 -21,4 -21,-1 -21,4 -2,4 4,18 0,9 -15,12 3,12 10,9 4,6 -1,9 -3,6 -21,8 -8,19 -13,15 -15,2 -12,8 -8,-1 -10,-13zM980,177l-23,30 2,18 -3,6 -8,1 -15,-8 -18,-5 -3,-3 5,-15 -1,-3 -12,-6 -2,-15zM1069,216l-5,0 -20,-15 -1,-15 -5,-9 20,0 13,27 1,9zM1135,195l-7,5 -9,0 -7,-11 -2,-12 21,0zM831,1524l-20,-21 -4,-9 4,-33 -1,-33 2,-21 -20,-57 2,-12 12,-15 12,-24 3,-30 -21,-69 -5,-41 -24,-16 -15,-24 -24,-18 -10,-12 -23,-14 -25,-1 -29,-10 -48,-34 -32,-13 -34,-21 -24,-19 -18,-11 -29,-27 -8,-15 -11,-13 -15,-35 -13,-15 -9,-33 -10,-15 -19,-18 -6,-9 -1,-18 -8,-21 1,-6 6,-12 -8,-15 -2,-30 3,-12 9,-6 6,0 4,3 5,12 -3,24 9,4 9,0 21,-6 18,-13 21,-5 6,0 12,6 10,-1 4,-6 -6,-15 1,-3 9,-9 6,-1 7,7 7,27 18,21 4,14 3,3 20,-2 16,-7 9,3 15,-6 8,1 4,6 -6,5 -9,0 -12,-3 -9,3 -2,25 -7,18 1,6 9,15 -1,21 4,9 8,5 14,-2 16,-9 20,-27 14,-9 3,-6 0,-12 -7,-8 -6,-3 -23,-1 -5,-3 -1,-3 11,-6 18,-1 6,-2 6,-7 6,-17 -1,-12 -23,-57 11,-18 -6,-18 6,-9 24,-3 31,-16 18,-4 24,-13 13,3 8,12 3,0 7,-12 18,-12 5,-13 15,-14 42,-18 26,-24 7,-15 18,-10 15,-1 15,5 15,2 15,13 10,12 11,3 9,-3 3,-6 -9,-15 0,-7 6,-6 9,-1 6,5 6,15 15,15 8,0 5,-6 1,-12 4,-5 24,-1 7,-3 2,-3 -2,-6 -13,-12 4,-24 2,-4 15,2 8,-4 5,-9 0,-15 5,-8 57,-12 18,-6 18,-12 18,0 7,-4 0,-6 -10,-12 -6,-18 5,-15 -1,-6 -4,-5 -15,-5 -6,-14 -12,-5 -9,-8 -6,-1 -18,6 -31,-13 1,-12 15,-4 18,-17 15,-6 9,1 12,7 4,4 5,15 6,3 3,-1 2,-11 -8,-33 -9,-10 -15,3 -3,-5 684,0 0,609 -4,6 4,10 -15,11 -7,18 1,5 6,4 15,2 0,33 -9,0 -9,-5 -5,3 -1,6 3,12 -11,18 2,9 -2,6 -10,6 -30,4 -4,5 6,18 -2,6 -9,8 -12,5 -6,0 -6,-4 -4,-9 1,-21 -24,-22 -9,-2 -15,2 -18,-5 -15,2 -9,-2 -12,2 -15,-9 -6,-1 -27,23 -9,0 -18,-10 -10,-20 -56,-58 -22,-5 -14,-13 -6,-2 -6,5 -9,18 -27,6 -7,-5 -15,-21 1,-4 8,-8 1,-3 -4,-3 -8,-2 -27,1 -7,-5 -8,-14 -33,-13 -6,12 -6,8 -9,3 -9,-1 -2,-4 1,-18 -5,-5 -15,-6 -10,-19 -8,-5 -21,-3 -13,8 -6,9 4,19 -3,0 -9,-8 -21,5 -39,-6 -4,5 2,27 -4,11 -18,8 -15,1 -7,7 -20,7 -28,20 -1,9 2,9 6,3 12,-2 6,5 -1,18 2,21 -7,10 -15,7 -1,13 -11,1 -18,-5 -6,3 -5,10 1,15 4,5 9,5 24,5 -3,12 6,6 18,3 10,6 4,6 -2,12 6,6 36,11 15,-5 6,3 -1,18 7,20 3,4 9,0 4,3 -4,5 -9,4 4,12 8,11 18,4 7,6 2,15 -7,21 2,6 6,6 14,2 13,-11 11,-2 9,2 18,12 9,-3 -12,-30 -1,-21 -5,-15 3,-6 4,-3 32,-8 12,-1 5,3 5,9 14,9 3,9 -3,9 -6,2 -12,-4 -6,0 -4,5 0,6 10,18 -1,12 14,15 2,18 12,18 14,15 10,30 7,12 -3,39 -1,52 -6,8 -15,6 -12,8 -10,-2 -11,-12 -9,-3 -48,24 -18,4 -18,9 -45,5 -15,14 -18,6 -17,13 -19,7 -19,17 -20,4 -18,9 -24,6 -18,12 -18,8 -21,-6 -27,-2 -18,5 -21,1 -33,20 -13,0zM982,225l-1,-3 3,-5 9,0 0,5 -3,3zM495,256l5,-7 -1,-6 -4,-5 -9,0 -5,5 0,9 5,4zM1101,288l-3,0 -4,-12 -11,-18 4,-9 8,-5 9,1 5,4 0,24zM322,393l0,-3 17,-9 15,0 0,4 -24,9zM330,520l-4,-4 0,-6 7,-15 2,-15 5,-15 -1,-4 -7,-5 1,-2 9,-1 14,-15 2,-6 -1,-13 18,-7 9,2 8,12 0,15 7,15 -3,11 -5,4 -28,13 -4,8 -1,18 -4,6 -15,5zM1038,441l-3,-1 -2,-5 5,-10 3,1 4,9 -1,3zM492,518l4,-2 1,-3 -3,-6 -5,-4 -2,13zM1056,525l3,0 4,-6 -4,-6 -6,3 0,6zM846,577l1,-4 -4,-1 -2,4 2,2zM429,666l-6,2 -4,-2 -9,-15 1,-8 6,1 9,8 4,8zM1170,724l18,-4 13,-9 4,-6 -2,-6 -17,-12 -2,-21 -5,-5 -6,4 -10,25 6,18 -4,12 1,3zM1401,768l6,-21 -3,-6 -9,-1 -9,6 -8,1 0,3 8,3 9,14 3,2zM1029,824l4,-2 3,-6 -1,-6 -3,-2 -6,2 -2,6zM1653,906l3,-1 0,-5 -3,-6 -3,-1 -2,4zM1044,906l-3,-5 -6,2 -1,3 4,4zM1061,942l-2,3 -3,1 -6,-4 9,-4zM1434,1051l-7,-4 0,-6 4,-12 -9,-12 3,-8 6,-3 4,5 2,12 6,12 -3,10zM1443,1198l-6,0 -9,-3 -9,-7 -3,-6 -6,-36 4,-18 5,-5 5,2 6,9 19,9 6,7 1,14 -4,21 -3,8zM1278,1176l-3,-2 -5,2zM1302,1264l0,-4 -3,-1 -2,4 2,2zM1086,1571l-5,-2 -1,-6 6,-6 6,2 2,4 -2,4z"/>
<path fill="#c13639" d="M853,342l-7,11 -15,7 -33,29 -30,-3 -6,1 -33,33 -9,3 -15,-3 -9,3 -2,6 2,6 12,9 2,9 -5,7 -18,0 -5,5 -1,5 -4,-8 -11,-6 -6,-6 1,-18 -4,-6 -15,-3 -21,4 -18,-10 -6,1 -9,9 -21,1 -15,7 -7,6 -7,15 -7,2 -6,-5 1,-6 11,-20 10,-10 11,-15 -1,-21 -8,-21 9,-12 9,-4 12,-13 18,-8 21,-15 7,-8 2,-6 -1,-6 -5,-5 -6,-1 -24,9 -27,17 -12,13 -15,10 -16,-10 -11,-19 -9,-4 -6,3 -8,8 -2,12 13,21 3,15 14,30 -35,32 -15,6 -12,-20 -9,-30 -12,-27 -12,-7 -6,0 -12,5 -10,-10 -20,-12 -1,-21 4,-24 -16,-27 7,-16 5,-23 -13,-18 -4,-18 451,0 6,24 18,18 14,39 1,27 8,18 -3,18 5,15zM917,177l9,0 -5,3zM837,1517l-19,-17 -4,-9 3,-27 -1,-39 3,-21 -17,-57 14,-21 11,-33 1,-21 -2,-12 -8,-18 -10,-42 -3,-39 -2,-9 -8,-7 -18,-9 -12,-23 -24,-17 -3,-17 -7,-8 -23,-12 -36,5 -24,-6 -48,-35 -18,-8 -15,-2 -30,-19 -9,-9 -39,-25 -19,-18 -16,-24 -13,-15 -9,-27 -16,-18 -11,-36 -27,-33 1,-39 18,-27 14,-9 33,-12 12,3 16,15 1,6 -6,18 1,5 3,2 21,2 6,-6 6,-14 9,0 20,17 16,23 10,22 -4,12 1,6 14,22 6,3 19,2 14,6 27,-35 25,-13 5,-6 0,-48 7,-36 -6,-36 -13,-14 -4,-10 13,-28 12,-6 18,7 12,-3 4,-6 -1,-15 3,-6 18,-6 15,-1 27,6 18,-6 1,13 5,4 6,-1 13,-12 0,-15 8,-6 3,3 -2,12 3,3 17,7 12,-3 4,-7 0,-18 -4,-8 -10,-10 12,-21 16,-16 21,-8 8,-21 4,-5 9,1 24,18 15,2 18,18 6,1 15,-11 6,1 3,8 -7,12 2,6 5,3 15,2 18,-6 36,39 6,5 3,-1 6,-9 6,-22 6,-2 15,6 6,-1 10,-5 4,-9 0,-12 -5,-6 -27,-7 -21,0 -10,-8 4,-12 15,-15 5,-9 1,-9 -5,-12 2,-3 9,-7 18,-31 6,-7 3,0 3,6 -6,42 4,6 20,3 12,-5 15,-1 22,-12 -1,-6 -6,-5 -15,-5 -9,2 -6,14 -3,1 -6,-3 -3,-7 9,-12 -2,-18 5,-3 21,-3 24,9 6,-3 12,-15 12,-1 9,-5 7,-12 3,-15 -4,-6 -14,-9 -7,-9 1,-30 2,-3 12,5 12,-3 22,-17 7,-9 -2,-9 -11,-9 2,-15 -2,-6 -25,-17 -21,-3 -10,-28 634,0 0,596 -9,4 -17,15 -4,9 -3,18 -3,5 -18,8 -7,8 1,6 3,2 18,3 5,4 0,9 -11,23 -37,13 -3,3 -3,15 -8,7 -9,2 -9,-4 -27,-26 -15,-3 -18,3 -27,-18 -9,2 -15,12 -27,8 -9,-1 -9,-10 -21,-1 -9,-6 -10,-13 -13,-24 -25,-19 -21,-4 -8,-22 -22,-2 -10,-4 -2,-3 1,-3 12,-6 5,-6 0,-9 -6,-6 -18,5 -11,-5 -2,-9 8,-15 -10,-10 -45,-8 -12,-16 -5,-14 -4,-3 -27,10 -21,-5 -12,13 -6,2 -24,0 -8,-8 -7,-3 -5,3 -3,15 -13,-1 -6,-5 -3,-18 -16,-15 0,-9 6,-15 0,-6 -5,-6 -11,-6 -13,-1 -6,10 -13,12 -19,30 -1,12 6,12 -1,9 -9,21 -13,18 -10,20 -15,6 -12,-18 -6,-3 -6,0 -6,4 -3,6 0,12 3,12 -3,5 -6,1 -15,-9 -18,1 -6,4 -11,19 -1,6 8,12 1,9 -14,21 5,10 12,7 2,4 -3,6 -14,15 -3,6 -4,30 -1,33 15,12 12,15 21,15 3,9 -1,21 3,12 6,6 9,1 9,-7 15,1 9,-7 6,0 6,3 5,12 15,9 5,21 11,16 6,17 10,18 23,51 3,1 12,-7 18,9 24,-2 6,2 18,24 21,45 6,7 6,1 13,-5 11,-12 10,3 5,15 9,9 4,9 -2,21 4,18 -3,22 -5,5 -22,7 -15,-7 -15,0 -45,24 -18,0 -21,9 -48,10 -18,17 -18,7 -12,9 -21,5 -27,19 -18,6 -51,24 -27,1 -42,-4 -15,6 -24,5 -18,15 -9,4 -12,0zM1375,195l-10,-7 -3,1 -2,3 11,5zM1348,219l-4,-6 -3,3 3,5zM1143,237l9,-15 9,-5 8,2 -1,6 -22,14zM497,255l4,-6 -3,-9 -6,-4 -9,3 -4,7 3,9 7,3zM1413,257l3,-5 -3,-4 -3,2 -2,5zM1227,265l-1,-7 2,-6 5,-3 6,1 2,5 -2,4 -9,7zM649,408l-1,-6 -6,-6 -8,0 -2,3 4,6 6,4zM1200,471l6,7 9,1 15,-14 21,-13 15,-2 12,-7 24,9 3,-2 4,-9 -1,-15 -9,-6 -18,4 -27,-22 -12,-1 -31,31zM366,469l-5,-4 -1,-9 3,-6 6,-1 7,4 1,6 -3,6zM1313,528l1,-12 -3,-8 -30,-14 -3,6 0,10 4,18 8,4 18,-2zM453,541l1,-16 9,-21 8,-5 6,0 5,8 0,9 -13,12 -4,10 -6,3zM1356,566l6,-8 0,-6 -9,-9 -9,-1 -3,4 1,6 8,13zM1044,575l2,-8 -2,-6 -9,-5 -9,2 -4,9 4,6 12,4zM481,567l-1,9 -6,6 -10,-3 -9,-6 1,-3 15,-8 6,0zM1143,657l2,-3 1,-6 -6,-4 -7,1 -2,6 2,6 4,2zM996,712l3,3 6,0 12,-13 14,-3 2,-6 -1,-6 -3,-2 -18,-1 -9,3 -10,15zM1353,765l-14,0 -9,-9 0,-6 8,-20 9,1 6,6 -1,13 4,12zM1414,792l-2,0 0,-3zM1750,876l-4,-7 -5,1 5,6zM1440,1161l-3,2 -6,-2 -3,-3 0,-6 9,1 3,5z"/>
<path fill="#ba2832" d="M385,303l-1,-27 -9,-36 7,-33 -7,-15 9,-8 2,-7 364,0 5,15 -2,18 18,17 6,1 6,-2 5,-10 -4,-6 -13,-3 -2,-3 2,-6 9,-10 6,-3 6,1 6,6 5,15 12,18 3,24 4,12 -1,3 -5,2 -18,-2 -5,6 0,9 23,13 10,8 5,9 9,30 -3,4 -14,5 -5,12 -5,5 -12,1 -15,-11 -6,0 -27,17 -14,21 -10,10 -6,1 -15,-3 -18,8 -12,-3 -33,-29 -21,1 -24,-17 -21,-4 -8,6 -2,6 9,15 1,9 -6,10 -6,3 -4,-4 -4,-21 -7,-21 6,-9 11,-6 10,-12 21,-10 20,-14 7,-9 1,-12 -7,-7 -6,0 -24,9 -27,16 -27,24 -15,-11 -12,-19 -9,-3 -6,2 -8,7 -4,9 1,6 6,15 6,6 6,30 9,15 -31,28 -6,2 -21,-20 -3,-10 -1,-15 -14,-30 -15,-11 -11,-13 -19,-6zM1341,177l-8,21 -10,13 -6,2 -24,-9 -18,3 -12,-3 -9,-6 -19,-21zM1487,177l-2,6 -9,9 -3,-1 -9,-13 -12,3 -18,-2 -15,7 -15,2 -12,-3 -8,-8zM1560,876l-11,-12 -2,-18 -4,-6 -16,-9 -18,-24 -14,-6 -5,-6 -11,-27 1,-21 9,-18 -3,-9 -10,-6 -18,0 -12,11 -6,1 -6,-2 -5,-7 2,-18 -8,-36 -34,-8 -33,-4 5,-27 12,-12 -7,-18 9,-42 -7,-9 -26,-21 -6,-24 -18,-21 4,-15 -4,-15 0,-9 5,-16 7,-14 -7,-9 -6,-2 -14,8 -10,3 -9,-1 -9,-8 -15,-21 0,-6 9,-19 12,-8 1,-9 -13,-2 -11,-10 -3,-9 5,-6 6,0 18,20 18,-9 12,1 11,9 2,21 17,21 9,1 9,-13 9,-2 9,4 17,16 -2,18 5,12 -2,6 -6,3 -12,0 -24,12 -15,33 3,7 6,2 3,-3 11,-24 10,-6 6,1 18,14 12,0 12,7 6,0 7,-7 -3,-24 5,-9 15,-4 18,9 6,-2 1,-3 -4,-7 -24,-17 -12,-3 -15,1 -10,-10 -7,-24 0,-24 -9,-18 -4,-15 -9,-21 -1,-6 4,-2 21,3 9,-2 15,-11 9,-17 12,-1 9,2 12,-15 18,4 6,-14 6,-3 15,5 24,19 9,1 9,-3 7,-8 3,-9 0,-9 -4,-6 -3,-2 -21,2 -24,-9 -4,-3 -2,-6 1,-15 71,0 3,8 6,3 6,-11 252,0 0,243 -9,6 2,6 7,4 0,70 -3,4 3,5 0,99 -5,7 -3,27 2,9 6,6 -6,1 -6,4 -5,10 2,6 3,2 12,3 0,69 -18,1 -16,21 -23,12 -3,6 -3,23 -15,17 -9,3 -19,-4 -13,3 -8,15 -9,9 -4,15 -4,5 -33,-3 -12,-11 -6,-2 -27,4 -12,13 -9,4 -7,-1 -14,-13zM1704,221l5,-5 -1,-6 -10,-19 -6,-3 -3,4 8,12 3,15zM1377,250l-12,-3 -4,-7 1,-6 6,-8 9,-4 13,6 4,6 -3,9zM750,267l6,-6 3,-6 0,-18 -3,-5 -6,-3 -15,1 -9,10 -2,15 4,6 7,4zM492,259l7,-4 3,-9 -4,-7 -9,-4 -8,5 -3,9 5,8zM707,261l-2,-3 -6,-1 -12,1 -1,3 3,3 10,2 6,-1zM1285,294l4,-6 25,-10 15,-9 7,1 0,6 -5,9 -17,17 -12,1zM1566,291l8,-3 4,-6 0,-6 -6,-6 -5,0 -3,3 -1,15zM1710,273l0,-4 -3,-1 0,4zM1483,285l-1,-6 -3,-2 -6,0 -6,5 1,6 5,3 6,-1zM1710,312l2,-9 -5,-9 -15,-7 -9,-6 -3,1 -1,6 8,21 11,6zM1767,305l6,-8 -3,-5 -6,-2 -4,4 -1,6 2,4zM1491,337l6,-6 2,-10 -4,-9 -7,-3 -9,4 -5,11 5,9zM1381,318l0,3 -7,3 -13,0 -8,-3 1,-3 5,-4 15,1zM1446,328l3,-1 3,-6 -2,-6 -4,-2 -3,2 -3,6 2,6zM1680,353l6,0 8,-8 2,-6 -4,-3 -6,-2 -6,3 -3,8zM1301,369l-8,-1 -5,7 2,3 6,-2 5,-4zM1761,422l3,-5 -3,-5 -3,-1 -3,6 3,5zM1629,468l-2,-6 -10,-7 -12,-14 -27,-15 -6,-1 -6,3 -10,16 0,6 4,4 39,11 15,9 9,-1zM1665,465l5,-3 -2,-6 -4,3zM1185,471l-3,3 -3,-2 -4,-7 4,-3 4,0zM1147,489l-7,5 -18,1 -3,-3 0,-9 -6,-10 0,-6 6,0 12,10 15,5zM1104,757l-12,-22 -17,-15 -16,-9 -7,-15 2,-30 8,-21 10,-15 2,-21 6,-6 9,-4 21,4 9,-1 4,-5 4,-15 -2,-15 2,-6 28,-9 18,-8 2,-10 -2,-7 -6,-3 -15,2 -3,-4 3,-5 14,-13 19,-4 15,7 10,-9 17,-1 12,-17 15,-12 3,-1 1,13 5,15 3,27 8,21 -9,15 1,6 6,5 6,-2 11,-18 7,-4 6,1 24,16 2,5 0,15 15,27 -2,6 -14,12 -5,15 4,4 25,5 2,3 -5,12 -10,10 -9,0 -9,-3 -8,-7 0,-18 -7,-3 -6,2 -12,13 -4,9 -2,12 -15,2 -36,-5 -10,-6 -2,-9 9,-18 15,-7 5,-5 1,-6 -3,-7 -9,-2 -12,10 -6,1 -18,-8 -18,-3 -15,-11 -6,-2 -33,19 -19,18 2,9 15,24 2,15 -3,12 -19,12 2,6 11,6 2,6 -6,18 -5,6zM1313,477l-8,8 -6,-2 0,-3 3,-4 6,-2zM1398,516l4,-6 -1,-14 -6,-5 -6,0 -2,4 1,6zM471,521l-6,-3 -3,-5 3,-8 6,-3 6,2 4,6 -4,8zM1488,525l2,-3 -2,-9 -6,-8 -6,-2 -5,7 0,6 8,8zM858,1512l-9,-2 -21,-13 -6,-9 1,-48 -2,-15 4,-21 -7,-30 2,-27 7,-15 2,-21 7,-18 1,-9 -4,-21 -11,-27 -9,-57 0,-24 -6,-18 -2,-12 -19,0 -12,-18 -21,-15 -12,-25 -36,-34 -15,-4 -9,-9 -8,-12 -11,-30 1,-6 13,-12 0,-6 -4,-4 -6,-2 -6,0 -9,10 -10,29 7,15 0,9 -12,11 -9,2 -6,-4 -2,-6 12,-12 4,-9 0,-6 -12,-15 -9,-30 -11,-10 -21,-2 -9,3 -10,27 3,9 13,9 12,16 12,11 -4,3 -29,-3 -24,-13 -42,-38 -15,-6 -9,-6 -9,-9 -9,-21 -7,-9 -1,-6 4,-9 -1,-3 -13,-5 -9,-13 -15,-12 -6,-13 -2,-20 -13,-18 -4,-12 4,-5 12,-3 12,-1 18,3 27,-6 12,1 15,4 21,-12 6,3 16,19 6,21 19,30 4,20 3,0 9,-12 6,-3 21,7 15,-2 10,-16 11,-9 6,-2 9,4 6,-2 2,-3 -6,-6 0,-3 7,-8 15,-7 3,-9 -2,-18 8,-2 3,-4 -3,-15 5,-12 0,-21 7,-15 3,-21 -23,-33 2,-9 5,-9 27,-12 5,-6 5,-14 13,-4 21,0 4,3 3,9 4,4 33,6 15,-7 15,2 18,-12 21,0 6,-2 3,-6 -11,-18 0,-18 -6,-12 2,-6 30,-10 15,-2 15,-10 12,6 30,29 15,3 18,-7 7,3 1,6 -3,6 -5,3 -9,1 -3,5 7,24 -11,36 12,27 1,6 -9,8 -21,3 -6,4 -2,6 18,18 11,20 15,1 18,-5 23,8 3,6 -2,4 -21,8 -8,6 -7,24 -12,25 -9,1 -21,-12 -5,1 -2,3 2,12 13,9 4,6 1,12 -2,12 13,36 -3,5 -12,5 -9,1 -15,-3 -5,4 6,6 23,6 8,6 0,9 -6,18 6,18 -2,6 -14,15 -7,20 -12,13 -4,9 -17,9 -2,6 1,6 10,5 12,-1 8,-4 4,-10 15,-3 2,4 -5,12 3,3 9,1 18,-6 9,1 15,14 3,8 1,12 8,8 6,0 14,-5 16,-2 18,8 19,6 13,18 1,18 12,6 5,6 -2,21 15,12 3,18 18,22 18,7 2,10 3,6 19,3 17,9 1,3 -8,6 2,8 15,-5 18,0 6,2 17,40 7,7 9,1 6,-4 3,-17 17,4 7,9 -10,33 -14,14 -39,9 -27,16 -33,4 -13,-1 1,-21 -13,-15 -5,-15 -9,-4 -9,1 -12,9 -1,6 22,35 14,7 -9,9 -26,9 -16,15 -8,4 -36,2 -26,9 -17,9 1,12 -6,6 -9,4 -12,-3 -6,11 -21,13 -30,2 -42,-4 -21,10 -21,5 -18,14zM1473,575l3,-11 -3,-14 -9,-4 -11,3 -3,9 8,16 6,3zM1036,600l-7,2 -8,-2 -4,-3 -1,-6 4,-4 9,1 6,6zM1458,649l15,2 6,-3 2,-6 -2,-9 -4,-3 -5,1zM1764,688l6,3 6,-2 6,-5 2,-6 -5,-4 -7,1 -7,6zM729,688l0,-6 -6,-1 2,6zM396,768l-1,-9 10,-24 10,-12 20,-6 12,2 9,5 2,5 -1,6 -13,16 -21,-4 -7,6 -3,18 -8,2zM886,1065l1,-3 -3,0 -1,3zM1224,1221l-3,4 -4,-1 1,-4z"/>
<path fill="#b1182b" d="M761,354l-6,6 -17,9 -6,14 -6,5 -34,2 -2,-3 1,-15 -2,-6 -26,-21 -9,-1 -21,13 -6,-3 -19,-21 -1,-6 14,-14 10,-19 -5,-12 -11,-3 -12,4 -39,20 -27,24 -3,0 -10,-9 -14,-19 -9,-3 -6,2 -10,8 -3,9 2,15 9,15 0,6 -4,3 -12,0 -23,-12 -13,-14 -14,-7 -11,-12 -22,-12 -3,-9 -1,-21 3,-18 -9,-12 0,-9 6,-9 15,-6 5,-9 2,-12 -4,-15 326,0 -2,7 -15,4 -11,10 5,6 15,2 1,7 -4,6 -18,18 -9,1 -15,-3 -9,5 -10,15 1,21 3,6 9,4 45,-2 12,13 12,-7 9,2 17,26 -8,15 1,15zM1330,177l-8,15 -11,6 -23,-9 -6,-9 0,-3zM1544,195l-5,0 -14,-6 -1,-12 24,0zM1623,214l-9,-1 -5,-9 -2,-9 2,-18 19,0 6,18 -4,12zM1672,177l-4,5 -6,1 -6,-1 -3,-5zM1740,293l-11,-8 -2,-21 -19,-21 14,-14 2,-7 -3,-21 -11,-12 -5,-12 67,0 3,30 -4,21 2,3 21,-3 7,6 -1,9 -12,9 -12,13 -21,8 -12,18zM1821,285l-12,-10 -3,-8 6,-7 18,-10 6,-10 -6,-24 -11,-9 0,-30 32,0 0,75 -26,15zM1648,246l-1,-6 9,-12 9,-3 8,6 -1,6 -7,6 -9,4zM495,259l7,-7 0,-9 -7,-8 -9,0 -8,8 0,9 8,8zM1566,859l-4,-4 -6,-21 -16,-12 -1,-21 -18,-6 -18,-12 -5,-15 -3,-21 3,-21 -16,-30 -10,-12 -4,-9 1,-6 7,-3 18,6 5,-33 19,-12 -5,-9 -14,-6 -2,-9 4,-15 5,-5 18,-1 6,-3 -10,-27 13,-12 3,-6 -3,-11 -27,-19 -15,-21 -1,-9 6,-18 4,-6 6,-3 24,3 18,10 27,10 9,9 28,16 6,6 3,6 -1,12 2,12 4,10 6,5 21,1 6,-4 0,-3 -12,-7 -14,-26 1,-6 10,-7 18,-1 15,15 15,-8 15,1 29,-3 -20,-18 -3,-27 -6,-1 -9,4 -6,-1 0,-3 9,-8 0,-24 -3,-5 -12,-7 -9,-12 -9,0 -27,11 -30,-2 0,6 6,9 18,14 15,5 3,5 -3,10 -6,2 -21,-13 -12,-17 -15,-12 0,-7 7,-8 -4,-9 -6,-6 -12,1 -14,-19 -4,-23 -6,-4 -18,-4 -8,-8 -4,-12 2,-12 7,-5 6,2 12,15 13,6 8,14 6,3 6,-1 6,-7 -1,-9 -5,-5 -12,-2 -1,-2 13,-17 12,-29 3,-2 6,3 14,12 10,18 17,15 13,20 2,10 -4,18 2,4 14,8 4,15 3,1 12,-4 -4,-15 6,-12 10,-8 15,-5 15,2 15,15 24,12 9,2 3,-3 2,-9 -9,-12 -12,-21 1,-8 6,-2 12,1 9,-4 18,-3 13,-11 -1,-15 24,-2 0,122 -27,10 -18,-2 -3,4 -1,15 -3,9 -11,12 -13,6 -4,9 4,6 14,3 8,14 6,3 6,-5 3,-6 -3,-5 -11,-7 0,-6 2,-6 8,-6 28,-11 4,5 -7,6 -1,9 17,12 -22,31 -9,1 -18,-4 -18,16 -18,6 -3,7 3,12 12,12 -3,15 1,6 5,6 6,2 20,-11 9,-18 10,-8 21,9 1,-1 -4,-9 -6,-5 -12,-2 -3,-5 -1,-6 4,-6 6,-3 21,4 0,69 -9,1 -4,4 -5,21 -6,7 -6,0 -15,-12 -3,0 -7,14 -1,30 -7,4 -21,1 -19,19 4,12 9,7 12,0 21,-13 6,1 7,8 8,27 -3,6 -6,-12 -21,-8 -8,2 -15,15 0,3 19,15 14,21 1,6 -33,30 1,5 9,7 -3,7 -6,3 -39,2 -3,3 -6,18 -9,6 -6,0 -9,-6 -21,-2 -24,10 -39,7 -15,-6 -18,4zM801,342l-18,-15 -7,-9 5,-6 20,-12 9,5 5,10 -5,18 -6,9zM1422,323l-9,-5 -2,-6 1,-6 4,-3 7,0 4,6 -1,9zM1502,369l-18,27 -5,1 -12,-10 -29,-12 -5,-6 -1,-6 2,-4 3,0 12,9 6,-1 9,-10 -6,-12 6,-4 28,13 8,9zM1725,445l6,2 36,-11 9,-7 3,-9 -7,-24 -8,-9 -6,-1 -18,5 -13,-1 -2,3 6,15 1,9 -8,18zM480,396l-3,3 -6,0 -9,-6 0,-3 12,-3 5,3zM1548,432l-6,4 -4,-4 2,-3 5,-1zM1464,456l-1,-6 4,-6 9,-3 8,3 1,6 -6,7 -9,2zM1377,467l-5,-2 2,-5 4,2zM1459,501l-5,12 -8,5 -21,-3 -6,-11 3,-10 12,-4 19,2 5,3zM474,518l-6,-1 -3,-4 1,-6 5,-3 6,2 2,4zM1452,629l-6,2 -9,-6 -6,1 -24,20 -21,-3 -8,-4 -1,-6 10,-15 -5,-24 4,-12 0,-15 5,-12 1,-9 -2,-3 -16,-5 -8,-7 -6,-9 2,-10 6,-2 9,2 8,7 10,21 15,1 0,10 -12,16 -2,9 8,7 21,5 15,15 17,6 1,8zM966,628l-9,0 -9,-5 -41,-44 4,-6 17,-15 5,-9 6,1 -4,14 5,12 8,4 24,2 9,8 4,7 1,6 -3,9zM1221,579l-6,-9 3,-13 6,-3 14,1 3,6 -2,6 -11,12zM1746,592l6,-3 8,-10 -2,-7 -6,0 -3,3 -4,10zM1260,609l-8,-6 -1,-6 3,-7 6,-2 5,3 2,6 -2,9zM1191,607l-6,0 -4,-4 1,-6 3,-4 3,0 5,4 1,6zM696,1015l-1,-4 16,-9 -1,-3 -11,-9 -12,4 -3,-3 -2,-10 5,-21 0,-9 -13,-15 -5,-15 -24,-21 3,-6 18,0 9,-4 5,-5 0,-9 -17,-18 -1,-9 10,-6 36,-5 30,-21 15,3 9,-1 3,-3 2,-6 -4,-33 -7,-13 -3,0 -4,7 -2,24 -6,10 -6,1 -24,-17 3,-33 -3,-24 6,-9 22,-15 3,-9 2,-15 -4,-9 -17,-15 -9,-12 -12,-3 3,-3 9,0 12,-7 30,2 30,-7 18,11 30,-1 21,-17 18,-2 18,2 15,-10 14,14 8,21 38,-6 6,1 3,5 0,6 -19,15 -12,6 -11,13 -12,7 -4,7 1,6 9,6 6,0 18,-6 7,6 -5,15 -11,3 3,9 9,3 3,4 1,8 -17,30 1,16 -14,14 -7,27 4,6 8,3 18,-6 3,12 16,9 2,6 -3,4 -6,2 -18,-8 -10,11 -5,11 -3,1 -1,-15 -6,-6 -29,-4 -12,2 -9,21 -15,8 -1,9 7,7 12,0 12,-4 13,-12 10,0 0,6 -11,12 6,12 1,6 -4,3 -18,6 -18,13 -21,-4 -6,3 -3,6 2,6 7,5 6,-1 12,-6 14,11 10,1 6,-3 9,-12 20,-7 8,-15 8,-1 15,3 6,6 -3,7 -27,15 -9,9 16,18 1,6 -2,6 -18,17 -6,2 -9,-7 -1,-15 -5,-9 -9,-1 -9,12 -6,0 -18,-20 -9,-5 -25,11 -8,6 -5,21 -4,4 -24,-8 -15,-11 -9,3 -3,9 -12,4 -12,9 -6,-2 -12,-11zM1638,640l4,-4 -1,-5 -6,3zM1080,688l-6,-8 -2,-17 4,-9 10,-3 9,7 2,11 -8,14 -6,5zM1113,692l-6,-2 1,-6 5,0 3,3zM765,742l0,-5 -2,1zM828,766l3,-10 -3,-11 -12,-4 -9,3 -4,9 3,6 13,8zM999,751l-2,-4 6,-3 2,3zM939,759l6,-1 0,-6 -6,4zM543,937l-9,-5 -4,-17 -12,-12 1,-12 -4,-6 -8,-5 -15,4 -7,-2 -2,-6 0,-24 -8,-15 8,-15 4,-15 29,-9 9,5 7,13 -1,9 -8,12 2,7 6,7 3,0 3,-9 6,-2 8,9 -2,10 -3,4 -9,0 -3,10 3,1 9,-1 3,2 5,10 -9,21 8,15 -4,11zM693,871l9,-1 9,-5 0,-7 -6,-7 -6,1 -7,9 -2,6zM452,864l-1,-3 5,-5 6,-1 2,3 -5,8zM686,918l7,-1 0,-7 -3,-1 -6,6zM951,921l-5,0 -1,-4 6,0zM633,959l-4,-2 -3,-6 -2,-18 3,-4 9,7 5,9 -2,9zM543,968l-7,-5 4,-5 4,2zM739,1002l-4,-6 -12,-3 -12,9 6,5 6,1zM762,1035l-3,0 0,-6 3,0 2,3zM1252,1359l-6,6 -7,3 -15,2 -6,-2 -7,-21 -7,-12 0,-15 -4,-4 -20,-2 -16,-11 -6,1 -12,8 -6,1 -12,-2 -12,-7 -6,0 -17,16 -1,6 2,6 7,5 33,6 4,4 4,12 13,9 2,6 -2,9 -4,6 -23,18 -9,3 -18,3 -21,-2 -12,7 -33,7 -24,21 -6,14 -3,1 -9,-6 -6,0 -10,3 -11,8 -36,0 -24,15 -42,16 -18,-1 -12,-5 -5,-12 -2,-21 4,-21 -2,-15 3,-18 -7,-30 20,-87 -17,-48 0,-21 -4,-18 -2,-24 4,-27 5,-3 12,3 4,-6 -15,-18 -10,-18 -9,-8 -6,-2 -12,11 -3,0 -2,-4 10,-18 -3,-27 7,-23 18,-1 15,5 20,16 -3,12 2,3 38,17 12,-19 9,-6 18,-3 27,-1 21,6 27,-5 9,5 1,18 23,19 9,5 12,13 27,10 6,-18 3,-2 6,2 7,7 0,18 9,15 6,21 -1,7 -11,11 -2,6 2,6 15,21 -6,21 3,12 8,7 27,-12 30,1 18,3 6,5 9,26 9,3 15,-5 6,2 15,22 4,11 -1,6 -12,14zM768,1080l-6,0 -3,-6 0,-5 3,-1 6,3 2,6zM930,1086l0,-6 -6,-3 0,7 3,3zM1306,1338l-4,6 -9,2 -5,-2 -2,-6 4,-6 6,-1 9,2z"/>
<path fill="#9f1228" d="M400,288l0,-18 9,-18 4,-15 16,-18 4,-9 0,-9 -11,-24 206,0 6,6 11,3 5,-3 2,-6 30,0 -2,21 3,12 -11,6 -9,14 -6,1 -15,-1 -36,-15 -9,1 -5,3 -3,9 4,12 0,18 19,0 6,5 4,10 -16,4 -30,17 -15,0 -24,25 -6,-1 -9,-6 -12,-15 -9,-3 -6,1 -13,11 -3,9 -1,15 -4,5 -6,-2 -21,-16 -12,-6 -12,-10 -18,-8zM1737,210l-1,-6 6,-12 2,-15 16,0 1,18 -1,6 -17,9zM1851,202l-3,-4 3,-4zM492,262l11,-7 1,-9 -6,-11 -9,-3 -9,5 -5,12 5,10zM642,308l-5,-2 -2,-3 1,-7 3,-3 8,7 -2,6zM690,351l-6,-6 -9,-15 3,-24 30,-3 7,6 -1,13 -15,27 -3,2zM1611,355l-2,-4 0,-6 8,-5 3,2 0,6 -4,6zM1809,384l-2,-6 2,-3 12,-1 6,-5 2,-6 -1,-12 2,-6 9,-4 12,0 0,43 -12,6 -9,2 -11,-2zM1744,375l-4,1 -12,-5 -16,1 -5,-3 0,-6 9,-5 9,0 12,8zM1524,482l-17,-5 -2,-3 3,-3 4,0 10,6zM1704,832l-30,-3 -9,4 -11,10 -7,2 -9,-3 -9,-15 -9,-3 -14,4 -13,10 -9,0 -12,-14 -15,-6 -6,-5 -3,-23 -13,-7 -8,-21 -14,-15 -2,-15 -9,-24 2,-6 15,-18 -2,-21 1,-10 3,-5 6,-3 4,3 3,15 5,2 7,-5 1,-15 4,-12 -2,-6 -9,-12 0,-6 17,-16 12,-3 4,-11 -2,-6 -8,-8 -18,-5 -4,-5 9,-33 -8,-27 4,-12 5,-5 9,1 6,16 9,9 18,-2 6,2 13,36 0,9 -4,4 -9,-4 -8,0 -3,3 0,6 17,21 6,-1 6,-12 14,4 11,15 6,15 0,9 -4,6 -23,12 -7,10 -9,6 1,17 -3,6 -10,5 -12,2 -1,5 4,5 12,0 15,6 2,-23 7,-1 12,4 6,-1 18,-17 3,-18 17,-15 -4,-15 1,-18 -14,-18 2,-3 22,-12 6,1 12,9 21,-6 12,14 1,12 -7,24 -12,4 -21,-6 -6,5 -1,6 9,18 -8,18 1,6 25,9 8,18 11,12 0,6 -9,4 -12,-4 -6,0 -3,6 4,15 -1,8 -3,1 -18,-9 -21,3 -6,3 -18,24 2,6 10,7 12,17 12,6 25,6 7,24 -2,9zM474,516l-7,-3 1,-5 3,-2 6,4zM1827,587l-6,-2 0,-3 3,-10 6,2 4,5 -1,4zM948,599l-3,-3 4,1zM1519,600l-4,-3 4,0zM1558,651l11,2 7,-5 2,-9 -6,-15 3,-4 12,-4 15,4 5,-2 4,-15 -2,-6 -22,6 -15,-8 -8,26 -12,15zM1782,645l-6,1 -11,-4 -7,-6 -8,-18 2,-6 6,-6 9,-2 11,8 -1,9 8,12zM855,702l-6,1 -15,-1 -4,3 -6,15 -32,15 -6,0 -12,-14 -17,-13 -2,-9 2,-15 -12,-21 0,-6 23,-8 6,2 15,15 18,-5 33,2 5,6zM852,761l-4,-5 4,-7 7,4 -1,6zM906,777l-6,2 -7,-2 -3,-3 0,-6 4,-4 6,2 5,5zM701,963l0,-15 -5,-12 17,-12 7,-8 27,6 12,-9 9,1 9,-1 7,-7 0,-6 -7,-12 5,-15 0,-27 4,-5 12,-1 6,-2 7,-13 2,-9 -4,-9 -14,-12 -5,-18 1,-6 7,-2 21,11 10,12 5,2 21,-20 12,1 10,5 4,18 -4,15 10,9 0,12 -8,15 -17,6 -1,18 -16,18 -5,27 -15,9 -5,6 1,18 -5,24 -3,6 -9,6 -30,7 -12,-4 -12,-14 -12,-5 -15,-20 -6,1 -12,11zM1731,799l-4,-4 0,-3 4,-4 6,-1 3,4 0,4 -3,3zM731,849l1,-6 6,-2 0,5 -3,3zM754,897l-7,-1 -3,-6 3,-2 6,3 2,3zM717,914l-6,-7 -3,-11 10,10 1,6zM845,1488l-8,-7 -3,-20 7,-24 -1,-27 4,-21 -8,-18 6,-36 10,-27 1,-21 -18,-45 -3,-42 10,-33 17,-12 2,-6 -3,-12 -13,-15 0,-12 7,-12 9,-4 20,19 10,6 9,1 15,-8 6,-1 21,9 6,-3 3,-4 -4,-21 4,-12 5,-6 7,-2 27,8 12,10 18,7 7,7 7,15 -5,15 12,15 6,0 18,-7 4,4 8,17 6,4 16,3 5,5 -1,28 10,21 0,42 -6,9 -22,6 3,21 -9,21 2,9 8,12 18,14 8,28 1,9 -6,6 -12,0 -2,-6 2,-15 -9,-3 -15,3 -6,3 -9,12 -18,10 -36,33 -12,3 -21,-2 -27,4 -63,36 -24,9zM875,1170l6,-3 2,-6 -1,-1 -7,4zM1201,1290l-3,6 -10,3 -6,-3 -5,-6 5,-5 9,-2 6,1zM1239,1339l-4,-4 1,-9 6,-6 8,0 2,6 -1,6 -6,6z"/>
<path fill="#900d26" d="M413,282l-1,-6 3,-6 17,-12 -2,-18 17,-34 9,-4 30,2 21,-9 0,-3 -8,-15 111,0 5,15 -1,3 -29,9 -15,20 -18,2 -9,5 -2,3 5,12 1,18 -12,21 -3,18 -4,6 -18,-14 -9,-3 -9,1 -18,11 -18,-5 -12,-8 -23,-3zM524,189l-2,-1 -4,4 1,3 5,-3zM465,272l9,2 29,-13 5,-12 -3,-9 -4,-5 -12,-5 -12,7 -6,18 -8,9zM474,513l-4,0 1,-4 4,1zM1667,696l-1,-6 5,-6 24,-9 7,3 0,6 -9,9 -7,11 -9,0zM792,719l-14,-14 2,-9 8,-9 13,-7 9,-1 7,2 3,6 -5,18 -11,12zM1689,813l-21,7 -18,11 -6,-2 -9,-10 -9,-4 -27,3 -6,-1 -6,-7 -3,-15 -15,-9 -21,-24 -1,-18 -22,-15 -4,-6 0,-6 3,-3 13,-6 14,-13 6,-3 15,11 18,0 3,5 -7,15 -3,15 -5,6 -6,3 2,6 18,24 -3,12 46,7 24,-2 28,13zM855,806l-3,-4 0,-7 3,-4 6,0 3,7 -3,6zM843,848l-3,1 -3,-4 -3,-20 2,-6 4,-1 9,3 6,13 -2,6zM825,908l-4,-5 -1,-18 2,-4 4,4 3,18 -1,4zM849,1476l-3,-4 -2,-17 9,-27 2,-21 5,-18 0,-18 5,-15 -2,-6 -8,-7 -2,-5 7,-24 1,-30 -20,-39 0,-45 8,-8 18,2 13,-6 28,-24 13,-28 6,-1 21,4 12,-7 6,-7 4,-9 -6,-15 1,-6 4,-4 6,0 9,7 3,12 13,15 5,15 18,13 7,14 5,4 6,0 12,-5 6,0 18,20 12,8 12,30 -2,6 -12,9 -5,15 -11,13 -4,11 0,9 5,15 -3,21 2,27 -9,7 -15,-3 -5,2 -2,6 1,18 -12,8 -6,16 -21,25 -12,1 -15,-13 -15,10 -30,4 -18,14 -24,-1 -14,11 -10,16 -9,5zM948,1160l6,-5 -3,-8 -3,0 -4,5 0,6zM888,1379l3,1 3,-2 2,-4 -2,-2 -7,2z"/>
<path fill="#7f0823" d="M564,199l-6,3 -9,-5 -5,-20 27,0zM499,219l5,-5 21,0 12,-7 4,0 -2,6 -11,7 -12,14 -6,0zM447,247l1,-22 5,-9 9,-1 15,4 2,3 -14,19 -12,8zM519,294l-10,-6 -1,-3 9,-12 5,-10 6,-3 3,1 1,6 -8,12 -2,12zM798,704l-2,-2 2,-5 6,-1 -1,6zM990,1158l-4,-3 -5,-21 3,-5 6,2 5,21 -2,5zM924,1409l-12,-11 0,-12 12,-14 13,-25 11,-8 12,-1 2,-6 -11,-6 -21,-5 -3,2 -7,18 -8,9 -18,7 -6,0 -5,-4 -7,-18 -8,-54 -9,-27 -7,-7 -2,-5 2,-9 8,-9 7,-15 33,-22 27,15 12,19 15,2 4,-5 -3,-33 5,-8 9,-1 13,12 17,8 6,0 12,-8 6,-1 7,4 4,6 -6,24 -8,12 -1,6 7,12 9,7 5,-4 0,-18 4,-8 30,-17 8,1 2,6 -14,21 -13,33 -4,22 -8,11 0,15 -5,12 -5,4 -6,1 -6,-11 -9,-1 -18,25 3,18 -3,16 -3,2 -12,-2 -1,11 -32,16 -9,1zM905,1308l0,-3 -5,-3 -4,3 4,3zM999,1404l-3,0 -5,-6 5,-5 7,5z"/>
<path fill="#6d0220" d="M1034,1284l-7,6 -6,15 -17,12 -8,16 -6,5 -6,1 -12,-22 -23,-12 -10,-9 -6,-2 -12,1 -18,-10 -18,1 -6,-5 -4,-12 6,-24 -2,-30 6,-6 6,-2 18,0 9,2 19,30 2,23 3,-1 5,-10 4,-3 9,0 15,4 6,-1 12,-20 9,-3 24,46 9,7zM951,1384l-6,-3 -3,-7 1,-9 5,-5 5,5 3,9 0,6z"/>
<path fill="#67001f" d="M921,1273l-6,-1 -19,-9 -4,-6 2,-9 18,-18 6,2 6,10 1,24zM996,1267l-2,-4 1,-9 4,-5 3,-1 5,6 1,7 -6,6z"/>
</g>
</g>
<path d="M559.3,264.0 546.1,276.2 542.6,288.4 549.6,300.6 558.3,308.6 570.5,304.1 575.7,288.4 572.2,276.2 562.8,264.0Z" fill="#fff"/>
<path d="M497.1,2013.5 509.3,2010.0 519.8,2015.2 518.0,2034.4 516.3,2055.3 509.3,2074.4 497.1,2062.2 498.9,2030.9Z" fill="#fff"/>
<path d="M1251.1,1631.7 1256.3,1636.9 1244.1,1652.6 1230.2,1666.5 1216.3,1678.7 1211.1,1675.2 1223.2,1661.3 1237.2,1647.3Z" fill="#fff"/>
<path d="M546.8,2389.0 561.0,2380.0 574.4,2381.4 570.0,2389.0 556.7,2393.5Z" fill="#fff"/>
<path d="M584.3,2378.0 594.2,2379.0 596.4,2387.0 594.2,2402.0 587.6,2411.0 581.0,2406.7 583.2,2393.5Z" fill="#fff"/>
<path d="M603.0,2400.0 618.5,2398.0 631.7,2398.0 634.0,2402.0 618.5,2405.6 607.5,2406.7Z" fill="#fff"/>
<g fill="none" stroke="#000" stroke-width="2.0" stroke-linejoin="round" stroke-linecap="round">
<path d="M177.0,281.5 187.4,288.4 197.9,297.1 211.8,305.8 225.7,314.5 239.7,316.3 250.1,312.8 264.0,305.8 278.0,298.9 288.4,291.9 298.9,291.2 311.1,293.6 323.2,297.1 337.2,304.1 351.1,314.5 365.0,326.7 373.7,335.4 378.9,343.4 384.2,345.9 385.9,333.7 382.4,328.5 392.9,316.3 403.3,307.6 413.8,297.1 420.7,288.4 422.5,271.0 427.7,260.6 436.4,250.1 448.6,241.4 466.0,239.7 473.0,234.5 490.4,236.2 504.3,229.2 518.2,222.3 532.2,213.6 539.1,203.1 551.3,196.2 563.5,196.2 572.2,203.1 572.2,210.1 563.5,217.0 551.3,222.3 547.8,229.2 551.3,237.9 556.5,246.6 560.0,251.9 563.5,246.6 573.9,241.4 587.9,234.5 598.3,231.0 603.5,228.5 601.8,218.8 603.5,210.1 610.5,204.2 617.5,210.1 619.2,222.3 620.9,227.5 636.6,227.5 650.5,232.7 662.7,239.7 669.7,248.4 673.2,257.1 688.8,260.6 699.3,259.9 723.7,262.3 751.5,265.8 768.9,272.8 776.9,276.2 777.0,274.5 787.4,268.2 801.4,263.0 811.8,259.5 829.2,256.0 846.6,252.6 867.5,251.9 884.9,253.6 864.0,258.8 851.9,262.3 846.6,268.2 851.9,276.2 865.8,278.7 878.0,276.9 895.4,281.5 911.1,290.2 919.8,298.9 925.0,309.3 926.7,321.5 940.6,323.9 951.1,330.2 965.0,337.9 978.9,347.6 992.9,359.8 1003.3,372.0 1020.7,387.7 1038.1,403.3 1043.4,412.0 1055.6,413.8 1073.0,415.9 1090.4,414.5 1107.8,414.5 1132.2,416.2 1147.8,419.7 1160.0,424.2 1177.4,431.2 1194.8,441.6 1212.2,455.6 1227.9,464.3 1236.6,469.5 1243.6,483.4 1247.1,500.8 1252.3,518.2 1259.2,535.6 1269.7,542.6 1274.9,553.0 1283.6,556.5 1285.4,570.5 1284.7,570.5 1282.2,593.2 1292.7,600.1 1304.9,614.0 1322.3,621.0 1334.5,621.0 1336.2,629.7 1351.9,633.2 1367.5,631.5 1381.5,638.4 1395.4,643.6 1411.1,648.9 1426.7,654.1 1437.2,664.5 1449.4,657.6 1458.1,664.5 1461.5,673.2 1485.9,683.7 1510.3,693.1 1527.7,700.1 1541.6,705.3 1555.6,707.0 1573.0,708.8 1597.3,707.0 1614.7,707.0 1628.7,714.0 1642.6,722.7 1660.0,735.9 1677.4,749.8 1694.8,764.5 1708.8,774.9 1722.7,778.4 1740.1,781.9 1759.2,783.6 1771.4,788.8 1778.4,802.1 1782.6,816.0 1786.1,829.9 1787.8,857.8 1786.1,875.2 1784.3,896.1 1779.1,910.0 1772.1,927.4 1761.7,941.3 1747.8,953.5 1737.3,965.7 1729.6,976.9 1729.6,975.7 1708.8,993.2 1698.3,1014.0 1687.9,1031.5 1670.5,1048.9 1654.8,1062.8 1651.3,1083.7 1649.6,1108.1 1653.0,1128.9 1654.8,1142.9 1649.6,1163.8 1646.1,1184.7 1644.3,1205.6 1635.6,1216.0 1626.9,1229.9 1625.2,1247.3 1626.9,1264.7 1621.7,1285.6 1604.3,1306.5 1586.9,1320.5 1583.4,1334.4 1583.4,1348.3 1569.5,1358.8 1555.6,1369.2 1552.1,1376.9 1548.8,1379.2 1529.6,1382.7 1494.8,1384.5 1477.4,1387.9 1460.0,1393.2 1446.1,1403.6 1432.2,1412.3 1411.3,1415.8 1390.4,1426.2 1373.0,1438.4 1355.6,1450.6 1345.1,1461.1 1334.7,1480.2 1329.4,1497.6 1327.7,1511.5 1327.0,1532.4 1327.7,1553.3 1320.7,1567.3 1303.3,1581.2 1289.4,1593.4 1278.9,1612.5 1272.0,1629.9 1258.1,1647.3 1240.6,1664.7 1223.2,1678.7 1211.1,1689.1 1198.9,1706.5 1188.4,1720.5 1178.0,1737.9 1164.0,1751.8 1157.1,1765.7 1146.6,1772.7 1136.2,1776.9 1135.9,1776.8 1112.2,1782.7 1082.6,1782.0 1056.5,1774.7 1039.1,1766.0 1033.9,1775.7 1035.6,1786.2 1042.6,1796.6 1035.6,1810.6 1042.6,1824.5 1056.5,1829.7 1060.0,1845.4 1046.1,1866.3 1028.7,1883.7 1021.7,1894.1 990.4,1904.6 955.6,1911.5 920.7,1916.8 885.9,1918.5 868.5,1911.5 870.2,1928.9 877.2,1935.9 870.2,1949.8 865.0,1967.3 870.2,1976.0 865.0,1982.9 844.1,1989.9 816.3,1989.9 795.4,1981.2 781.5,1976.0 774.5,1982.9 778.0,2002.1 778.0,2019.5 791.9,2028.2 805.8,2026.4 819.8,2021.2 826.7,2033.4 823.2,2047.3 805.8,2047.3 791.9,2036.9 781.5,2042.1 798.9,2050.8 784.9,2057.8 771.0,2071.7 769.3,2089.1 771.0,2101.3 758.8,2110.0 757.1,2118.7 739.7,2122.2 722.3,2125.7 708.3,2134.4 696.2,2150.1 692.7,2165.7 704.9,2176.9 700.8,2174.5 718.2,2183.2 739.1,2186.7 751.3,2191.9 754.8,2205.8 747.8,2219.8 732.2,2230.2 711.3,2240.6 697.3,2251.1 686.9,2265.0 685.1,2282.4 666.0,2289.4 652.1,2294.6 643.4,2306.8 639.9,2320.7 645.1,2334.7 652.1,2348.6 664.3,2362.5 660.8,2373.0 669.5,2386.9 679.9,2404.3 697.3,2418.2 725.2,2432.2 753.0,2440.9 773.9,2442.6 768.7,2451.3 742.6,2454.8"/>
<path d="M491.9,2007.2 483.2,1999.6 479.7,1985.6 486.7,1971.7 490.2,1950.8 498.9,1947.3 504.1,1923.0 497.1,1898.6 491.9,1877.7 490.2,1858.5 505.8,1853.3 509.3,1839.4 518.0,1822.0 526.7,1801.1 540.6,1780.2 544.1,1759.3 554.6,1738.4 554.6,1721.0 565.0,1696.6 559.8,1661.8 556.3,1627.0 558.1,1626.9 566.8,1619.2 566.8,1601.8 563.3,1580.9 573.7,1560.0 580.7,1539.1 582.4,1518.2 587.7,1497.3 589.4,1476.4 596.4,1459.0 592.9,1441.6 596.4,1420.7 592.9,1403.3 591.1,1389.4 599.8,1382.4 601.6,1365.0 606.8,1344.1 606.8,1316.3 605.1,1274.5 601.6,1246.6 599.8,1225.7 600.8,1226.0 590.4,1219.0 573.0,1208.5 562.5,1196.4 548.6,1185.9 527.7,1175.5 506.8,1165.0 485.9,1154.6 465.0,1142.4 444.1,1130.2 430.2,1116.3 412.8,1102.3 398.9,1076.2 402.3,1060.6 391.9,1039.7 381.5,1022.3 358.8,994.4 351.9,977.0 351.1,977.4 344.1,960.0 335.4,942.6 326.7,925.2 319.8,907.8 311.1,890.4 298.9,873.0 288.4,855.6 274.5,838.1 257.1,827.7 241.4,820.7 237.9,808.5 246.6,803.3 241.4,792.9 234.5,778.9 232.7,761.5 239.7,747.6 253.6,733.7 269.3,723.2 272.8,714.5 279.7,712.8 281.5,702.3 276.2,695.4 267.5,705.8 253.6,691.9 243.2,684.9 251.9,667.5 248.4,646.6 264.0,632.7 262.3,622.3 267.5,612.2 271.0,598.3 274.5,586.1 291.9,577.4 311.1,572.2 316.3,563.5 311.1,558.3 319.8,551.3 325.0,532.2 340.6,528.7 351.1,521.7 358.1,507.8 368.5,493.9 373.7,483.4 366.8,473.0 366.8,455.6 365.0,441.6 361.5,427.7 366.8,413.8 365.0,392.9 358.1,382.4 351.1,370.2 344.1,361.5 333.7,351.1 330.2,344.1 331.9,333.7 326.7,323.2 316.3,314.5 304.1,311.1 293.6,314.5 284.9,323.2 274.5,330.2 264.0,335.4 262.3,344.1 269.3,351.1 278.0,358.1 272.8,365.0 260.6,370.2 246.6,368.5 243.2,358.1 229.2,354.6 222.3,347.6 215.3,338.9 204.9,335.4 190.9,337.2 177.0,340.6"/>
<path d="M424.0,2234.0 426.1,2215.9 440.0,2207.9 458.1,2204.1 478.0,2194.0 473.1,2181.1 455.0,2178.0 444.9,2172.1 432.0,2180.1 420.9,2184.9 417.0,2175.9 427.8,2166.8 444.9,2159.9 450.1,2150.1"/>
<path d="M478.0,2011.7 495.4,2013.5 497.1,2030.9 495.4,2048.3 486.7,2064.0 467.5,2062.2 472.8,2041.3 476.2,2023.9 478.0,2011.7"/>
<path d="M491.9,2007.2 509.3,2009.0 523.2,2013.5 519.8,2034.4 519.8,2055.3 511.1,2076.9"/>
<path d="M559.3,264.0 546.1,276.2 542.6,288.4 549.6,300.6 558.3,308.6 570.5,304.1 575.7,288.4 572.2,276.2 562.8,264.0Z"/>
<path d="M1251.1,1631.7 1256.3,1636.9 1244.1,1652.6 1230.2,1666.5 1216.3,1678.7 1211.1,1675.2 1223.2,1661.3 1237.2,1647.3Z" stroke-width="1.6"/>
<path d="M546.6,222.3 539.7,236.2 522.3,246.6 513.6,267.5 510.1,284.9 499.6,302.3 511.8,300.6 525.7,323.2 531.0,340.6 529.2,354.6 541.4,370.2 550.1,377.2 581.5,375.5 605.8,378.9 618.0,392.9 631.9,406.8 665.0,405.1 692.9,403.3 698.1,410.3 691.1,427.7 684.2,441.6 685.9,466.0 692.9,488.6 699.8,499.1 684.2,516.5 698.1,528.7 706.8,542.6 710.3,560.0 708.5,572.2 715.5,570.5"/>
<path d="M715.5,570.5 734.7,586.1 748.6,582.6 760.8,589.6 773.0,577.4 790.4,567.0 807.8,556.5 811.3,546.1 832.2,539.1 833.9,530.4 816.5,528.7 809.5,511.3 806.0,497.3 786.9,471.2 804.3,474.7 821.7,479.9 839.1,483.4 849.6,490.4 860.0,476.4 877.4,469.5 894.8,462.5 912.2,455.6 927.9,445.1"/>
<path d="M952.3,335.4 929.6,351.1 926.2,366.8 936.6,377.2 912.2,387.7 907.0,403.3 900.1,413.8 927.9,445.1 940.1,436.4 947.1,455.6 957.5,466.0 961.0,479.9 947.1,492.1 954.0,528.7 955.8,547.8 964.5,556.5 983.6,570.5"/>
<path d="M715.5,570.5 708.5,560.0 699.8,539.1 685.9,544.3 672.0,553.0 616.3,554.8 618.0,573.9 638.9,577.4 638.9,589.6 611.1,593.1 610.0,626.9"/>
<path d="M833.9,530.4 849.6,542.6 856.5,563.5 863.5,587.9"/>
<path d="M381.7,330.2 377.2,340.6 368.5,347.6 352.8,358.1 351.1,368.5"/>
<path d="M1043.4,412.0 1036.4,434.7 1020.7,445.1 1015.5,466.0 1012.0,476.4 1024.2,493.9 1036.4,499.1 1043.4,521.7 1055.6,544.3"/>
<path d="M1147.8,419.7 1135.6,438.1 1132.2,455.6 1139.1,479.9 1147.8,490.4 1140.9,511.3 1135.6,533.9"/>
<path d="M1227.9,464.3 1219.2,483.4 1205.3,507.8 1194.8,525.2 1184.4,537.4 1160.0,532.2 1146.1,537.4 1135.6,533.9 1121.7,532.2 1114.7,525.2 1097.3,530.4 1083.4,528.7 1076.4,539.1 1081.7,549.6 1055.6,544.3 1034.7,546.1 1020.7,553.0 999.8,560.0 984.2,570.5"/>
<path d="M984.2,570.5 984.2,626.9"/>
<path d="M1121.7,532.2 1123.4,546.1 1139.1,554.8 1160.0,567.0 1172.2,584.4"/>
<path d="M611.1,627.5 626.7,636.2 631.9,653.6 623.2,709.3 611.1,758.1"/>
<path d="M611.1,758.1 605.8,751.1 590.2,738.9 609.3,700.6"/>
<path d="M611.1,758.1 591.9,751.1 567.5,759.8 546.6,766.8 529.2,778.9 515.3,785.9 510.1,803.3 503.1,817.3 504.9,831.2 490.9,838.1 485.7,852.1 478.7,859.0 487.4,873.0 497.9,890.4 511.8,911.3 504.9,925.2 522.3,926.9 539.7,935.6 541.4,946.1 564.0,942.6 581.5,935.6 593.6,928.7 591.9,951.3 591.2,979.2"/>
<path d="M591.2,979.2 602.3,982.6 626.7,980.9"/>
<path d="M626.7,980.9 654.6,984.4 672.0,977.4 682.4,967.0 699.8,956.5 720.7,942.6 734.7,940.9 755.6,935.6 766.0,937.4 769.5,960.0 767.7,987.9 776.4,1012.2 790.4,1020.9 797.3,1026.9"/>
<path d="M485.7,852.1 598.9,885.1 672.0,921.7 720.7,942.6"/>
<path d="M720.7,928.7 755.6,925.2 773.0,921.7 783.4,913.0 800.8,911.3 825.2,890.4 851.3,878.2 860.0,890.4 872.2,900.8 886.1,906.0 894.8,907.8"/>
<path d="M894.8,906.7 1001.0,906.0 1006.2,859.0 997.5,836.4 1065.4,688.4 1076.9,679.7"/>
<path d="M894.8,907.8 893.1,942.6 896.6,979.2 943.6,980.9 950.5,994.8 945.3,1012.2 954.0,1026.9"/>
<path d="M1006.2,859.0 1016.7,873.0 1027.1,897.3 1041.1,911.3 1055.0,925.2 1076.9,926.9"/>
<path d="M861.7,577.0 865.2,597.9 872.2,622.3 863.5,637.9 877.4,646.6 887.9,657.1 898.3,664.0 893.1,646.6 900.1,634.5 912.2,629.2 926.2,641.4 934.9,629.2 940.1,615.3 947.1,603.1 983.6,603.1 983.6,577.0"/>
<path d="M983.6,603.1 985.4,618.8 992.3,636.2 1006.2,650.1 1020.2,660.6 1037.6,669.3 1055.0,678.0 1065.4,684.9"/>
<path d="M333.7,577.0 361.5,592.7 366.8,599.6 385.9,603.1 399.8,597.9 420.7,610.1 426.0,615.3"/>
<path d="M426.0,615.3 436.4,629.2 434.7,644.9 420.7,669.3 399.8,688.4 372.0,704.1 351.1,716.3 335.4,728.5 330.2,744.1 325.0,765.0 309.3,778.9 297.1,766.8 288.4,758.1 271.0,754.6 264.0,759.8 262.3,747.6 271.0,740.6 269.3,723.2"/>
<path d="M426.0,615.3 441.6,617.0 455.6,627.5 466.0,639.7 479.9,646.6 493.9,664.0 504.3,672.8 509.5,688.4 525.2,691.9 542.6,688.4 556.5,684.9 570.5,690.2 580.9,688.4 594.8,695.4 610.5,700.6"/>
<path d="M1169.3,577.0 1178.0,594.4 1188.4,611.8 1197.1,632.7 1202.3,646.6 1212.8,651.9 1223.2,646.6 1231.9,629.2 1251.1,615.3 1282.4,597.9"/>
<path d="M1411.3,651.9 1406.0,671.0 1397.3,695.4 1390.4,716.3 1379.9,733.7 1366.0,754.6 1352.1,768.5 1334.7,782.4 1324.2,789.4"/>
<path d="M1324.2,789.4 1338.1,799.8 1336.4,817.3 1320.7,834.7 1308.5,845.1 1303.3,866.0 1306.8,883.4 1299.8,897.3 1285.9,918.2 1273.7,940.9"/>
<path d="M1077.0,926.9 1273.7,940.9"/>
<path d="M1273.7,940.9 1265.0,963.5 1258.1,994.8 1259.8,1026.9"/>
<path d="M1324.2,789.4 1341.6,785.9 1355.6,789.4 1366.0,799.8 1367.7,834.7 1359.0,852.1 1366.0,862.5 1379.9,879.9 1393.9,878.2 1399.1,886.9 1386.9,893.9 1385.1,911.3 1379.9,914.7 1393.9,928.7 1400.8,946.1 1411.3,953.0 1421.7,954.8"/>
<path d="M1555.8,705.8 1550.5,719.8 1529.6,730.2 1519.2,751.1 1514.0,768.5 1514.0,785.9 1515.7,796.4 1520.9,820.7 1517.5,836.4 1494.8,838.1 1477.4,845.1 1460.0,855.6 1435.6,866.0 1426.9,890.4 1416.5,911.3 1420.0,935.6 1421.7,954.8"/>
<path d="M1573.0,708.1 1571.2,728.9 1578.2,749.8 1581.7,784.7 1588.6,812.5 1599.1,833.4 1602.6,847.3 1599.1,859.5"/>
<path d="M1599.1,859.5 1611.3,857.8 1628.7,861.3 1646.1,873.4 1658.3,870.0 1663.5,857.8 1660.0,840.4 1665.2,824.7 1677.4,816.0 1691.3,791.6 1707.0,776.0"/>
<path d="M1665.2,824.7 1680.9,821.2 1694.8,819.5 1708.8,814.3 1701.8,833.4 1715.7,838.6 1729.6,842.1 1736.6,826.4 1754.0,826.4 1771.4,829.9 1785.4,829.9"/>
<path d="M1658.3,870.0 1673.9,866.5 1686.1,861.3 1700.1,856.0 1712.2,857.8 1710.5,873.4 1719.2,887.4 1733.1,878.7 1750.5,870.0 1771.4,863.0 1786.1,861.3"/>
<path d="M1599.1,859.5 1593.9,875.2 1597.3,889.1 1576.4,904.8 1555.6,917.0 1538.1,927.4 1520.7,932.6 1499.8,923.9 1489.4,937.9 1492.9,950.1 1482.4,964.0 1458.1,976.9"/>
<path d="M1576.4,904.8 1586.9,910.0 1593.9,927.4 1604.3,923.9 1620.0,906.5 1639.1,899.6 1660.0,906.5 1677.4,920.5 1691.3,910.0 1708.8,917.0 1726.2,922.2 1743.6,917.0 1761.0,910.0 1778.4,908.3"/>
<path d="M1677.4,920.5 1682.6,932.6 1698.3,943.1 1715.7,950.1 1729.6,962.2 1740.1,964.0"/>
<path d="M1682.6,932.6 1684.4,955.3 1691.3,976.9"/>
<path d="M1458.1,976.8 1444.1,974.0 1433.7,961.8 1423.2,951.4 1409.3,965.3 1398.9,979.2 1397.1,996.6 1405.8,1001.9 1405.8,1031.5 1407.6,1045.4 1409.3,1066.3 1407.6,1080.2 1416.3,1094.1 1416.3,1115.0 1412.8,1120.2"/>
<path d="M1277.0,1045.4 1294.4,1043.6 1304.9,1048.9 1311.8,1040.2 1329.2,1052.3 1343.2,1054.1 1358.8,1061.1 1360.6,1050.6 1378.0,1048.9 1395.4,1043.6 1407.6,1045.4"/>
<path d="M1412.8,1120.2 1430.2,1111.5 1451.1,1097.6 1472.0,1088.9 1485.9,1092.4 1489.4,1101.1 1506.8,1104.6 1527.7,1111.5 1548.6,1118.5 1562.5,1127.2 1573.0,1135.9 1583.4,1135.9 1597.3,1139.4 1611.3,1144.6 1621.7,1153.3 1611.3,1167.3 1604.3,1177.7 1597.3,1191.6 1607.8,1205.6 1611.3,1210.8 1626.9,1224.7"/>
<path d="M1412.8,1120.2 1402.3,1108.1 1397.1,1106.3 1397.1,1115.0 1384.9,1116.8 1374.5,1135.9 1371.0,1156.8 1376.2,1170.7 1378.0,1182.9 1365.8,1195.1 1371.0,1205.6 1372.8,1216.0 1360.6,1223.0 1350.1,1229.9 1329.2,1224.7 1311.8,1229.9 1294.4,1233.4 1277.0,1236.9"/>
<path d="M1611.3,1210.8 1597.3,1212.5 1586.9,1216.0 1578.2,1224.7 1581.7,1240.4 1576.4,1243.9 1585.1,1254.3 1583.4,1268.2 1573.0,1282.2 1566.0,1290.9 1555.6,1292.6 1555.6,1306.5"/>
<path d="M1555.6,1306.5 1559.0,1318.7 1573.0,1322.2 1583.4,1322.2"/>
<path d="M1555.6,1306.5 1545.1,1313.5 1538.1,1337.9 1520.7,1344.8 1499.8,1351.8 1478.9,1358.8 1458.1,1367.5 1440.6,1372.7 1426.7,1376.9"/>
<path d="M1426.7,1376.9 1402.3,1372.7 1395.4,1355.3 1398.9,1330.9 1391.9,1323.9 1381.5,1313.5 1374.5,1299.6 1371.0,1282.2 1360.6,1280.4 1343.2,1283.9 1318.8,1289.1 1306.6,1278.7 1290.9,1276.9 1277.0,1275.2"/>
<path d="M1682.6,937.4 1684.4,958.3 1677.4,972.3 1684.4,986.2 1694.8,998.4 1703.5,996.6"/>
<path d="M1178.0,1367.0 1209.3,1365.3 1226.7,1372.3 1254.6,1374.0 1278.9,1379.2 1289.4,1387.9 1294.6,1396.6 1296.4,1410.6 1303.3,1421.0 1306.8,1434.9 1320.7,1438.4 1341.6,1448.9 1345.8,1459.3"/>
<path d="M1139.7,1414.0 1137.9,1431.5 1132.7,1448.9 1129.2,1468.0"/>
<path d="M1129.2,1468.0 1141.4,1466.3 1151.9,1469.8 1155.3,1483.7 1158.8,1490.6 1157.1,1504.6 1155.3,1520.2"/>
<path d="M1158.8,1490.6 1174.5,1494.1 1195.4,1497.6 1216.3,1501.1 1237.2,1506.3 1240.6,1494.1 1258.1,1487.2 1275.5,1483.7 1292.9,1488.9 1313.8,1483.7 1329.4,1481.9"/>
<path d="M1155.3,1520.2 1171.0,1518.5 1191.9,1522.0 1216.3,1527.2 1230.2,1535.9 1244.1,1542.9 1254.6,1553.3 1261.5,1563.8 1275.5,1565.5 1289.4,1567.3 1284.2,1577.7 1282.4,1591.6 1289.4,1593.4"/>
<path d="M797.9,1027.0 811.8,1030.5 832.7,1034.0 846.6,1042.7 864.0,1051.4 881.5,1063.6 898.9,1065.3 923.2,1067.0 930.2,1082.7 937.2,1096.6 937.2,1117.5 928.5,1118.2 938.9,1131.5 940.6,1155.8 999.8,1157.6 1003.3,1161.1 998.1,1173.2 1001.6,1187.2 1013.8,1197.6 1022.5,1201.1 1027.7,1216.8"/>
<path d="M1027.7,1209.8 1041.6,1204.6 1055.6,1194.1 1076.4,1188.9 1093.9,1195.9 1111.3,1201.1 1128.7,1197.6 1139.1,1201.1 1156.5,1188.9 1158.3,1204.6 1149.6,1211.5 1160.0,1215.0 1177.4,1216.8"/>
<path d="M1027.7,1216.8 1024.2,1242.9 1010.3,1276.0 982.4,1260.3 945.9,1258.5 886.7,1269.0 871.0,1298.6 869.3,1323.0 858.8,1354.3"/>
<path d="M1010.3,1276.0 1017.3,1281.2 1008.5,1286.4 1013.8,1305.6 1017.3,1323.0 1015.5,1350.8 1027.7,1352.6 1048.6,1356.0 1066.0,1352.6 1076.4,1356.0 1088.6,1361.3 1093.9,1375.2 1095.6,1392.6 1100.8,1411.7 1111.3,1415.2 1125.2,1410.0 1135.6,1417.0 1139.1,1427.4"/>
<path d="M858.8,1354.3 871.0,1368.2 881.5,1382.2 898.9,1396.1 923.2,1410.0 944.1,1418.7 965.0,1430.9 985.9,1443.1 1006.8,1450.1 1017.3,1455.3 1027.7,1476.9"/>
<path d="M1262.7,1027.0 1259.2,1044.4 1250.5,1072.3 1247.1,1100.1 1236.6,1114.0 1222.7,1124.5 1212.2,1141.9 1194.8,1159.3 1189.6,1173.2 1177.4,1183.7 1173.9,1201.1 1177.4,1216.8"/>
<path d="M1177.4,1216.8 1180.9,1227.2 1194.8,1235.9 1212.2,1246.4 1229.6,1253.3 1247.1,1260.3 1248.8,1267.3"/>
<path d="M1248.8,1267.3 1257.5,1253.3 1267.9,1241.1 1281.9,1235.9"/>
<path d="M1248.8,1267.3 1247.1,1281.2 1236.6,1291.6 1226.2,1305.6 1219.2,1319.5 1212.2,1333.4 1198.3,1350.8 1180.9,1366.5 1160.0,1382.2 1149.6,1396.1 1139.1,1427.4"/>
<path d="M1248.8,1277.7 1264.5,1274.2 1281.9,1276.0"/>
<path d="M1269.7,1027.0 1278.4,1042.7"/>
<path d="M1021.7,1474.5 1007.8,1488.4 1004.3,1509.3 993.9,1521.5 1025.2,1525.0 1060.0,1530.2 1087.9,1526.7 1105.3,1514.5 1119.2,1505.8 1124.4,1495.4 1127.9,1474.5"/>
<path d="M1159.2,1516.3 1143.6,1521.5 1126.2,1530.2 1108.8,1540.6 1094.8,1554.6 1080.9,1568.5 1070.5,1582.4 1056.5,1596.4 1039.1,1613.8 1026.9,1624.2"/>
<path d="M1026.9,1624.2 1018.2,1638.1 1016.5,1655.6 1011.3,1673.0 1007.8,1690.4 1007.8,1707.8 1011.3,1716.5 1000.8,1721.7 997.3,1735.6 1002.6,1746.1 1018.2,1760.0 1035.6,1768.7"/>
<path d="M1026.9,1624.2 1042.6,1619.0 1053.0,1620.7 1067.0,1631.2 1077.4,1641.6 1080.9,1652.1 1094.8,1645.1 1108.8,1659.0 1126.2,1666.0 1140.1,1679.9 1154.0,1690.4 1164.5,1700.8 1178.4,1706.0 1188.8,1700.8 1195.8,1690.4"/>
<path d="M628.7,980.5 656.5,1029.2 647.8,1046.6 646.1,1071.0 649.6,1084.9 639.1,1095.4 633.9,1111.1 640.9,1119.8 632.2,1133.7 639.1,1154.6 649.6,1158.1 639.1,1172.0 623.4,1189.4 628.7,1199.8"/>
<path d="M628.7,1199.8 618.2,1203.3 616.5,1217.3 600.8,1226.0"/>
<path d="M628.7,1199.8 639.1,1213.8 646.1,1234.7 660.0,1259.0 654.8,1283.4 660.0,1304.3 668.7,1325.2 677.4,1353.0 682.6,1379.2"/>
<path d="M682.6,1379.2 708.8,1377.4 719.2,1360.0 736.6,1354.8 741.8,1344.3 754.0,1353.0 788.8,1353.0 801.0,1377.4 815.0,1349.6 855.0,1349.6 862.0,1354.8"/>
<path d="M683.4,1377.2 706.0,1378.9 711.3,1385.9 700.8,1417.3 676.4,1427.7 662.5,1436.4 659.0,1448.6 666.0,1452.1 659.0,1466.0 662.5,1486.9 659.0,1497.3 667.7,1516.5 652.1,1521.7 641.6,1539.1 627.7,1560.0 617.3,1580.9 610.3,1594.8 612.4,1612.2 612.7,1626.9"/>
<path d="M609.6,1627.0 594.6,1654.9 598.1,1679.2 605.1,1696.6 606.8,1717.5 617.3,1745.4 617.3,1759.3 603.3,1773.2 599.8,1787.2 594.6,1794.1 599.8,1818.5 585.9,1832.4 575.5,1839.4 573.7,1853.3 577.2,1877.7 582.4,1905.6 566.8,1914.3 563.3,1933.4 554.6,1940.4 556.3,1957.8 551.1,1975.2 549.4,1996.1 551.1,2020.5 542.4,2027.4 544.1,2051.8 551.1,2062.2 547.6,2076.9"/>
<path d="M551.1,2077.0 551.1,2094.4 573.7,2101.4 570.2,2110.1 544.1,2111.8 566.8,2127.5 558.1,2139.7 554.6,2157.1 556.3,2171.0 547.6,2184.9 547.6,2191.9 533.7,2202.3 530.2,2216.3 535.4,2230.2 526.7,2237.2 525.0,2247.6 509.3,2254.6 495.4,2266.8 493.6,2285.9 505.8,2299.8 507.6,2310.3 530.2,2306.8 537.2,2317.3 533.7,2334.7 547.6,2352.1 627.7,2352.1 652.1,2357.3 664.3,2363.2"/>
<path d="M658.3,2374.7 658.3,2447.8"/>
<path d="M909.2,2351.0 923.1,2347.5 928.4,2340.5 924.9,2331.8 937.1,2333.6 947.5,2331.8 958.0,2330.1 970.1,2331.8 971.9,2335.3 961.4,2342.3 951.0,2351.0 937.1,2354.5 928.4,2361.4 919.7,2358.0 910.9,2354.5 909.2,2351.0"/>
<path d="M973.6,2333.6 982.3,2330.1 998.0,2331.0 1013.7,2332.7 1019.8,2337.1 1018.9,2344.0 1003.2,2347.5 989.3,2352.7 978.9,2354.5 970.1,2363.2 958.0,2364.9 952.7,2363.2 954.5,2356.2 963.2,2349.3 971.9,2344.0 973.6,2333.6"/>
<path d="M799.0,243.0 806.0,239.0 813.0,241.0 820.0,240.0 821.0,245.0 812.0,248.0 803.0,247.0 799.0,243.0"/>
</g>
<g fill="none" stroke="#000" stroke-width="1.8" stroke-linejoin="round" stroke-linecap="round"><path d="M470.4,2343.5 472.6,2339.5 475.3,2345.1 476.4,2352.4 476.2,2359.4 472.8,2357.3 471.0,2354.3 466.9,2354.9 464.5,2345.6 468.7,2343.9Z M561.7,2395.6 564.2,2393.9 564.5,2392.1 568.4,2389.2 570.9,2391.0 569.1,2393.2 571.4,2393.9 570.1,2396.2 566.0,2396.9 562.7,2397.0Z M496.4,2325.4 495.6,2325.9 494.3,2326.9 492.4,2325.5 491.4,2323.7 491.5,2321.9 493.7,2322.4 494.9,2322.8 497.7,2322.5 499.1,2324.9Z M459.5,2350.0 457.9,2350.2 456.7,2348.3 455.1,2346.8 453.7,2343.4 456.6,2343.3 458.2,2345.6 460.0,2344.7 462.4,2346.8 461.0,2349.1Z M555.5,2390.6 555.4,2393.4 551.6,2395.9 548.0,2396.2 542.6,2399.1 537.1,2398.1 543.2,2393.5 546.8,2392.2 549.2,2388.3 554.7,2387.4Z M620.4,2458.4 619.6,2460.5 617.4,2459.4 616.1,2457.0 615.2,2454.3 617.3,2453.8 618.9,2454.9 621.0,2453.6 623.8,2456.0 621.8,2458.2Z M631.7,2451.8 631.7,2455.0 626.7,2455.6 625.0,2456.0 621.4,2457.8 619.6,2455.8 620.7,2453.2 622.5,2451.0 625.5,2451.3 627.1,2452.0Z M473.0,2271.6 473.5,2273.1 471.0,2275.1 468.0,2277.1 465.7,2276.7 466.4,2275.0 464.0,2274.8 464.7,2272.1 469.0,2271.5 470.0,2272.5Z M489.3,2132.1 488.7,2131.4 488.1,2128.9 493.2,2127.3 494.6,2129.1 496.6,2129.2 497.4,2130.5 494.6,2132.4 491.0,2134.6 487.3,2134.8Z M621.4,2428.1 624.2,2430.3 619.5,2434.2 615.9,2436.3 612.4,2437.3 611.4,2435.3 609.0,2433.9 609.2,2429.5 615.0,2428.3 616.6,2430.5Z M674.0,2452.2 676.3,2453.1 675.6,2456.0 675.9,2457.1 676.3,2459.4 674.3,2459.9 672.6,2459.2 671.3,2457.7 672.5,2456.1 673.1,2455.1Z M538.8,2402.5 536.1,2404.8 535.8,2406.9 531.6,2410.7 528.4,2408.9 530.4,2406.0 527.6,2405.3 528.8,2402.4 533.6,2401.2 537.3,2401.0Z M499.0,2420.3 499.4,2423.2 503.6,2424.0 502.6,2431.0 498.1,2431.1 496.1,2430.9 493.2,2431.5 492.9,2427.0 493.6,2421.7 496.5,2416.5Z M434.5,2281.7 435.7,2277.0 435.8,2275.3 435.7,2272.3 438.0,2270.4 440.0,2270.5 441.4,2271.9 439.8,2275.1 438.7,2276.7 437.3,2281.3Z M580.0,2404.0 580.4,2406.6 577.3,2409.2 576.8,2410.8 574.5,2414.6 572.6,2413.4 573.4,2410.5 573.5,2408.6 575.1,2406.7 576.9,2405.6Z M435.1,2283.1 435.2,2285.2 435.0,2288.4 430.9,2291.3 429.2,2289.2 427.0,2290.0 422.6,2290.1 426.2,2285.9 430.1,2284.8 432.8,2283.1Z M658.6,2463.8 656.7,2462.5 659.4,2460.8 662.9,2459.8 666.4,2459.8 665.3,2462.0 664.3,2463.1 664.9,2465.6 660.4,2467.1 659.3,2464.7Z M512.4,2059.5 510.6,2062.1 508.2,2062.7 507.4,2064.3 505.0,2065.0 504.1,2063.5 503.7,2061.8 505.4,2060.3 507.3,2060.7 509.1,2059.5Z M619.0,2443.8 620.6,2444.4 622.5,2446.2 621.4,2449.5 619.4,2449.4 618.7,2452.2 616.2,2453.7 616.1,2449.4 617.2,2447.0 617.5,2444.6Z M551.7,2384.6 552.4,2385.8 552.1,2387.1 551.9,2389.2 549.8,2389.9 549.2,2387.4 548.9,2386.6 547.0,2384.9 548.4,2383.3 550.4,2384.2Z M499.1,2068.2 501.1,2069.4 501.2,2073.2 496.5,2073.1 494.8,2071.1 492.5,2070.3 492.7,2068.2 494.5,2066.2 497.9,2063.6 500.9,2065.2Z M714.8,2460.7 713.0,2462.0 709.7,2462.2 706.8,2462.3 705.5,2461.3 704.7,2460.4 702.7,2458.7 706.4,2457.9 709.1,2459.6 710.8,2459.8Z M451.3,2280.2 447.7,2279.7 443.7,2277.9 442.3,2272.8 444.1,2270.8 442.1,2265.3 444.9,2261.7 448.8,2268.7 449.1,2272.5 452.2,2276.6Z M575.4,2415.9 577.2,2423.4 578.9,2427.2 578.8,2433.4 577.1,2438.2 574.5,2445.6 571.1,2441.6 572.9,2431.7 572.3,2427.9 571.5,2416.8Z M467.0,2266.9 467.9,2267.8 467.9,2269.4 466.2,2269.5 465.4,2269.3 463.6,2270.4 462.7,2269.0 464.3,2267.8 465.1,2267.2 466.0,2266.3Z M506.2,2403.6 507.9,2406.0 505.0,2408.5 501.7,2410.5 498.4,2409.8 499.2,2406.7 497.3,2405.3 496.7,2401.1 501.8,2400.8 503.3,2403.7Z M507.8,2064.3 507.5,2069.7 506.7,2072.5 507.1,2075.4 505.4,2078.6 503.7,2078.7 502.2,2077.8 503.1,2073.9 504.5,2071.9 505.2,2067.4Z M683.6,2479.4 679.9,2480.8 675.0,2469.6 673.5,2465.3 668.6,2457.9 669.7,2453.8 673.9,2456.1 678.5,2460.1 680.4,2466.9 680.0,2469.9Z M490.1,2344.4 487.2,2341.6 488.9,2334.0 488.8,2330.4 488.6,2320.4 492.7,2319.7 493.5,2328.1 494.9,2330.7 495.7,2336.3 493.2,2340.7Z M686.0,2455.2 688.1,2459.2 688.9,2463.2 688.8,2467.3 686.8,2468.9 685.2,2472.0 681.6,2473.9 681.7,2467.1 684.2,2464.2 683.7,2459.7Z M482.3,2351.2 482.1,2352.6 480.6,2354.2 478.4,2355.1 475.3,2356.9 472.6,2356.6 476.0,2353.8 477.7,2352.8 479.0,2350.2 482.4,2349.2Z M436.3,2339.7 435.1,2339.4 434.1,2338.3 433.5,2336.6 434.9,2335.9 435.8,2336.1 437.0,2334.4 438.5,2335.6 437.4,2337.6 436.8,2338.3Z M567.8,2418.4 569.3,2420.7 569.8,2424.4 568.8,2430.2 565.0,2430.9 564.0,2427.8 560.2,2430.3 558.1,2426.3 562.6,2421.8 565.1,2420.9Z M438.6,2286.2 436.2,2284.4 433.7,2281.5 433.5,2276.3 435.8,2275.5 435.9,2271.4 438.6,2267.8 440.2,2274.9 439.0,2278.8 439.9,2283.0Z M579.8,2453.8 580.8,2455.7 580.9,2458.3 578.9,2460.2 576.4,2463.3 572.7,2463.4 574.2,2458.6 575.4,2456.9 574.4,2452.8 577.9,2450.5Z M462.5,2340.1 460.2,2342.3 458.5,2343.6 455.9,2346.8 451.6,2346.9 453.9,2343.5 454.0,2342.4 453.6,2340.0 457.6,2338.7 460.5,2339.1Z M463.2,2251.6 465.1,2252.9 464.0,2255.3 461.0,2254.2 460.3,2253.0 457.9,2252.8 457.8,2251.1 459.9,2249.9 462.2,2249.1 463.7,2250.3Z M503.8,2352.2 505.1,2353.0 505.4,2355.6 502.9,2358.6 499.8,2361.7 497.2,2361.1 499.4,2356.7 499.1,2355.1 499.5,2350.1 503.4,2348.6Z M516.7,2398.6 515.4,2400.9 512.8,2401.7 511.8,2402.9 509.7,2403.6 508.8,2402.4 508.2,2401.0 509.9,2399.4 511.9,2399.9 513.4,2399.0Z M436.1,2275.8 430.1,2265.2 428.1,2259.8 423.5,2255.0 422.2,2246.9 425.1,2245.5 428.3,2245.8 431.6,2253.3 432.3,2258.6 436.8,2268.1Z M581.0,2393.9 582.9,2395.0 582.3,2399.5 581.8,2402.6 580.6,2404.7 579.2,2404.6 577.1,2406.0 575.9,2402.6 578.5,2399.3 579.5,2398.6Z M463.4,2144.2 463.4,2146.5 460.4,2149.6 454.8,2149.1 453.8,2147.5 447.1,2148.4 445.5,2145.5 453.2,2143.8 457.0,2143.6 461.7,2142.6Z M604.3,2448.9 607.6,2449.9 605.9,2456.7 604.5,2459.3 604.8,2466.5 601.1,2469.6 600.2,2462.7 599.8,2459.2 599.3,2455.0 601.5,2451.8Z M441.8,2247.1 439.8,2247.9 437.1,2248.1 434.7,2246.7 432.9,2245.7 428.6,2243.6 431.2,2242.5 435.6,2244.4 437.5,2244.5 441.7,2245.3Z M460.7,2263.3 464.9,2264.4 462.0,2269.3 457.8,2269.6 456.1,2273.0 451.1,2275.5 451.2,2270.7 453.2,2267.2 454.9,2264.1 457.8,2263.7Z M585.9,2458.3 587.3,2460.2 585.7,2462.0 583.6,2460.6 582.3,2459.4 581.9,2457.9 583.0,2456.9 583.9,2455.1 586.5,2454.3 586.8,2457.0Z M534.9,2402.9 536.9,2402.4 538.7,2406.8 537.0,2411.4 536.4,2413.3 535.9,2420.9 533.4,2419.0 533.5,2411.9 533.1,2408.4 533.2,2403.9Z M468.6,2363.0 464.3,2365.4 463.6,2366.5 461.3,2369.2 458.1,2368.8 457.8,2367.1 457.8,2365.5 460.5,2364.2 462.7,2363.3 467.0,2361.3Z M464.0,2319.5 462.7,2318.5 462.5,2315.8 464.2,2312.9 466.6,2308.9 469.5,2308.8 468.0,2314.0 468.1,2315.6 468.9,2320.1 465.5,2322.6Z M460.9,2148.7 462.8,2151.5 459.9,2152.0 456.4,2148.5 455.7,2146.8 453.9,2144.8 455.6,2144.4 458.3,2144.7 462.7,2146.4 463.3,2148.8Z M455.0,2122.8 453.9,2118.8 453.8,2114.3 456.5,2110.1 458.5,2105.6 463.2,2098.9 464.0,2105.4 460.2,2112.3 460.7,2116.2 458.2,2124.2Z M537.5,2409.9 539.3,2408.0 543.1,2409.3 542.5,2414.8 540.1,2415.5 540.7,2420.1 538.0,2421.9 536.0,2417.0 535.0,2413.1 535.4,2409.9Z M469.8,2150.8 468.0,2154.8 466.8,2156.2 467.0,2159.2 464.2,2160.9 462.9,2158.9 462.1,2157.3 462.9,2155.1 464.7,2153.9 466.7,2151.1Z M465.2,2082.3 465.0,2085.9 461.3,2089.7 459.9,2092.0 457.2,2094.5 455.4,2094.0 453.5,2093.0 455.3,2089.2 458.8,2087.9 460.5,2086.3Z M612.4,2450.0 616.3,2449.0 615.5,2452.5 610.8,2454.6 608.5,2455.0 606.0,2455.7 606.3,2453.6 607.0,2450.9 610.3,2446.9 612.9,2447.9Z M459.8,2328.3 460.7,2330.8 459.4,2335.4 458.8,2341.5 454.8,2348.5 453.9,2342.6 454.3,2339.3 451.2,2338.3 453.7,2330.9 457.4,2329.2Z M436.9,2272.0 435.1,2273.0 432.1,2273.2 430.7,2269.9 431.8,2268.4 429.7,2265.4 430.9,2262.6 434.3,2265.8 435.3,2268.1 437.4,2270.0Z M686.1,2465.7 683.3,2462.9 680.8,2458.6 680.5,2451.9 683.6,2450.9 684.6,2447.6 688.0,2442.4 689.9,2450.7 687.4,2456.1 687.6,2460.6Z M430.0,2252.7 429.5,2246.0 431.1,2242.0 429.3,2238.3 431.5,2233.1 434.6,2234.6 436.6,2236.6 436.9,2240.5 434.9,2243.5 433.9,2248.5Z M690.4,2463.0 691.3,2466.3 683.7,2471.2 680.8,2473.3 676.0,2477.3 673.2,2476.5 673.1,2473.6 675.6,2469.3 680.8,2467.5 683.1,2467.3Z M672.1,2448.6 674.0,2452.1 678.0,2450.7 680.8,2458.4 677.5,2461.7 675.4,2463.2 672.9,2463.2 670.8,2458.6 667.9,2453.1 667.3,2445.0Z M589.2,2410.3 587.4,2410.6 584.6,2409.6 585.9,2406.7 588.3,2406.6 588.7,2404.2 591.4,2403.0 592.0,2406.1 591.5,2408.2 591.0,2410.1Z M454.1,2314.2 452.5,2315.7 450.3,2317.5 447.7,2315.9 448.9,2313.0 448.1,2311.7 447.5,2307.8 450.9,2308.1 452.2,2310.9 453.7,2312.0Z M514.2,2054.3 515.1,2057.5 506.2,2059.7 499.1,2061.0 494.1,2060.1 495.0,2057.7 491.1,2055.5 495.3,2051.2 504.5,2052.6 505.5,2054.9Z M496.6,2309.8 492.6,2310.1 488.1,2306.6 485.5,2306.4 479.8,2303.9 481.0,2301.6 484.6,2301.8 487.4,2301.9 490.3,2304.0 492.8,2306.0Z M486.9,2251.0 486.2,2252.2 484.0,2252.2 483.1,2249.2 484.2,2248.3 482.8,2246.0 483.7,2244.3 486.0,2246.8 487.1,2248.6 487.8,2250.4Z M469.6,2334.8 467.2,2337.2 464.7,2329.5 464.1,2325.0 463.0,2320.4 464.5,2319.0 466.6,2318.4 470.0,2321.1 470.2,2327.5 468.3,2328.3Z M479.9,2077.8 475.9,2078.7 478.2,2073.2 482.2,2071.4 483.7,2068.6 487.7,2064.8 487.9,2068.5 486.4,2072.6 484.4,2076.3 482.0,2076.8Z M482.6,2341.6 480.0,2342.1 479.6,2336.4 479.7,2333.8 479.3,2330.4 480.9,2329.3 482.8,2329.3 485.1,2331.8 483.9,2335.7 482.6,2336.5Z M496.4,2330.7 495.1,2333.2 496.1,2335.2 492.5,2338.8 488.9,2340.5 485.7,2340.9 487.8,2337.0 490.4,2334.5 491.8,2330.2 497.2,2326.1Z M456.7,2303.7 457.9,2306.6 458.9,2307.4 461.5,2310.0 459.7,2312.6 457.3,2310.7 456.1,2311.0 454.2,2310.1 454.3,2307.4 454.8,2304.7Z M433.0,2321.4 430.4,2322.3 426.6,2321.4 427.1,2316.9 429.6,2315.7 428.8,2311.4 432.1,2308.8 434.1,2313.7 434.2,2316.8 435.0,2319.8Z M467.4,2318.9 465.2,2320.8 464.0,2321.6 462.9,2323.0 461.2,2322.9 460.0,2322.0 459.5,2320.5 461.8,2319.6 463.1,2319.7 465.2,2318.1Z M720.3,2456.6 721.3,2459.4 716.6,2462.0 715.2,2463.1 712.2,2466.6 709.7,2465.4 710.5,2462.3 711.4,2459.8 714.1,2458.5 716.1,2458.3Z M481.4,2281.4 482.9,2283.0 480.6,2285.9 480.0,2287.0 479.1,2290.2 477.1,2290.1 476.8,2287.8 476.6,2285.9 477.9,2284.3 479.2,2283.6Z M524.5,2446.0 522.7,2442.1 523.3,2439.0 522.8,2436.5 524.6,2434.6 527.0,2433.8 530.3,2433.8 530.1,2437.8 527.3,2439.4 527.4,2442.6Z M673.0,2475.0 672.0,2474.5 671.4,2472.5 673.8,2470.4 676.3,2469.1 678.1,2469.6 676.7,2472.3 676.6,2473.7 675.9,2477.5 672.8,2478.2Z M490.5,2283.4 486.5,2283.8 484.6,2280.0 481.9,2279.9 477.7,2276.8 481.0,2274.1 484.6,2275.0 487.1,2274.5 489.2,2276.4 490.0,2279.3Z M569.5,2421.1 565.9,2423.2 563.3,2423.1 561.6,2425.5 558.0,2425.4 558.3,2422.7 559.1,2420.8 561.0,2419.5 563.3,2419.9 566.3,2419.4Z M443.9,2271.6 445.4,2271.9 446.2,2274.1 443.7,2274.9 442.5,2274.1 440.8,2275.5 439.1,2274.5 440.4,2272.4 441.6,2271.1 443.1,2270.6Z M479.3,2351.7 479.2,2349.5 480.7,2347.4 482.1,2345.8 483.7,2345.8 484.9,2346.1 487.4,2346.4 486.0,2349.1 483.2,2349.2 482.1,2350.1Z M478.6,2067.6 476.3,2067.4 472.9,2067.3 469.3,2062.4 471.8,2060.5 471.4,2058.6 470.9,2053.5 475.6,2057.3 477.2,2062.1 478.9,2065.2Z M487.5,2161.6 483.9,2159.6 483.2,2156.0 479.8,2154.9 477.7,2149.9 482.1,2149.7 484.7,2151.6 487.3,2151.6 488.8,2154.6 488.8,2157.9Z M456.3,2324.4 455.7,2327.8 448.9,2329.3 446.6,2330.2 441.7,2332.5 439.8,2330.6 440.8,2327.9 443.5,2325.2 447.6,2325.3 449.8,2325.5Z M469.0,2251.0 470.6,2253.7 467.2,2253.1 465.4,2250.7 463.8,2249.7 462.5,2248.0 464.1,2247.4 466.2,2247.0 469.1,2248.4 468.6,2250.1Z M511.9,2086.3 512.8,2088.4 513.6,2093.1 505.1,2099.0 502.8,2095.5 498.7,2097.6 492.5,2098.1 498.7,2091.1 505.3,2087.0 510.8,2083.9Z M470.5,2326.0 473.0,2327.7 470.9,2330.3 467.7,2329.1 466.2,2329.7 462.4,2330.4 462.7,2327.6 465.4,2326.0 467.2,2324.6 469.2,2325.0Z M463.3,2129.7 465.4,2128.9 464.9,2132.1 462.9,2133.4 462.5,2135.1 460.7,2137.7 460.0,2135.6 460.4,2133.2 460.9,2131.1 462.2,2130.4Z M505.5,2051.7 506.8,2053.0 505.9,2057.3 505.3,2062.4 502.2,2069.0 500.9,2064.7 501.6,2060.6 499.0,2060.1 500.4,2053.4 503.7,2051.8Z M485.1,2077.2 483.5,2080.0 477.4,2073.0 475.2,2069.4 471.1,2065.2 471.2,2062.4 473.7,2062.0 478.2,2063.8 481.2,2069.3 480.4,2071.1Z M461.8,2088.6 461.7,2085.9 465.5,2083.0 469.2,2082.3 474.5,2079.0 480.4,2079.0 474.6,2084.2 470.7,2085.9 468.5,2089.9 462.9,2091.5Z M555.3,2411.7 556.2,2408.5 557.2,2406.1 558.8,2403.8 560.4,2403.1 562.7,2401.1 564.4,2401.7 561.3,2405.7 559.6,2406.8 557.8,2410.4Z M715.8,2434.3 717.7,2435.1 719.0,2437.6 717.2,2440.5 714.7,2443.5 711.5,2442.9 712.3,2438.6 711.5,2437.0 710.0,2432.2 714.0,2430.7Z M485.3,2117.9 485.5,2121.1 485.0,2126.1 477.7,2130.7 475.4,2127.4 471.3,2129.3 464.5,2129.5 471.1,2122.7 477.4,2120.4 482.0,2117.5Z M497.0,2146.6 496.1,2150.5 492.7,2151.6 492.2,2153.9 489.4,2155.6 487.6,2153.3 486.8,2150.7 488.1,2148.3 490.8,2148.5 492.7,2147.1Z M712.1,2460.2 708.6,2463.0 708.9,2464.7 704.9,2468.9 701.5,2468.1 703.0,2465.3 700.7,2465.0 702.3,2462.3 706.7,2460.3 711.1,2458.6Z M536.7,2403.9 539.2,2405.6 535.4,2409.3 533.6,2410.3 531.8,2413.7 529.0,2413.7 528.8,2410.8 529.1,2408.0 531.6,2406.2 533.4,2406.3Z M485.6,2115.4 484.0,2117.6 482.2,2115.9 483.5,2113.0 484.5,2111.8 485.5,2110.4 486.7,2111.3 488.1,2112.6 488.9,2115.6 486.8,2116.4Z M698.8,2482.2 701.1,2478.8 702.8,2476.8 704.9,2474.8 706.9,2474.3 709.7,2473.3 711.1,2474.6 706.9,2477.6 704.9,2478.2 701.9,2481.6Z M451.0,2340.6 451.8,2339.1 450.3,2337.8 451.8,2335.4 453.9,2335.7 455.2,2336.2 455.6,2337.5 454.6,2339.1 453.9,2341.3 451.4,2343.3Z M517.5,2346.7 514.4,2351.0 514.2,2352.6 513.6,2357.5 509.3,2358.2 508.9,2354.5 507.8,2353.0 508.3,2350.3 510.9,2348.2 514.5,2345.4Z M497.4,2393.2 499.9,2393.9 499.6,2397.1 497.7,2400.3 494.3,2403.8 492.1,2401.0 493.5,2397.3 490.8,2395.5 491.6,2390.2 495.9,2390.9Z M529.4,2438.9 527.9,2438.5 527.3,2435.9 526.9,2432.3 528.8,2429.9 530.2,2432.6 531.5,2431.9 534.2,2432.9 532.8,2437.0 530.6,2437.4Z M521.4,2395.1 519.7,2393.6 520.7,2390.3 522.3,2386.1 526.2,2384.5 526.4,2388.8 527.7,2389.6 530.7,2392.4 526.8,2396.2 523.7,2394.7Z M477.7,2371.2 478.2,2373.6 478.5,2376.2 477.4,2380.5 473.6,2379.9 473.4,2376.4 470.4,2376.6 468.5,2373.2 472.5,2371.1 475.2,2371.3Z M484.2,2336.0 484.2,2338.1 484.0,2341.5 478.9,2344.0 477.5,2341.2 475.0,2341.7 470.5,2341.1 474.7,2337.2 479.2,2336.3 482.4,2335.0Z M704.1,2448.3 705.0,2446.1 707.7,2444.7 710.3,2445.7 713.6,2445.3 717.9,2447.1 713.8,2449.5 710.2,2449.1 708.2,2451.3 704.0,2451.2Z M441.0,2268.9 444.0,2269.8 439.4,2273.2 436.5,2273.7 433.8,2276.1 430.9,2276.4 431.7,2273.9 433.1,2271.2 436.4,2269.4 437.8,2270.4Z M707.5,2462.4 708.8,2466.2 711.0,2466.7 713.6,2472.0 710.8,2474.7 708.4,2472.1 706.8,2474.3 704.5,2472.1 704.6,2467.2 705.3,2463.0Z M477.9,2381.9 475.3,2382.0 474.1,2385.8 467.0,2383.2 466.2,2379.2 465.6,2376.7 467.5,2375.1 471.9,2375.9 477.9,2376.5 483.8,2380.6Z M593.4,2404.1 590.2,2406.1 589.0,2407.4 586.7,2408.5 584.5,2407.7 581.8,2406.6 582.4,2404.1 586.4,2404.1 587.9,2403.6 592.1,2401.8Z M570.9,2390.7 568.1,2398.2 568.6,2400.7 567.4,2406.0 563.3,2408.6 559.4,2409.7 557.9,2406.3 562.0,2400.9 563.2,2397.7 567.0,2389.3Z M463.2,2108.0 461.2,2109.7 459.3,2109.6 458.3,2111.4 455.7,2111.6 456.0,2109.4 456.8,2108.1 457.6,2106.8 459.2,2106.9 461.1,2106.8Z M552.1,2391.9 547.0,2392.5 539.5,2385.3 536.2,2383.7 527.6,2378.7 528.5,2375.1 534.3,2376.3 539.1,2377.6 543.3,2381.7 546.0,2385.1Z M475.1,2369.2 473.8,2370.0 470.9,2369.1 471.0,2363.9 473.4,2363.7 473.5,2360.5 475.3,2358.4 476.8,2362.9 477.2,2366.7 476.9,2369.8Z M663.3,2473.9 660.9,2473.5 658.7,2472.3 658.5,2469.7 657.6,2467.4 657.3,2463.2 660.8,2464.7 661.7,2468.4 663.8,2469.2 665.8,2472.6Z M491.2,2130.7 492.6,2131.3 492.1,2133.5 490.7,2135.9 488.3,2139.0 486.7,2137.2 488.2,2134.1 486.8,2133.1 487.4,2129.2 490.3,2129.0Z M482.2,2289.0 483.9,2290.7 482.1,2293.6 478.1,2292.6 477.0,2291.6 472.4,2292.4 471.9,2289.8 476.3,2288.3 478.9,2287.5 481.5,2287.4Z M492.4,2378.9 490.5,2376.9 488.4,2378.1 485.8,2375.5 486.9,2372.9 488.1,2371.3 490.1,2371.5 491.5,2373.6 494.0,2375.1 495.8,2379.2Z M512.4,2053.1 513.6,2054.9 515.5,2057.7 513.2,2062.6 510.2,2061.2 508.6,2062.4 504.5,2064.7 505.3,2059.4 508.4,2056.2 510.2,2053.5Z M554.7,2442.6 554.0,2447.0 548.5,2446.4 546.1,2436.3 548.8,2433.9 547.3,2427.9 550.0,2426.4 554.6,2432.3 559.2,2439.5 559.1,2445.4Z M495.7,2344.9 494.4,2344.9 491.9,2345.0 489.2,2340.5 491.2,2339.4 490.6,2337.5 490.5,2333.9 493.8,2337.4 495.4,2341.1 496.7,2344.0Z M668.4,2475.5 666.2,2474.2 663.6,2471.9 663.5,2467.3 666.5,2466.8 667.4,2464.9 670.3,2461.2 672.0,2466.2 670.0,2470.0 669.9,2472.9Z M731.1,2449.2 734.0,2449.1 733.0,2451.9 731.2,2453.0 730.3,2454.5 728.7,2454.5 727.5,2453.4 726.2,2451.5 728.0,2449.7 729.9,2450.6Z M601.3,2390.2 599.9,2397.0 596.1,2403.2 592.7,2408.6 588.9,2410.2 585.2,2411.9 579.9,2412.4 585.2,2403.8 591.0,2401.5 594.2,2396.2Z M485.1,2349.4 488.5,2352.4 491.2,2355.1 492.5,2359.5 493.2,2363.0 494.8,2370.0 491.0,2368.1 488.7,2360.4 486.9,2358.1 483.0,2351.3Z M455.9,2380.2 460.6,2376.8 460.5,2374.8 463.4,2369.9 467.9,2371.1 467.3,2374.8 468.4,2376.7 466.5,2379.3 463.0,2381.0 457.8,2383.1Z M547.6,2408.7 544.1,2406.2 542.9,2406.1 539.4,2405.3 538.5,2402.3 540.7,2402.1 541.6,2401.3 543.6,2402.1 545.5,2404.0 548.3,2406.8Z M438.3,2272.6 440.6,2273.6 439.6,2276.6 439.1,2277.8 439.5,2281.7 436.5,2282.4 435.9,2278.7 435.3,2277.3 434.4,2275.1 436.1,2273.5Z M483.9,2059.2 483.0,2059.8 483.0,2062.0 479.4,2062.0 478.8,2060.0 478.3,2059.0 478.1,2057.7 480.3,2057.2 483.0,2056.7 485.9,2057.6Z M474.5,2340.4 474.7,2343.2 469.1,2341.6 463.2,2339.2 459.4,2335.4 463.8,2334.9 463.9,2333.3 466.5,2330.3 473.3,2334.8 472.2,2337.9Z M724.1,2433.3 725.2,2436.4 722.3,2436.9 721.0,2434.3 719.5,2433.9 717.8,2432.2 719.3,2430.5 721.2,2429.5 723.3,2429.9 723.4,2432.2Z M479.7,2260.6 484.8,2258.5 484.5,2263.7 479.6,2266.5 477.2,2268.2 474.3,2269.4 473.4,2266.8 472.5,2263.3 475.0,2258.1 478.6,2259.6Z M462.3,2290.3 463.8,2293.4 464.9,2297.7 462.3,2303.7 459.0,2302.8 456.9,2305.1 451.7,2308.2 453.1,2300.7 457.4,2296.9 459.2,2293.1Z M459.5,2292.1 457.4,2293.9 456.5,2295.5 453.9,2296.3 451.2,2296.4 447.7,2295.8 450.1,2293.4 453.7,2293.0 455.1,2291.1 459.6,2289.5Z M622.2,2455.2 626.4,2450.3 628.4,2457.2 623.8,2463.7 622.2,2466.0 619.7,2473.3 617.0,2470.6 616.6,2463.9 617.1,2456.9 620.3,2454.7Z M509.2,2409.8 507.2,2407.0 507.9,2404.3 505.8,2402.7 505.8,2399.1 509.0,2399.8 510.6,2401.3 512.2,2402.6 511.8,2404.8 511.3,2407.1Z M458.2,2362.1 454.3,2364.7 451.2,2365.5 449.3,2367.8 444.7,2369.1 445.4,2366.8 446.6,2365.3 448.2,2363.7 451.1,2363.0 454.6,2361.9Z M488.2,2256.4 486.5,2259.5 487.5,2261.3 485.0,2264.7 481.7,2265.8 478.8,2266.2 479.7,2262.9 482.5,2260.4 483.3,2257.0 487.8,2252.6Z M486.2,2327.8 483.7,2328.0 481.4,2323.6 479.2,2319.0 476.6,2310.7 480.7,2310.5 484.0,2317.5 486.6,2317.0 491.2,2322.6 489.2,2327.6Z M555.2,2420.8 557.5,2419.1 559.4,2420.9 557.2,2423.0 556.2,2423.8 555.1,2425.3 553.4,2424.5 552.0,2423.1 551.6,2420.8 554.1,2420.5Z M476.7,2056.2 477.2,2058.7 478.2,2060.8 477.9,2066.3 475.1,2067.3 474.5,2064.6 472.1,2067.4 470.9,2064.3 473.3,2059.7 475.1,2057.5Z M481.9,2143.0 479.9,2144.2 476.6,2138.6 475.9,2136.2 471.8,2131.9 471.7,2128.2 475.8,2131.7 478.1,2133.8 480.4,2136.6 480.9,2139.3Z M655.4,2460.9 656.3,2465.2 652.9,2471.5 652.5,2476.1 648.6,2486.2 645.7,2482.9 647.8,2475.3 646.2,2473.3 647.7,2466.7 651.7,2463.0Z M482.3,2097.5 478.6,2098.1 477.8,2092.7 478.0,2090.4 474.9,2085.5 477.6,2082.0 481.1,2086.4 482.8,2088.4 484.9,2091.2 483.9,2094.3Z M439.0,2298.2 440.4,2298.9 442.5,2299.7 442.4,2302.0 441.7,2304.5 439.3,2306.0 437.7,2303.1 437.5,2301.6 434.4,2299.6 435.7,2296.6Z M441.1,2229.6 440.6,2233.2 439.1,2234.5 440.1,2237.3 437.7,2239.3 435.8,2237.0 434.9,2235.3 434.8,2233.3 436.4,2232.2 437.9,2230.1Z M514.8,2349.2 518.0,2346.9 520.0,2350.9 516.0,2355.4 514.1,2355.8 511.9,2360.5 509.5,2359.3 509.9,2354.3 510.8,2349.6 513.3,2347.7Z M435.6,2320.6 434.8,2319.3 432.0,2317.1 435.3,2311.4 439.0,2309.5 442.1,2308.7 441.9,2312.8 441.0,2316.1 440.8,2322.3 436.1,2326.8Z M438.7,2271.7 442.3,2270.2 443.4,2273.9 440.1,2277.3 437.5,2279.4 435.1,2278.9 434.9,2276.1 432.7,2274.0 433.6,2268.5 437.7,2269.3Z M456.3,2159.8 456.9,2161.3 455.4,2164.1 452.9,2165.1 451.1,2166.9 447.1,2169.7 448.1,2166.3 451.4,2163.6 452.2,2161.6 454.9,2159.0Z M450.0,2168.5 451.9,2162.0 452.7,2159.7 452.2,2155.2 455.5,2151.8 457.3,2153.8 458.6,2155.5 457.6,2159.0 455.8,2161.7 453.5,2167.1Z M522.6,2439.4 520.5,2438.7 518.1,2438.8 515.1,2435.2 512.7,2431.2 512.2,2427.6 516.8,2430.9 519.0,2433.4 523.5,2434.8 526.9,2440.3Z M694.4,2459.9 692.5,2454.6 692.1,2450.2 691.3,2446.5 692.1,2443.3 693.3,2440.9 695.5,2439.7 696.1,2446.1 694.7,2449.2 695.6,2454.2Z M482.4,2311.6 479.7,2314.9 477.7,2311.1 480.2,2307.4 480.8,2305.5 482.0,2302.1 484.2,2303.5 485.7,2306.3 486.1,2310.2 483.7,2311.2Z M494.2,2345.3 494.3,2346.5 493.4,2347.8 491.9,2348.4 489.7,2349.7 487.7,2349.1 489.9,2346.9 490.9,2346.2 491.5,2344.0 493.9,2343.5Z M476.1,2085.2 477.3,2082.9 479.9,2081.9 480.7,2079.9 484.3,2077.7 484.5,2080.3 482.8,2082.2 482.9,2083.8 480.9,2085.3 478.6,2085.5Z M479.5,2153.2 476.3,2153.0 476.7,2149.8 480.1,2148.0 483.0,2146.9 484.6,2148.7 483.7,2151.0 485.3,2153.5 483.0,2157.6 479.7,2155.4Z M489.9,2319.7 490.1,2320.5 491.2,2322.4 488.1,2324.5 486.7,2323.0 485.6,2323.0 483.8,2322.5 485.5,2320.4 487.7,2318.6 490.2,2317.8Z M659.8,2441.7 657.4,2444.6 655.2,2436.3 656.1,2432.5 653.9,2427.0 654.5,2421.7 657.6,2425.7 659.9,2429.8 661.1,2434.7 659.9,2437.0Z M483.6,2147.9 482.2,2148.6 479.6,2150.6 473.7,2146.7 475.5,2144.2 474.1,2142.3 472.4,2138.5 477.9,2140.5 482.2,2143.7 485.4,2146.8Z M493.4,2426.2 493.1,2423.6 490.2,2422.8 488.9,2419.0 493.0,2418.8 494.9,2420.3 497.4,2420.0 498.7,2422.2 497.9,2424.8 496.3,2427.5Z M524.6,2412.5 523.3,2411.2 525.8,2407.3 526.7,2406.0 528.1,2401.7 530.3,2401.0 529.6,2404.7 529.4,2406.7 528.4,2409.2 526.8,2410.5Z M610.5,2456.7 610.4,2459.1 608.1,2462.8 603.9,2464.5 601.7,2465.5 595.3,2469.6 595.6,2466.2 601.9,2461.9 604.0,2459.8 608.4,2455.9Z M472.1,2366.6 469.7,2367.9 466.6,2367.8 462.8,2369.3 457.4,2367.8 461.1,2365.2 463.5,2364.6 463.9,2361.9 468.6,2362.1 470.8,2364.5Z M474.9,2065.9 474.0,2064.4 476.1,2061.6 478.9,2059.1 483.6,2055.1 485.8,2056.8 481.5,2061.5 481.6,2063.0 479.6,2067.8 475.4,2068.5Z M500.3,2363.8 495.7,2369.6 493.1,2372.6 489.8,2376.0 486.1,2377.1 481.6,2378.4 480.1,2375.8 487.0,2371.2 490.0,2370.1 495.6,2364.2Z M493.3,2061.6 495.8,2065.5 489.8,2065.3 486.8,2061.8 483.8,2061.1 479.7,2058.5 482.7,2056.8 486.8,2056.4 491.1,2057.4 491.7,2059.9Z M530.4,2410.7 532.8,2413.2 530.2,2416.5 526.2,2414.9 524.3,2415.6 518.9,2416.6 519.6,2412.6 523.7,2410.9 525.7,2409.2 528.6,2408.9Z M420.2,2271.2 418.2,2269.2 421.8,2267.0 423.7,2266.7 425.7,2264.7 427.7,2265.4 427.9,2267.6 427.4,2270.1 424.7,2270.7 423.3,2269.8Z M463.0,2361.3 459.7,2367.2 458.0,2360.6 460.4,2353.5 461.9,2349.0 464.0,2347.2 465.5,2350.1 468.3,2352.7 468.3,2361.6 464.4,2361.9Z M519.5,2379.5 519.0,2383.3 521.0,2385.9 517.6,2394.3 513.6,2393.3 513.0,2391.1 508.2,2394.4 509.0,2388.5 513.7,2382.7 517.4,2378.6Z M510.4,2402.0 509.3,2404.9 507.3,2406.4 505.1,2407.0 503.7,2405.1 502.3,2403.9 500.0,2400.9 503.0,2399.2 505.5,2401.6 507.3,2401.0Z M473.7,2315.1 475.2,2314.3 478.3,2315.0 478.5,2319.9 476.0,2320.4 476.3,2323.6 474.4,2326.1 472.5,2321.7 471.9,2318.1 471.9,2315.1Z M490.6,2359.7 487.9,2362.0 487.4,2357.8 490.7,2354.1 491.9,2353.1 494.1,2348.4 495.5,2350.2 494.7,2354.7 493.6,2358.7 491.7,2360.2Z M491.4,2409.1 492.8,2410.9 488.4,2411.4 486.5,2410.7 483.7,2411.4 481.7,2410.5 483.2,2409.0 485.1,2407.8 487.9,2407.8 488.5,2408.9Z M554.5,2419.0 555.7,2419.7 555.9,2422.3 552.1,2422.9 550.2,2421.9 548.6,2421.1 549.6,2419.4 550.8,2418.0 553.5,2415.4 556.4,2416.3Z M494.9,2372.5 495.2,2374.1 493.9,2375.5 492.5,2377.7 489.5,2378.2 490.0,2375.1 490.7,2373.9 489.3,2371.5 491.7,2369.8 493.7,2371.5Z M469.5,2072.7 472.4,2073.4 467.6,2077.5 464.6,2078.2 461.7,2081.4 457.7,2083.0 459.4,2079.4 461.7,2076.6 464.5,2074.1 466.5,2074.1Z M669.9,2460.5 673.1,2461.3 671.1,2465.3 668.4,2466.0 667.6,2469.5 664.1,2471.6 663.8,2467.6 664.8,2464.8 665.4,2462.3 667.5,2461.3Z M445.9,2295.1 446.8,2296.9 441.4,2297.3 438.9,2297.0 435.6,2297.3 434.4,2296.3 434.9,2295.0 437.3,2293.4 441.0,2294.0 441.4,2295.1Z M700.4,2477.7 699.1,2480.7 696.7,2481.9 696.0,2483.7 693.8,2484.8 692.5,2483.6 691.7,2481.9 693.2,2480.0 695.3,2480.0 697.0,2478.4Z M482.1,2042.0 483.1,2042.1 485.7,2041.2 487.2,2045.7 485.2,2047.2 484.5,2048.7 483.1,2049.3 481.4,2046.9 479.4,2043.8 479.3,2040.1Z M447.7,2287.3 447.4,2289.2 445.1,2290.5 442.8,2290.1 439.8,2291.2 436.1,2290.1 439.7,2287.6 442.4,2287.4 443.9,2285.2 447.3,2285.0Z M486.5,2233.2 487.8,2233.5 489.0,2235.4 487.0,2236.8 485.2,2237.0 483.6,2236.5 483.8,2234.7 483.5,2233.4 483.7,2230.5 486.2,2230.6Z M539.8,2382.1 543.4,2382.0 544.0,2387.4 538.5,2391.0 536.4,2391.2 531.9,2397.6 528.9,2395.2 532.4,2388.4 534.5,2384.5 537.4,2381.3Z M487.9,2245.9 487.7,2247.4 486.2,2248.6 483.8,2250.3 481.5,2249.1 483.1,2246.9 482.3,2245.9 482.2,2243.2 485.5,2243.3 486.6,2245.1Z M495.8,2048.9 497.9,2049.0 502.0,2047.4 504.5,2052.4 500.4,2054.6 499.6,2056.2 497.9,2059.9 494.5,2057.1 493.1,2053.1 492.8,2049.3Z M466.9,2078.5 467.7,2079.5 468.2,2080.9 467.7,2082.7 466.2,2082.4 465.5,2082.3 463.5,2083.1 463.2,2081.1 465.1,2080.1 465.7,2079.5Z M600.9,2401.4 598.8,2403.7 595.8,2404.9 593.2,2405.9 591.5,2405.1 589.8,2404.4 587.7,2402.6 591.6,2400.9 594.3,2402.2 596.7,2401.3Z M479.3,2340.0 479.8,2345.5 475.3,2342.3 474.2,2336.6 473.4,2333.7 472.9,2330.3 475.5,2331.0 478.7,2332.3 482.5,2337.3 480.4,2339.5Z M519.7,2370.8 522.7,2366.0 524.6,2373.8 522.2,2378.9 522.6,2383.1 521.6,2389.3 518.8,2386.1 516.9,2381.2 516.3,2375.2 518.6,2373.6Z M663.1,2454.7 666.8,2455.2 664.9,2459.5 661.7,2460.3 661.0,2463.6 657.4,2465.9 656.7,2461.9 657.5,2459.0 658.4,2456.3 660.7,2455.7Z M468.2,2154.9 469.1,2156.4 467.0,2157.4 465.9,2157.3 464.4,2159.1 462.5,2158.5 463.7,2156.6 464.4,2155.6 465.3,2154.5 466.6,2154.6Z M629.9,2462.0 630.2,2463.7 630.8,2466.2 627.8,2470.2 625.9,2468.8 624.7,2469.3 621.0,2470.9 622.8,2466.6 626.1,2464.2 628.2,2462.2Z M428.5,2238.7 431.3,2239.1 428.5,2243.8 425.2,2247.9 421.5,2250.0 421.6,2246.9 419.7,2246.7 418.1,2243.5 423.4,2239.1 425.5,2240.9Z M482.5,2268.2 478.9,2264.1 477.6,2264.0 473.9,2262.0 473.5,2258.4 475.5,2257.9 477.0,2257.5 479.2,2259.8 480.9,2262.1 484.1,2266.4Z M488.6,2166.2 485.4,2164.9 488.9,2156.2 490.5,2153.1 491.8,2146.3 494.9,2144.7 496.1,2148.4 496.6,2153.1 493.9,2157.8 491.9,2159.2Z M608.6,2442.5 608.2,2443.8 606.3,2444.4 604.1,2445.6 600.8,2445.4 602.3,2443.2 604.0,2442.5 603.6,2440.5 606.6,2439.6 608.0,2441.4Z M462.1,2328.1 459.9,2331.0 450.3,2328.5 446.7,2327.7 439.2,2327.0 437.8,2324.2 440.9,2322.3 446.0,2321.4 451.2,2323.8 453.5,2325.4Z M512.1,2437.6 510.8,2432.3 509.8,2429.9 509.2,2426.4 510.7,2423.7 512.7,2420.5 515.4,2421.6 514.4,2427.3 514.1,2429.5 515.1,2435.8Z M679.4,2444.5 675.4,2445.1 672.3,2444.3 668.5,2445.7 663.0,2443.6 666.8,2441.5 669.2,2441.0 670.4,2439.0 674.7,2439.9 677.6,2442.0Z M468.4,2364.7 469.4,2366.4 467.9,2368.3 466.7,2370.3 463.6,2373.1 461.9,2370.4 464.1,2367.5 463.0,2365.9 463.9,2362.3 467.1,2362.9Z M648.4,2469.9 651.3,2471.1 650.5,2474.9 644.3,2474.8 642.3,2472.9 639.3,2472.1 640.2,2470.0 642.9,2467.8 647.8,2465.1 651.3,2467.0Z M700.5,2439.2 699.0,2443.3 697.7,2444.7 698.3,2448.0 695.4,2449.4 693.5,2447.2 692.3,2445.3 693.2,2443.0 695.0,2442.1 696.9,2439.1Z M587.2,2455.9 583.8,2454.8 583.4,2449.7 581.9,2447.8 579.1,2442.1 582.7,2440.8 585.5,2444.9 587.7,2445.9 589.4,2449.0 588.6,2452.2Z M508.0,2075.6 508.2,2078.5 505.1,2079.5 503.1,2077.4 500.5,2078.1 496.6,2076.2 499.7,2073.5 502.8,2073.8 504.6,2072.3 507.3,2073.1Z M461.2,2329.9 463.0,2330.7 460.2,2332.9 457.0,2334.7 454.0,2335.2 455.0,2333.2 454.5,2332.4 453.9,2330.2 458.4,2328.4 459.4,2330.2Z M506.0,2386.4 508.5,2386.8 506.8,2389.9 501.9,2392.5 496.9,2394.6 495.6,2392.8 499.6,2389.4 499.2,2387.5 503.5,2382.3 507.6,2383.1Z M443.0,2277.9 443.5,2275.3 446.8,2273.5 449.1,2272.2 451.3,2272.5 452.3,2273.6 454.8,2275.0 452.4,2277.8 448.9,2276.8 447.4,2276.9Z M486.4,2252.8 486.7,2256.8 482.1,2259.1 481.4,2261.5 477.5,2266.3 474.8,2263.2 476.7,2259.1 476.6,2256.6 478.9,2254.0 482.1,2253.3Z M511.7,2414.6 510.9,2414.2 510.6,2412.5 513.0,2411.6 514.7,2411.7 515.9,2412.3 514.8,2413.7 514.3,2414.8 513.0,2417.1 510.7,2416.8Z M458.2,2264.4 457.1,2264.3 456.0,2264.2 455.6,2263.2 455.1,2262.1 455.2,2260.4 456.9,2261.0 457.4,2262.3 458.8,2262.2 459.8,2263.8Z M718.2,2454.0 714.4,2451.6 721.2,2447.0 725.6,2445.5 729.9,2443.3 732.0,2445.0 733.4,2447.4 732.4,2452.2 725.8,2453.7 724.2,2451.2Z M442.2,2258.5 443.5,2258.8 445.5,2261.2 441.6,2264.7 439.1,2263.9 437.0,2264.4 436.1,2262.9 437.3,2260.0 439.2,2256.0 442.8,2254.6Z M681.0,2445.4 682.4,2443.6 683.6,2446.3 683.7,2449.9 683.2,2453.5 681.5,2452.5 680.7,2450.4 678.6,2450.5 677.5,2445.9 679.9,2445.0Z M474.6,2090.8 470.9,2087.0 469.4,2086.0 465.3,2084.1 464.1,2079.8 467.4,2080.9 468.5,2080.4 470.8,2081.2 472.9,2084.4 475.1,2088.3Z M691.8,2474.4 691.5,2478.1 682.5,2473.0 679.6,2470.0 672.7,2467.4 670.1,2463.6 675.1,2463.7 680.1,2464.5 685.2,2467.8 686.0,2470.2Z M515.3,2375.3 514.8,2381.0 515.3,2382.5 516.7,2386.9 514.2,2390.3 512.4,2387.8 511.0,2387.1 510.5,2384.4 511.5,2381.1 512.7,2376.2Z M616.0,2443.0 618.8,2443.4 619.7,2446.7 615.9,2447.2 614.0,2446.2 611.8,2446.4 611.1,2444.4 611.7,2442.1 613.4,2439.3 616.1,2440.5Z M482.2,2277.5 483.3,2283.5 484.7,2285.0 486.0,2289.0 484.3,2292.4 482.1,2294.8 479.8,2293.0 480.4,2287.8 479.9,2285.2 479.0,2278.1Z M475.8,2257.1 474.6,2252.8 475.8,2248.1 476.8,2244.2 479.3,2242.7 481.6,2241.5 485.7,2240.3 484.5,2246.4 480.5,2248.7 479.5,2252.2Z M483.6,2364.3 485.2,2367.5 485.3,2369.1 487.5,2370.6 487.1,2373.4 484.9,2373.0 483.4,2372.5 482.4,2371.0 482.5,2369.2 482.0,2366.5Z M538.9,2393.8 537.5,2395.6 535.5,2396.1 533.3,2398.5 529.6,2398.0 531.4,2394.8 532.8,2393.7 532.5,2391.0 535.6,2390.2 537.6,2392.0Z M489.1,2240.2 486.3,2243.6 485.3,2237.8 487.6,2234.1 487.6,2231.0 489.0,2226.8 491.0,2229.2 492.3,2232.8 492.3,2237.3 490.1,2238.2Z M578.4,2425.9 577.0,2424.1 576.5,2420.8 577.9,2417.8 578.5,2414.0 581.0,2409.2 582.0,2414.3 580.6,2418.7 581.7,2421.5 580.7,2426.7Z M716.1,2453.5 716.9,2451.5 719.1,2449.4 722.4,2447.6 723.8,2448.9 724.9,2449.3 728.5,2449.8 725.2,2452.6 721.5,2452.3 719.6,2452.9Z M510.4,2077.3 510.2,2078.9 508.0,2080.2 505.5,2082.4 501.4,2082.9 503.1,2079.8 504.4,2078.6 503.4,2076.3 507.2,2074.6 509.2,2076.2Z M503.4,2315.7 500.4,2315.8 500.1,2318.4 495.9,2319.2 494.9,2316.0 495.6,2314.3 495.6,2312.4 498.2,2312.0 501.3,2311.9 505.3,2313.2Z M458.1,2319.7 460.4,2318.3 462.2,2321.4 459.1,2326.0 457.2,2325.8 455.4,2330.2 453.1,2330.0 453.9,2324.9 454.9,2320.7 456.9,2318.3Z M480.2,2112.8 479.2,2116.7 471.1,2119.7 467.8,2121.8 458.3,2127.7 455.5,2124.6 463.2,2119.2 464.9,2116.5 469.8,2112.5 475.4,2112.1Z M678.2,2451.6 673.7,2443.2 672.2,2440.1 667.1,2435.9 666.5,2428.4 670.7,2430.1 673.2,2430.8 676.1,2434.2 677.4,2439.4 679.9,2446.8Z M672.0,2440.3 673.2,2442.7 669.1,2446.6 666.6,2448.2 662.4,2453.8 658.2,2454.0 662.3,2447.9 663.8,2445.5 665.4,2441.4 669.3,2439.6Z M473.6,2379.6 473.8,2381.0 476.1,2381.8 475.9,2384.1 473.6,2384.5 471.8,2384.5 470.7,2383.2 471.0,2381.7 470.1,2379.6 471.6,2377.3Z M598.4,2452.6 597.9,2455.1 598.5,2456.4 597.3,2458.7 595.6,2460.3 593.3,2461.7 593.4,2459.0 595.3,2456.6 595.1,2454.5 597.1,2450.7Z M462.7,2342.9 460.4,2342.3 462.3,2337.3 463.3,2335.6 463.7,2331.6 465.7,2330.5 466.6,2333.0 467.1,2335.6 465.8,2338.3 464.5,2339.2Z M488.8,2066.1 487.2,2070.1 488.3,2070.9 487.8,2074.9 485.2,2076.2 484.2,2074.9 483.2,2074.3 484.0,2071.7 485.0,2069.0 487.3,2064.8Z M633.1,2448.4 633.5,2449.6 631.7,2451.5 626.8,2452.2 621.7,2452.5 619.9,2450.8 625.4,2449.0 626.8,2447.8 631.5,2444.7 636.3,2445.7Z M462.0,2106.9 464.0,2109.9 464.6,2113.8 463.2,2118.0 460.0,2117.9 458.0,2119.1 453.2,2121.1 453.5,2115.3 457.9,2112.9 458.9,2110.2Z M443.7,2252.8 446.2,2255.5 444.2,2259.0 440.0,2257.0 438.4,2257.0 433.3,2257.7 433.2,2253.8 437.3,2252.2 439.4,2250.7 442.1,2250.8Z M449.1,2289.0 450.2,2288.4 450.9,2290.3 451.0,2292.8 450.6,2296.0 449.0,2295.4 448.6,2292.7 447.1,2292.7 446.1,2289.5 447.9,2288.2Z M502.0,2413.0 499.3,2413.2 499.1,2416.2 492.7,2415.3 491.3,2412.3 490.6,2410.5 491.7,2409.0 495.6,2409.2 500.5,2409.0 506.3,2411.2Z M460.0,2351.0 462.1,2357.7 461.2,2364.6 461.6,2369.4 459.9,2374.1 457.5,2375.9 454.1,2377.0 454.0,2369.2 457.1,2365.0 457.2,2359.5Z M480.5,2127.6 479.4,2122.6 476.8,2121.7 476.3,2115.7 478.4,2111.4 481.0,2108.1 483.1,2112.5 482.5,2117.8 484.8,2122.1 484.4,2130.9Z M649.3,2430.5 648.3,2434.8 647.3,2438.4 644.3,2441.7 642.2,2443.0 637.8,2447.5 636.3,2445.4 641.4,2439.2 643.2,2437.2 646.4,2431.2Z M516.6,2416.2 519.1,2415.8 520.0,2418.9 520.3,2422.7 518.4,2426.4 515.6,2423.7 514.7,2422.0 510.6,2421.6 510.7,2416.7 514.7,2416.5Z M487.2,2236.7 490.5,2239.2 485.3,2243.4 481.7,2243.4 478.5,2247.9 473.0,2248.7 475.4,2243.3 477.9,2240.3 480.3,2237.2 483.6,2236.9Z M611.6,2446.0 609.1,2449.9 606.0,2450.5 605.3,2453.6 601.7,2454.8 600.5,2451.6 600.3,2448.9 602.0,2446.7 604.5,2446.8 607.2,2445.3Z M660.5,2429.0 662.7,2429.6 661.4,2433.5 657.4,2435.0 655.9,2435.9 651.4,2440.1 650.8,2437.3 654.5,2433.1 656.3,2430.7 658.8,2428.5Z M590.4,2405.0 592.4,2405.0 591.6,2407.3 589.1,2409.3 586.3,2411.0 585.5,2409.4 587.0,2407.3 585.8,2405.9 588.0,2402.3 590.4,2403.3Z M506.9,2089.4 504.2,2087.7 502.3,2084.2 500.5,2083.2 497.4,2079.3 499.1,2078.8 501.3,2080.4 503.0,2081.2 504.5,2083.5 505.7,2085.9Z M585.2,2422.9 585.5,2424.3 587.0,2426.2 584.8,2429.6 582.6,2428.1 581.7,2427.9 578.8,2428.7 579.6,2425.6 582.1,2423.5 584.1,2422.0Z M468.9,2346.3 471.3,2348.6 464.5,2353.7 459.8,2354.4 454.3,2359.4 446.4,2362.0 451.8,2355.3 457.0,2351.7 460.4,2347.7 465.4,2345.9Z M631.7,2439.5 634.6,2438.6 634.6,2441.9 631.7,2443.2 630.9,2444.4 628.9,2446.8 627.6,2444.8 627.8,2442.3 628.6,2439.9 630.4,2439.8Z M615.2,2465.9 611.3,2466.2 612.5,2461.5 614.9,2459.9 614.8,2456.5 617.6,2454.5 619.5,2457.4 620.4,2460.1 619.5,2462.9 617.2,2463.4Z M698.0,2483.0 697.2,2483.6 696.1,2482.9 695.7,2481.4 695.6,2479.5 696.8,2479.0 697.8,2480.7 698.8,2480.7 700.6,2482.0 699.5,2483.6Z M483.0,2131.6 481.6,2129.6 480.4,2126.7 481.3,2122.3 483.1,2122.2 484.0,2118.7 486.7,2116.4 486.4,2122.5 484.7,2125.6 484.6,2129.2Z M641.0,2440.7 642.0,2442.0 642.6,2443.7 641.0,2445.0 639.7,2444.4 638.2,2445.9 635.9,2445.5 637.3,2443.1 638.7,2442.4 639.4,2440.8Z M485.5,2332.1 487.3,2335.8 488.4,2336.6 490.1,2338.8 489.3,2341.1 488.0,2342.8 486.0,2342.4 485.6,2339.0 485.1,2337.5 483.3,2333.4Z M584.8,2425.2 584.0,2427.0 582.6,2428.5 580.6,2428.2 578.1,2428.5 575.2,2426.9 577.9,2424.6 580.4,2424.8 581.6,2422.4 584.9,2422.3Z M488.7,2330.7 487.0,2328.5 486.3,2324.8 487.8,2321.3 488.4,2317.2 490.9,2311.3 492.4,2316.7 490.9,2322.2 492.1,2325.2 491.3,2331.3Z M455.4,2110.4 456.0,2113.2 455.3,2116.1 453.2,2118.4 450.9,2117.2 449.1,2117.3 445.0,2116.8 446.8,2113.0 450.6,2113.1 452.1,2111.5Z M482.1,2075.7 485.4,2073.9 484.1,2077.7 481.0,2080.5 478.8,2082.5 477.6,2082.2 477.7,2080.4 476.8,2078.5 479.5,2074.1 481.5,2075.3Z M665.1,2473.6 669.5,2470.3 671.5,2469.2 673.4,2466.2 676.8,2467.0 678.4,2469.6 678.8,2472.7 675.1,2473.9 672.8,2473.5 668.6,2476.1Z M474.3,2282.8 473.9,2289.1 473.5,2292.0 473.7,2295.7 471.2,2298.3 468.5,2299.6 465.9,2298.3 468.1,2293.1 469.7,2291.1 470.6,2284.9Z M620.3,2450.2 617.3,2448.0 616.2,2444.0 614.4,2442.7 612.4,2438.9 614.2,2438.1 616.2,2438.8 618.1,2440.6 618.5,2443.2 619.5,2445.7Z M446.1,2320.0 447.8,2321.3 448.8,2324.8 450.2,2330.4 448.1,2334.7 445.9,2330.2 444.5,2331.2 441.2,2330.4 442.2,2323.9 444.6,2322.3Z M452.2,2278.7 452.0,2280.6 448.7,2283.0 443.6,2286.0 439.5,2285.3 442.5,2282.2 439.8,2281.5 440.2,2278.1 447.0,2277.0 448.9,2278.6Z M487.5,2134.9 488.1,2136.3 486.7,2137.6 485.0,2138.6 483.6,2137.8 483.8,2136.5 482.4,2135.6 482.5,2133.4 485.0,2133.8 485.8,2135.0Z M678.0,2446.0 680.9,2446.8 679.4,2451.0 676.7,2455.2 672.5,2457.6 672.0,2453.3 671.2,2451.9 667.8,2448.8 672.2,2444.0 675.8,2446.2Z M460.6,2255.5 453.9,2258.0 453.5,2260.5 447.0,2263.0 441.8,2261.9 438.0,2260.2 441.4,2257.2 448.0,2256.3 452.2,2253.6 462.6,2251.2Z M578.3,2416.2 582.7,2414.5 583.2,2411.1 592.7,2408.9 594.7,2413.0 592.9,2415.0 597.8,2417.2 592.4,2419.8 584.5,2419.6 577.9,2418.9Z M503.6,2377.4 506.0,2380.3 507.6,2384.5 505.3,2388.7 503.8,2391.2 501.2,2398.5 497.7,2395.5 500.0,2387.8 500.0,2384.8 500.1,2378.3Z M452.4,2272.5 452.5,2274.2 449.9,2275.2 447.0,2272.4 447.5,2271.0 444.1,2269.1 444.3,2267.0 448.5,2268.5 451.0,2269.8 453.0,2271.3Z M426.4,2286.6 425.2,2284.4 428.1,2280.2 430.6,2277.8 434.6,2271.6 438.9,2271.0 434.9,2278.1 433.7,2280.6 432.9,2285.5 428.5,2288.3Z M648.1,2469.4 650.4,2469.6 648.7,2471.8 646.7,2472.6 645.2,2473.5 644.3,2472.9 643.9,2471.9 643.5,2470.1 645.7,2468.7 646.8,2470.0Z M490.6,2127.1 488.5,2124.4 487.7,2121.4 484.8,2117.8 485.2,2112.0 489.0,2115.3 490.3,2117.1 493.3,2117.0 494.2,2121.9 492.5,2125.0Z M528.7,2387.1 523.7,2384.4 530.8,2382.5 535.9,2384.3 539.9,2384.1 544.0,2385.3 541.8,2387.7 538.3,2390.1 532.1,2390.6 531.4,2387.9Z M494.7,2299.0 495.6,2299.9 495.0,2302.3 492.7,2303.6 491.7,2304.0 488.9,2306.9 488.1,2305.3 490.8,2302.3 491.8,2300.9 493.4,2298.8Z M723.1,2447.4 725.4,2446.7 725.6,2449.7 722.9,2453.5 719.9,2456.7 718.0,2455.9 719.4,2451.9 718.2,2450.4 719.3,2444.9 722.9,2444.1Z M659.3,2444.5 657.5,2447.5 655.8,2448.5 654.7,2450.3 652.7,2450.2 651.0,2449.1 649.6,2447.1 652.1,2445.5 654.1,2446.1 656.1,2444.1Z M489.6,2132.2 491.9,2131.9 491.8,2134.0 489.6,2134.5 488.8,2135.0 487.3,2135.8 486.7,2134.5 486.5,2133.0 487.4,2131.4 488.9,2132.0Z M432.9,2246.7 430.9,2241.6 428.2,2242.4 424.7,2235.3 427.4,2232.1 429.7,2233.1 431.3,2231.0 433.6,2235.0 435.2,2240.7 436.1,2247.8Z M497.5,2096.1 496.6,2101.3 498.2,2101.9 498.6,2107.2 495.7,2109.3 494.3,2107.6 492.8,2107.5 492.8,2104.2 493.6,2100.4 495.4,2094.9Z M472.7,2347.3 475.5,2350.0 476.0,2356.0 476.1,2361.1 474.1,2363.6 472.3,2364.4 469.0,2367.9 467.1,2361.9 470.5,2356.9 471.2,2354.4Z M469.0,2056.3 470.5,2057.4 471.2,2061.1 472.5,2064.2 473.5,2070.6 471.0,2069.2 469.8,2064.6 468.2,2064.8 466.4,2060.3 467.7,2057.3Z M455.7,2303.1 455.5,2305.5 455.5,2309.6 450.5,2311.0 449.2,2306.8 447.4,2306.1 443.1,2303.7 446.9,2300.6 451.3,2301.0 454.5,2301.0Z M449.3,2270.5 449.1,2269.6 447.5,2267.4 451.3,2264.5 453.9,2264.9 455.9,2265.1 455.5,2267.2 454.0,2269.3 452.0,2273.0 448.0,2274.5Z M512.9,2054.7 515.6,2053.1 514.7,2056.9 512.0,2058.8 510.9,2060.3 508.7,2062.8 508.3,2060.8 508.8,2058.1 510.3,2055.0 511.9,2055.0Z M485.5,2273.7 486.0,2275.6 485.1,2277.8 483.1,2278.6 481.1,2280.5 477.5,2281.3 478.9,2277.7 481.3,2276.2 481.3,2273.7 484.1,2271.6Z M460.0,2347.1 462.3,2346.6 462.9,2349.0 459.9,2350.5 458.3,2350.5 456.6,2351.1 456.3,2349.6 456.5,2347.7 457.9,2344.8 460.1,2345.1Z M440.1,2312.5 434.5,2310.1 432.8,2310.0 428.0,2310.0 425.4,2306.3 428.5,2305.4 429.7,2304.2 432.6,2304.6 435.6,2306.7 440.1,2309.6Z M430.9,2261.6 430.9,2264.0 427.4,2266.9 424.3,2270.9 417.5,2274.6 418.7,2269.8 421.9,2266.6 419.9,2264.2 424.8,2259.6 428.9,2260.4Z M524.2,2404.9 522.8,2409.0 521.9,2411.8 519.8,2414.5 517.8,2415.7 514.3,2418.6 513.0,2416.9 517.3,2412.1 518.8,2410.6 521.5,2405.6Z M500.2,2314.8 497.5,2324.8 495.0,2329.7 494.9,2335.4 490.7,2341.4 488.0,2340.3 486.1,2338.0 488.6,2331.5 491.6,2327.9 494.6,2319.8Z M645.0,2428.6 643.4,2433.6 642.0,2437.7 638.0,2440.8 634.7,2442.6 628.2,2446.9 627.7,2442.5 634.8,2436.8 636.6,2434.2 641.7,2427.4Z M480.7,2266.3 486.4,2263.3 482.5,2274.3 477.6,2278.6 475.5,2285.2 470.8,2290.6 470.1,2285.0 470.7,2278.5 474.0,2271.4 477.2,2271.1Z M587.0,2453.3 594.8,2445.8 600.5,2442.6 603.6,2437.5 611.1,2433.9 612.5,2436.7 612.5,2439.9 607.2,2444.4 602.2,2446.1 595.2,2451.3Z M585.4,2417.4 585.4,2419.1 583.2,2421.2 580.8,2424.3 576.1,2426.4 577.3,2422.7 578.9,2420.9 577.2,2418.9 581.1,2415.7 583.8,2416.6Z M453.7,2357.4 457.6,2358.5 454.9,2361.6 451.4,2361.7 449.1,2362.4 447.2,2361.6 447.0,2359.5 446.9,2356.5 450.4,2354.7 452.1,2357.4Z M455.9,2279.8 454.4,2282.1 452.5,2284.2 449.4,2285.3 447.9,2285.0 443.8,2286.5 442.6,2284.8 447.9,2282.4 450.0,2281.9 453.5,2279.4Z M471.2,2234.4 473.2,2237.9 473.7,2243.6 473.0,2249.9 470.3,2251.3 468.7,2252.7 464.8,2257.3 464.2,2249.6 468.0,2244.4 468.8,2240.8Z M589.0,2429.1 590.1,2429.6 589.9,2431.6 586.8,2433.3 583.9,2434.3 582.4,2433.5 584.7,2431.1 585.0,2429.7 587.0,2426.3 590.2,2426.2Z M488.2,2166.2 488.7,2170.7 489.0,2172.4 489.8,2175.1 488.5,2177.4 486.8,2178.4 485.1,2177.6 485.7,2174.0 486.2,2172.2 486.0,2167.7Z M439.0,2276.1 441.0,2278.8 437.4,2286.3 436.0,2289.8 433.8,2294.7 431.5,2295.0 429.4,2294.0 429.5,2288.9 433.4,2284.9 435.0,2283.6Z M691.0,2439.7 693.4,2442.4 691.4,2446.3 686.9,2443.8 685.8,2442.2 681.0,2442.2 680.6,2438.6 684.9,2437.2 688.0,2436.4 690.6,2437.5Z M464.9,2090.4 466.7,2092.9 469.3,2093.3 472.2,2097.7 468.8,2100.0 466.2,2098.1 464.4,2100.7 461.3,2099.0 461.7,2094.6 462.7,2091.4Z M510.6,2059.5 508.7,2062.8 509.2,2063.8 508.8,2066.8 506.3,2067.4 505.0,2066.4 504.2,2065.1 505.6,2063.1 506.6,2061.5 508.8,2058.2Z M468.9,2072.9 468.0,2077.6 466.9,2079.8 467.2,2082.6 465.2,2085.4 463.7,2084.6 462.6,2083.3 463.4,2080.4 464.9,2078.7 466.2,2075.0Z M487.3,2390.1 487.5,2392.7 482.1,2389.7 479.9,2387.6 476.6,2385.9 475.9,2384.0 477.5,2383.2 480.6,2383.2 483.9,2386.0 483.5,2387.4Z M475.3,2053.7 476.3,2055.0 474.7,2056.4 473.4,2057.2 472.0,2057.3 471.5,2056.3 470.1,2055.5 470.1,2053.4 472.5,2053.6 473.3,2054.4Z M449.9,2257.1 448.4,2257.4 446.0,2255.6 447.8,2250.4 450.0,2251.0 451.1,2247.9 453.4,2246.3 453.4,2251.3 452.6,2255.2 451.3,2258.2Z M582.9,2409.6 584.0,2412.8 577.5,2412.3 574.7,2409.7 569.9,2409.9 564.6,2407.3 569.7,2405.7 574.2,2405.9 578.1,2405.8 580.6,2407.6Z M476.0,2148.2 478.7,2147.5 478.6,2150.5 476.3,2151.6 476.2,2153.3 474.4,2155.3 473.1,2153.5 472.7,2151.4 473.1,2149.5 474.8,2149.2Z M454.7,2383.2 451.9,2385.0 449.5,2380.4 452.7,2374.8 454.6,2374.0 456.0,2366.7 459.2,2367.4 458.7,2374.8 458.2,2379.5 456.8,2383.3Z M545.5,2438.3 549.1,2439.2 544.7,2442.3 540.5,2443.5 537.0,2444.3 536.6,2442.6 536.3,2441.2 536.4,2438.0 541.9,2436.1 542.8,2438.8Z M472.0,2132.8 469.9,2134.5 466.2,2133.2 463.4,2133.7 457.3,2132.5 459.1,2129.3 464.0,2129.6 465.0,2127.7 469.2,2127.3 471.3,2130.1Z M470.1,2117.4 470.3,2119.1 469.0,2121.9 466.3,2124.3 462.7,2128.2 459.1,2129.1 462.7,2123.7 464.5,2121.7 465.5,2117.5 469.8,2114.4Z M460.7,2310.0 454.5,2313.3 454.4,2315.4 450.5,2320.0 445.8,2318.6 446.1,2315.4 445.6,2313.1 448.8,2310.9 452.6,2309.2 459.2,2306.8Z M505.8,2429.3 509.2,2426.2 510.1,2424.4 512.8,2422.4 515.8,2422.1 519.5,2421.9 518.7,2424.7 513.9,2426.4 512.3,2427.9 507.3,2431.5Z M704.0,2481.3 699.8,2477.6 697.6,2473.9 695.8,2470.3 696.9,2467.4 697.7,2463.6 701.1,2460.9 703.5,2467.5 702.0,2471.2 704.9,2475.6Z M590.9,2410.4 592.4,2414.2 590.1,2419.2 590.5,2421.6 589.5,2426.6 587.0,2426.3 585.6,2424.0 585.1,2420.8 587.0,2418.0 588.1,2415.4Z M590.5,2451.1 592.5,2452.2 590.9,2454.6 590.5,2455.4 590.4,2457.9 588.3,2458.0 587.5,2456.1 586.9,2454.7 587.7,2453.3 588.9,2452.7Z M487.9,2260.4 490.1,2262.1 487.2,2264.3 483.6,2262.8 482.3,2262.4 477.6,2262.5 478.4,2260.3 482.3,2259.3 485.2,2258.5 487.3,2259.2Z M501.2,2361.2 503.6,2361.2 506.1,2364.0 503.1,2366.0 500.5,2365.9 498.2,2365.7 497.5,2363.5 496.7,2361.4 496.6,2357.6 500.2,2357.8Z M471.3,2127.2 469.1,2126.6 468.1,2125.3 465.0,2125.0 464.3,2121.9 467.9,2121.8 469.3,2122.2 471.7,2120.9 473.2,2122.9 472.5,2125.2Z M474.6,2285.5 473.7,2287.6 472.0,2288.2 470.8,2289.1 469.5,2288.7 468.5,2287.8 467.2,2286.1 469.1,2284.8 470.8,2286.0 472.1,2285.2Z M533.0,2374.7 535.1,2376.7 539.0,2377.3 540.8,2385.2 536.4,2386.1 535.0,2386.6 532.6,2391.8 529.7,2386.4 530.0,2380.0 530.6,2375.0Z M494.8,2312.5 495.5,2314.6 492.9,2315.9 489.5,2316.5 484.9,2316.0 486.1,2312.8 489.5,2311.9 489.2,2308.9 493.7,2306.8 495.5,2310.3Z M456.4,2157.3 456.8,2161.6 459.7,2162.1 460.9,2168.5 456.9,2169.9 455.0,2167.9 452.5,2169.5 451.1,2165.9 452.0,2161.1 453.7,2156.1Z M430.1,2297.4 427.7,2295.0 433.2,2294.4 436.1,2295.6 439.3,2295.4 441.4,2296.7 440.1,2298.3 437.7,2300.1 433.6,2299.7 433.4,2297.8Z M478.8,2353.3 480.3,2353.0 481.2,2354.4 481.5,2355.5 482.7,2357.6 481.0,2359.0 479.4,2356.9 478.6,2356.5 476.5,2355.7 477.1,2353.8Z M588.0,2447.1 589.6,2448.1 591.6,2450.9 590.6,2456.2 588.5,2456.0 587.8,2460.3 585.2,2463.0 585.0,2456.2 586.3,2452.4 586.5,2448.6Z M489.6,2380.8 494.7,2386.6 496.7,2394.1 499.5,2397.8 501.2,2404.2 499.1,2406.2 496.2,2407.0 492.8,2400.8 493.3,2395.6 490.9,2390.3Z M428.1,2259.3 426.3,2258.8 425.4,2256.2 425.6,2253.1 425.6,2248.2 428.3,2246.9 429.2,2252.4 430.0,2253.7 432.5,2257.3 430.6,2260.8Z M496.9,2105.2 496.3,2109.3 492.4,2106.4 492.4,2102.6 490.6,2100.8 489.5,2097.3 492.5,2097.3 495.4,2098.4 497.7,2101.0 496.5,2103.1Z M648.9,2453.5 648.2,2458.9 647.2,2462.0 648.1,2466.9 644.7,2472.3 643.4,2467.7 642.9,2465.7 641.4,2463.7 643.3,2459.1 645.9,2455.3Z M562.4,2436.9 564.3,2433.7 570.9,2432.8 574.4,2430.9 583.9,2427.9 584.3,2431.9 576.8,2434.8 575.9,2437.0 570.5,2439.9 565.6,2438.8Z M476.2,2288.7 477.3,2289.3 478.3,2290.9 476.5,2292.2 475.3,2291.6 474.0,2293.2 472.1,2292.9 473.2,2290.6 474.2,2289.6 475.1,2288.5Z M581.0,2411.5 583.7,2413.6 581.1,2416.9 575.7,2414.7 575.0,2412.8 570.2,2412.2 570.2,2409.5 575.0,2408.4 579.4,2407.8 582.1,2409.5Z M524.8,2444.1 523.9,2441.4 522.2,2439.3 523.4,2435.8 525.4,2432.5 528.8,2430.0 529.5,2434.9 528.0,2438.2 530.0,2441.9 527.8,2447.3Z M600.2,2450.5 598.8,2449.8 597.3,2450.4 595.6,2448.4 595.1,2446.2 595.4,2444.1 597.7,2445.4 598.8,2446.9 601.3,2447.5 603.1,2450.6Z M487.7,2375.5 485.2,2372.0 484.5,2368.2 484.1,2364.8 485.9,2362.9 487.5,2360.7 491.0,2358.9 491.6,2364.4 489.0,2367.2 489.7,2370.8Z M692.6,2453.6 693.9,2455.7 694.1,2458.7 692.2,2461.1 690.2,2465.1 686.2,2467.0 686.9,2461.3 688.5,2458.7 687.0,2454.7 690.1,2450.8Z M493.7,2260.1 493.5,2261.0 492.3,2262.7 489.8,2260.9 490.4,2259.2 489.6,2258.2 489.7,2256.8 491.8,2257.1 494.2,2257.9 495.5,2259.6Z M474.8,2148.1 475.7,2148.9 476.2,2151.3 473.2,2151.6 472.3,2149.9 470.8,2149.7 470.0,2148.4 471.6,2147.0 473.6,2145.8 475.5,2146.3Z M720.2,2428.6 721.7,2430.8 723.5,2429.9 726.2,2434.5 724.5,2436.4 723.4,2436.4 722.6,2438.2 720.7,2435.7 719.1,2432.0 718.0,2427.7Z M521.2,2407.4 522.2,2408.8 523.0,2411.2 521.1,2414.1 519.6,2413.7 518.0,2416.7 515.4,2417.2 517.0,2412.7 518.6,2410.9 519.5,2408.2Z M511.1,2348.3 510.5,2351.2 507.0,2348.6 506.6,2343.9 506.4,2342.3 503.8,2336.8 506.4,2337.0 509.4,2341.4 511.5,2344.4 512.0,2347.2Z M479.0,2331.7 479.0,2336.0 482.5,2337.5 480.6,2347.3 475.9,2347.2 474.4,2345.8 470.4,2349.0 470.4,2342.6 473.3,2335.4 476.7,2329.1Z M481.7,2117.5 478.7,2116.4 480.7,2114.3 484.1,2115.0 485.9,2115.4 487.5,2116.1 486.6,2117.5 485.6,2119.3 482.3,2120.7 481.3,2118.6Z M467.3,2152.8 468.1,2154.3 467.9,2156.3 466.2,2157.4 465.2,2158.9 462.6,2161.0 462.3,2158.3 464.3,2156.1 464.3,2154.5 465.7,2152.0Z M617.2,2444.2 618.3,2445.8 619.6,2449.8 613.5,2456.1 611.1,2453.6 607.8,2456.3 602.7,2457.8 606.9,2450.7 611.8,2446.2 615.8,2442.6Z M480.9,2133.1 482.6,2135.8 478.7,2137.0 476.8,2136.6 474.5,2138.0 472.5,2136.7 472.8,2134.4 473.9,2132.0 476.6,2132.1 477.7,2133.5Z M437.5,2332.0 437.8,2334.7 434.2,2336.1 433.5,2337.2 430.8,2340.1 428.9,2338.3 430.0,2335.7 430.4,2333.8 432.3,2332.7 434.2,2332.5Z M643.4,2454.6 645.0,2461.7 641.7,2470.0 642.4,2474.3 640.5,2482.9 636.9,2482.2 634.9,2478.8 634.5,2473.1 637.4,2468.3 639.0,2463.2Z M596.4,2440.6 594.2,2439.7 597.7,2434.4 600.1,2431.3 602.6,2428.7 603.9,2429.4 605.9,2429.6 605.8,2433.4 601.6,2436.6 600.1,2436.1Z M721.6,2436.6 722.7,2437.7 722.2,2439.4 720.1,2439.3 719.4,2439.1 717.0,2440.2 716.4,2438.5 718.4,2437.3 719.4,2436.5 720.7,2435.9Z M460.3,2350.7 455.0,2350.5 453.1,2350.6 449.9,2351.6 447.4,2349.4 447.4,2346.9 448.7,2344.8 452.3,2345.9 454.2,2346.9 459.2,2347.4Z M460.9,2303.6 458.0,2298.9 456.8,2294.1 452.7,2288.4 452.6,2279.1 457.7,2284.4 459.5,2287.2 463.1,2287.2 464.7,2294.9 463.0,2300.1Z M713.6,2460.6 713.3,2463.3 712.2,2464.6 712.9,2467.6 710.3,2469.6 709.0,2466.4 708.9,2464.8 707.5,2463.0 708.9,2461.1 711.1,2460.4Z M546.1,2410.0 543.7,2410.0 540.0,2410.9 537.0,2406.6 540.6,2404.2 541.2,2402.8 542.1,2398.0 546.1,2400.6 546.9,2405.0 547.6,2408.1Z M467.1,2133.3 467.6,2130.8 467.9,2129.4 467.6,2126.0 470.6,2125.0 471.1,2128.3 471.9,2129.2 473.4,2131.1 471.5,2133.1 469.2,2133.7Z M714.3,2453.1 716.6,2452.6 720.7,2454.5 718.5,2460.4 714.8,2459.9 713.5,2463.3 709.9,2464.9 709.3,2459.5 710.0,2454.9 711.9,2451.5Z M435.1,2256.7 440.4,2258.9 433.0,2262.7 426.6,2263.3 421.3,2264.0 420.5,2261.6 420.3,2259.2 421.4,2254.5 429.8,2253.0 430.6,2257.1Z M477.2,2081.1 478.8,2082.5 476.8,2083.7 475.4,2083.3 474.4,2084.3 473.0,2083.8 472.9,2082.3 473.2,2080.8 474.8,2080.4 475.6,2081.4Z M449.9,2313.8 453.6,2315.8 449.4,2318.2 445.7,2316.6 443.3,2317.0 439.7,2316.5 440.9,2314.1 443.4,2312.0 447.1,2311.0 448.4,2313.1Z M497.6,2093.3 499.0,2090.0 497.7,2088.8 497.9,2084.7 501.2,2084.5 502.1,2086.8 503.7,2087.3 503.7,2089.7 502.0,2092.0 499.5,2094.8Z M465.7,2103.2 465.7,2105.7 467.7,2107.9 465.9,2111.2 462.8,2112.8 459.3,2113.3 459.5,2109.3 461.2,2106.9 460.1,2102.8 463.7,2098.8Z M459.5,2331.2 461.1,2331.4 462.1,2333.7 460.2,2335.7 459.2,2336.1 457.9,2339.5 456.0,2338.7 457.0,2335.2 457.5,2333.5 458.1,2331.4Z M460.3,2364.4 459.7,2362.0 459.9,2359.4 459.8,2354.6 462.9,2351.4 463.6,2355.9 464.7,2356.1 467.2,2357.6 464.9,2362.3 462.3,2363.4Z M578.3,2399.9 577.1,2403.1 577.4,2405.3 576.2,2410.4 571.9,2410.1 572.3,2405.9 570.0,2405.5 568.8,2402.3 572.6,2399.9 575.9,2399.0Z M523.0,2341.0 518.2,2341.0 516.5,2342.6 509.1,2342.9 506.9,2339.1 511.1,2338.1 508.6,2335.6 512.2,2334.1 518.3,2336.4 522.7,2338.8Z M432.6,2239.9 434.0,2238.4 436.4,2240.3 434.9,2245.1 433.1,2245.2 432.6,2248.9 430.6,2249.6 430.1,2245.2 430.1,2241.4 431.2,2238.7Z M438.9,2313.7 439.3,2315.6 437.8,2318.7 434.5,2317.6 432.1,2315.6 431.5,2312.8 434.6,2311.7 435.9,2310.2 439.7,2307.3 442.0,2310.8Z M630.9,2442.1 633.3,2443.0 631.6,2445.3 629.2,2446.2 627.1,2446.6 626.6,2444.9 626.3,2443.7 625.2,2441.2 628.2,2439.7 629.6,2442.0Z M474.7,2371.2 473.7,2372.9 472.9,2375.3 469.0,2376.8 468.0,2374.0 468.1,2372.8 464.6,2371.2 467.2,2368.8 471.0,2369.6 473.2,2370.1Z M589.3,2404.6 589.6,2406.1 589.6,2407.6 589.4,2410.5 587.1,2411.3 586.7,2408.6 585.7,2408.5 584.1,2407.0 586.0,2404.9 587.8,2404.8Z M589.5,2438.9 588.7,2436.9 590.0,2435.3 591.7,2435.1 593.6,2433.1 596.6,2433.8 594.8,2436.8 593.5,2437.7 593.3,2440.3 590.9,2440.9Z"/><path stroke-width="3.2" d="M733.0,2459.6h0.1 M446.6,2326.8h0.1 M466.1,2148.5h0.1 M599.3,2446.9h0.1 M556.6,2423.1h0.1 M470.9,2379.6h0.1 M572.3,2462.3h0.1 M466.7,2242.1h0.1 M615.3,2462.9h0.1 M486.9,2112.7h0.1 M454.6,2093.6h0.1 M653.1,2457.0h0.1 M498.7,2369.2h0.1 M511.6,2053.8h0.1 M494.0,2344.0h0.1 M425.7,2237.1h0.1 M497.5,2162.9h0.1 M454.1,2286.0h0.1 M476.0,2285.3h0.1 M537.0,2384.9h0.1 M481.9,2271.0h0.1 M452.3,2233.7h0.1 M489.7,2086.9h0.1 M444.6,2288.1h0.1 M529.0,2395.3h0.1 M568.9,2459.9h0.1 M706.1,2440.1h0.1 M455.7,2318.0h0.1 M492.9,2339.6h0.1 M740.6,2451.1h0.1 M625.2,2429.0h0.1 M445.8,2283.6h0.1 M641.7,2428.9h0.1 M490.7,2307.4h0.1 M522.8,2342.4h0.1 M474.9,2358.4h0.1 M692.7,2455.2h0.1 M576.4,2430.3h0.1 M480.3,2331.7h0.1 M469.8,2074.7h0.1 M597.8,2405.5h0.1 M574.7,2409.2h0.1 M492.9,2154.5h0.1 M723.0,2425.0h0.1 M466.8,2135.8h0.1 M464.0,2335.9h0.1 M626.4,2425.3h0.1 M627.9,2441.6h0.1 M680.4,2484.3h0.1 M439.0,2342.0h0.1 M439.5,2330.3h0.1 M457.4,2353.8h0.1 M485.9,2280.1h0.1 M488.9,2380.9h0.1 M715.7,2443.2h0.1 M598.7,2433.6h0.1 M433.6,2275.1h0.1 M505.4,2366.9h0.1 M525.1,2431.1h0.1 M520.0,2423.9h0.1 M532.9,2421.7h0.1 M453.2,2088.1h0.1 M612.5,2453.9h0.1 M421.5,2293.7h0.1 M480.4,2064.1h0.1 M582.3,2414.1h0.1 M551.8,2411.4h0.1 M542.3,2435.8h0.1 M521.4,2368.4h0.1 M664.5,2433.3h0.1 M518.4,2338.5h0.1 M655.9,2436.9h0.1 M471.0,2039.0h0.1 M475.1,2141.0h0.1 M445.1,2331.4h0.1 M450.9,2347.2h0.1 M494.3,2371.4h0.1 M713.9,2422.4h0.1 M505.4,2318.9h0.1 M607.5,2464.6h0.1 M535.3,2383.0h0.1 M715.3,2464.7h0.1 M719.8,2443.3h0.1 M455.4,2339.9h0.1 M469.8,2271.5h0.1 M584.9,2439.4h0.1 M481.0,2067.4h0.1 M474.2,2347.7h0.1 M478.0,2048.1h0.1 M482.3,2416.0h0.1 M704.8,2442.6h0.1 M473.2,2362.2h0.1 M428.0,2272.7h0.1 M670.2,2462.9h0.1 M482.5,2126.5h0.1 M471.5,2121.1h0.1 M457.9,2354.7h0.1 M481.1,2349.1h0.1 M478.4,2172.1h0.1 M480.4,2104.1h0.1 M459.4,2359.9h0.1 M459.6,2075.7h0.1 M451.6,2101.6h0.1 M604.9,2433.4h0.1 M506.1,2416.6h0.1 M470.0,2132.8h0.1 M456.7,2388.5h0.1 M460.1,2313.0h0.1 M469.2,2346.4h0.1 M497.2,2301.0h0.1 M443.8,2251.4h0.1 M496.1,2332.3h0.1 M585.9,2435.5h0.1 M467.0,2141.2h0.1 M704.6,2458.1h0.1 M533.3,2399.6h0.1 M462.8,2383.4h0.1 M440.8,2348.4h0.1 M717.3,2430.8h0.1 M503.7,2322.6h0.1 M482.8,2368.8h0.1 M497.1,2369.8h0.1 M716.0,2461.0h0.1 M477.4,2084.9h0.1 M543.1,2401.0h0.1 M666.0,2478.0h0.1 M484.0,2133.1h0.1 M489.3,2254.1h0.1 M455.7,2119.2h0.1 M449.6,2360.7h0.1 M547.7,2385.3h0.1 M487.2,2243.5h0.1 M453.0,2318.4h0.1 M481.4,2276.5h0.1 M672.8,2451.4h0.1 M479.4,2231.4h0.1 M478.6,2290.2h0.1 M650.4,2471.1h0.1 M555.1,2440.2h0.1 M653.6,2475.8h0.1 M485.6,2363.5h0.1 M476.3,2318.0h0.1"/></g>
</g>
<g class="lab">
<text x="723.0" y="269.2" textLength="53.1" lengthAdjust="spacingAndGlyphs">26</text>
<text x="483.2" y="468.8" textLength="53.1" lengthAdjust="spacingAndGlyphs">19</text>
<text x="337.0" y="629.2" textLength="53.1" lengthAdjust="spacingAndGlyphs">21</text>
<text x="385.0" y="1023.7" textLength="53.1" lengthAdjust="spacingAndGlyphs">25</text>
<text x="695.0" y="956.7" textLength="53.1" lengthAdjust="spacingAndGlyphs">35</text>
<text x="1019.7" y="396.6" textLength="53.1" lengthAdjust="spacingAndGlyphs">29</text>
<text x="1119.0" y="426.2" textLength="53.1" lengthAdjust="spacingAndGlyphs">31</text>
<text x="1209.8" y="456.8" textLength="53.1" lengthAdjust="spacingAndGlyphs">31</text>
<text x="933.7" y="528.9" textLength="53.1" lengthAdjust="spacingAndGlyphs">35</text>
<text x="1255.8" y="622.2" textLength="53.1" lengthAdjust="spacingAndGlyphs">35</text>
<text x="1341.0" y="670.7" textLength="53.1" lengthAdjust="spacingAndGlyphs">33</text>
<text x="1482.0" y="705.8" textLength="53.1" lengthAdjust="spacingAndGlyphs">33</text>
<text x="1675.7" y="751.2" textLength="53.1" lengthAdjust="spacingAndGlyphs">34</text>
<text x="1532.0" y="792.9" textLength="53.1" lengthAdjust="spacingAndGlyphs">36</text>
<text x="1786.0" y="817.2" textLength="53.1" lengthAdjust="spacingAndGlyphs">30</text>
<text x="1797.5" y="857.2" textLength="53.1" lengthAdjust="spacingAndGlyphs">32</text>
<text x="1797.5" y="890.2" textLength="53.1" lengthAdjust="spacingAndGlyphs">33</text>
<text x="1769.7" y="944.2" textLength="53.1" lengthAdjust="spacingAndGlyphs">32</text>
<text x="1725.0" y="986.2" textLength="53.1" lengthAdjust="spacingAndGlyphs">33</text>
<text x="1345.0" y="965.7" textLength="53.1" lengthAdjust="spacingAndGlyphs">27</text>
<text x="1675.7" y="1057.2" textLength="53.1" lengthAdjust="spacingAndGlyphs">25</text>
<text x="1361.0" y="1150.7" textLength="53.1" lengthAdjust="spacingAndGlyphs">28</text>
<text x="1315.0" y="1181.2" textLength="53.1" lengthAdjust="spacingAndGlyphs">32</text>
<text x="1493.0" y="1290.2" textLength="53.1" lengthAdjust="spacingAndGlyphs">29</text>
<text x="1614.7" y="1302.6" textLength="53.1" lengthAdjust="spacingAndGlyphs">26</text>
<text x="1517.0" y="1386.7" textLength="53.1" lengthAdjust="spacingAndGlyphs">27</text>
<text x="1402.6" y="1411.8" textLength="53.1" lengthAdjust="spacingAndGlyphs">30</text>
<text x="1314.0" y="1473.2" textLength="53.1" lengthAdjust="spacingAndGlyphs">21</text>
<text x="1340.0" y="1547.2" textLength="53.1" lengthAdjust="spacingAndGlyphs">24</text>
<text x="1251.0" y="1627.7" textLength="53.1" lengthAdjust="spacingAndGlyphs">28</text>
<text x="1007.8" y="1787.2" textLength="53.1" lengthAdjust="spacingAndGlyphs">25</text>
<text x="1082.6" y="1789.2" textLength="53.1" lengthAdjust="spacingAndGlyphs">23</text>
<text x="601.0" y="1739.7" textLength="53.1" lengthAdjust="spacingAndGlyphs">23</text>
<text x="682.6" y="1173.2" textLength="53.1" lengthAdjust="spacingAndGlyphs">16</text>
<text x="955.6" y="726.2" textLength="53.1" lengthAdjust="spacingAndGlyphs">34</text>
<text x="825.7" y="914.2" textLength="53.1" lengthAdjust="spacingAndGlyphs">35</text>
<text x="1086.9" y="1144.9" textLength="53.1" lengthAdjust="spacingAndGlyphs">37</text>
<text x="1135.6" y="1306.8" textLength="53.1" lengthAdjust="spacingAndGlyphs">32</text>
<text x="1037.7" y="1469.5" textLength="53.1" lengthAdjust="spacingAndGlyphs">37</text>
</g>
<rect x="177.5" y="177.5" width="1674.0" height="2309.0" fill="none" stroke="#000" stroke-width="3"/>
<g class="tk">
<text x="157" y="293.2" text-anchor="end" textLength="126.0" lengthAdjust="spacingAndGlyphs">10°N</text>
<text x="157" y="628.0" text-anchor="end" textLength="56.8" lengthAdjust="spacingAndGlyphs">0°</text>
<text x="157" y="962.8" text-anchor="end" textLength="120.4" lengthAdjust="spacingAndGlyphs">10°S</text>
<text x="157" y="1297.6" text-anchor="end" textLength="120.4" lengthAdjust="spacingAndGlyphs">20°S</text>
<text x="157" y="1632.4" text-anchor="end" textLength="120.4" lengthAdjust="spacingAndGlyphs">30°S</text>
<text x="157" y="1967.2" text-anchor="end" textLength="120.4" lengthAdjust="spacingAndGlyphs">40°S</text>
<text x="157" y="2302.0" text-anchor="end" textLength="120.4" lengthAdjust="spacingAndGlyphs">50°S</text>
<text x="277.8" y="2549.5" text-anchor="middle" textLength="138.1" lengthAdjust="spacingAndGlyphs">80°W</text>
<text x="612.6" y="2549.5" text-anchor="middle" textLength="138.1" lengthAdjust="spacingAndGlyphs">70°W</text>
<text x="947.4" y="2549.5" text-anchor="middle" textLength="138.1" lengthAdjust="spacingAndGlyphs">60°W</text>
<text x="1282.2" y="2549.5" text-anchor="middle" textLength="138.1" lengthAdjust="spacingAndGlyphs">50°W</text>
<text x="1617.0" y="2549.5" text-anchor="middle" textLength="138.1" lengthAdjust="spacingAndGlyphs">40°W</text>
</g>
<g shape-rendering="crispEdges">
<rect x="1893.6" y="2359.08" width="51.4" height="23.93" fill="#063264"/>
<rect x="1893.6" y="2335.75" width="51.4" height="23.93" fill="#09386d"/>
<rect x="1893.6" y="2312.41" width="51.4" height="23.93" fill="#0d3f76"/>
<rect x="1893.6" y="2289.08" width="51.4" height="23.93" fill="#0f437b"/>
<rect x="1893.6" y="2265.75" width="51.4" height="23.93" fill="#124984"/>
<rect x="1893.6" y="2242.41" width="51.4" height="23.93" fill="#15508d"/>
<rect x="1893.6" y="2219.08" width="51.4" height="23.93" fill="#195696"/>
<rect x="1893.6" y="2195.75" width="51.4" height="23.93" fill="#1c5c9f"/>
<rect x="1893.6" y="2172.41" width="51.4" height="23.93" fill="#1f63a8"/>
<rect x="1893.6" y="2149.08" width="51.4" height="23.93" fill="#2369ad"/>
<rect x="1893.6" y="2125.75" width="51.4" height="23.93" fill="#266caf"/>
<rect x="1893.6" y="2102.41" width="51.4" height="23.93" fill="#2a71b2"/>
<rect x="1893.6" y="2079.08" width="51.4" height="23.93" fill="#2e77b5"/>
<rect x="1893.6" y="2055.75" width="51.4" height="23.93" fill="#327cb7"/>
<rect x="1893.6" y="2032.41" width="51.4" height="23.93" fill="#3681ba"/>
<rect x="1893.6" y="2009.08" width="51.4" height="23.93" fill="#3a87bd"/>
<rect x="1893.6" y="1985.75" width="51.4" height="23.93" fill="#3c8abe"/>
<rect x="1893.6" y="1962.41" width="51.4" height="23.93" fill="#408fc1"/>
<rect x="1893.6" y="1939.08" width="51.4" height="23.93" fill="#4695c4"/>
<rect x="1893.6" y="1915.74" width="51.4" height="23.93" fill="#4f9bc7"/>
<rect x="1893.6" y="1892.41" width="51.4" height="23.93" fill="#59a1ca"/>
<rect x="1893.6" y="1869.08" width="51.4" height="23.93" fill="#62a7ce"/>
<rect x="1893.6" y="1845.74" width="51.4" height="23.93" fill="#6bacd1"/>
<rect x="1893.6" y="1822.41" width="51.4" height="23.93" fill="#71b0d3"/>
<rect x="1893.6" y="1799.08" width="51.4" height="23.93" fill="#7bb6d6"/>
<rect x="1893.6" y="1775.74" width="51.4" height="23.93" fill="#84bcd9"/>
<rect x="1893.6" y="1752.41" width="51.4" height="23.93" fill="#8dc2dc"/>
<rect x="1893.6" y="1729.08" width="51.4" height="23.93" fill="#96c7df"/>
<rect x="1893.6" y="1705.74" width="51.4" height="23.93" fill="#9dcbe1"/>
<rect x="1893.6" y="1682.41" width="51.4" height="23.93" fill="#a2cde3"/>
<rect x="1893.6" y="1659.08" width="51.4" height="23.93" fill="#a9d1e5"/>
<rect x="1893.6" y="1635.74" width="51.4" height="23.93" fill="#b1d5e7"/>
<rect x="1893.6" y="1612.41" width="51.4" height="23.93" fill="#b8d8e9"/>
<rect x="1893.6" y="1589.08" width="51.4" height="23.93" fill="#c0dceb"/>
<rect x="1893.6" y="1565.74" width="51.4" height="23.93" fill="#c7e0ed"/>
<rect x="1893.6" y="1542.41" width="51.4" height="23.93" fill="#cce2ef"/>
<rect x="1893.6" y="1519.08" width="51.4" height="23.93" fill="#d2e6f0"/>
<rect x="1893.6" y="1495.74" width="51.4" height="23.93" fill="#d7e8f1"/>
<rect x="1893.6" y="1472.41" width="51.4" height="23.93" fill="#dbeaf2"/>
<rect x="1893.6" y="1449.07" width="51.4" height="23.93" fill="#e0ecf3"/>
<rect x="1893.6" y="1425.74" width="51.4" height="23.93" fill="#e4eef4"/>
<rect x="1893.6" y="1402.41" width="51.4" height="23.93" fill="#e9f0f4"/>
<rect x="1893.6" y="1379.07" width="51.4" height="23.93" fill="#ecf2f5"/>
<rect x="1893.6" y="1355.74" width="51.4" height="23.93" fill="#f0f4f6"/>
<rect x="1893.6" y="1332.41" width="51.4" height="23.93" fill="#f5f6f7"/>
<rect x="1893.6" y="1309.07" width="51.4" height="23.93" fill="#f7f5f4"/>
<rect x="1893.6" y="1285.74" width="51.4" height="23.93" fill="#f8f2ef"/>
<rect x="1893.6" y="1262.41" width="51.4" height="23.93" fill="#f9efe9"/>
<rect x="1893.6" y="1239.07" width="51.4" height="23.93" fill="#f9ede5"/>
<rect x="1893.6" y="1215.74" width="51.4" height="23.93" fill="#fae9df"/>
<rect x="1893.6" y="1192.41" width="51.4" height="23.93" fill="#fbe6da"/>
<rect x="1893.6" y="1169.07" width="51.4" height="23.93" fill="#fbe3d4"/>
<rect x="1893.6" y="1145.74" width="51.4" height="23.93" fill="#fcdfcf"/>
<rect x="1893.6" y="1122.41" width="51.4" height="23.93" fill="#fddcc9"/>
<rect x="1893.6" y="1099.07" width="51.4" height="23.93" fill="#fcd7c2"/>
<rect x="1893.6" y="1075.74" width="51.4" height="23.93" fill="#fcd3bc"/>
<rect x="1893.6" y="1052.41" width="51.4" height="23.93" fill="#fbccb4"/>
<rect x="1893.6" y="1029.07" width="51.4" height="23.93" fill="#f9c6ac"/>
<rect x="1893.6" y="1005.74" width="51.4" height="23.93" fill="#f8bfa4"/>
<rect x="1893.6" y="982.40" width="51.4" height="23.93" fill="#f7b99c"/>
<rect x="1893.6" y="959.07" width="51.4" height="23.93" fill="#f6b394"/>
<rect x="1893.6" y="935.74" width="51.4" height="23.93" fill="#f6af8e"/>
<rect x="1893.6" y="912.40" width="51.4" height="23.93" fill="#f5a886"/>
<rect x="1893.6" y="889.07" width="51.4" height="23.93" fill="#f2a17f"/>
<rect x="1893.6" y="865.74" width="51.4" height="23.93" fill="#ef9979"/>
<rect x="1893.6" y="842.40" width="51.4" height="23.93" fill="#eb9172"/>
<rect x="1893.6" y="819.07" width="51.4" height="23.93" fill="#e8896c"/>
<rect x="1893.6" y="795.74" width="51.4" height="23.93" fill="#e48066"/>
<rect x="1893.6" y="772.40" width="51.4" height="23.93" fill="#e27b62"/>
<rect x="1893.6" y="749.07" width="51.4" height="23.93" fill="#de735c"/>
<rect x="1893.6" y="725.74" width="51.4" height="23.93" fill="#db6b55"/>
<rect x="1893.6" y="702.40" width="51.4" height="23.93" fill="#d7634f"/>
<rect x="1893.6" y="679.07" width="51.4" height="23.93" fill="#d35a4a"/>
<rect x="1893.6" y="655.74" width="51.4" height="23.93" fill="#cf5246"/>
<rect x="1893.6" y="632.40" width="51.4" height="23.93" fill="#cc4c44"/>
<rect x="1893.6" y="609.07" width="51.4" height="23.93" fill="#c84440"/>
<rect x="1893.6" y="585.74" width="51.4" height="23.93" fill="#c43b3c"/>
<rect x="1893.6" y="562.40" width="51.4" height="23.93" fill="#bf3338"/>
<rect x="1893.6" y="539.07" width="51.4" height="23.93" fill="#bb2a34"/>
<rect x="1893.6" y="515.74" width="51.4" height="23.93" fill="#b72230"/>
<rect x="1893.6" y="492.40" width="51.4" height="23.93" fill="#b41c2d"/>
<rect x="1893.6" y="469.07" width="51.4" height="23.93" fill="#ae172a"/>
<rect x="1893.6" y="445.73" width="51.4" height="23.93" fill="#a51429"/>
<rect x="1893.6" y="422.40" width="51.4" height="23.93" fill="#9c1127"/>
<rect x="1893.6" y="399.07" width="51.4" height="23.93" fill="#930e26"/>
<rect x="1893.6" y="375.73" width="51.4" height="23.93" fill="#8a0b25"/>
<rect x="1893.6" y="352.40" width="51.4" height="23.93" fill="#810823"/>
<rect x="1893.6" y="329.07" width="51.4" height="23.93" fill="#7c0722"/>
<rect x="1893.6" y="305.73" width="51.4" height="23.93" fill="#730421"/>
<rect x="1893.6" y="282.40" width="51.4" height="23.93" fill="#6a011f"/>
</g>
<path d="M1893.6,282.9 L1919.3,178.5 L1945.0,282.9Z" fill="#67001f"/>
<path d="M1893.6,2381.915 L1919.3,2486.5 L1945.0,2381.915Z" fill="#053061"/>
<path d="M1893.6,282.4 L1919.3,178.5 L1945.0,282.4 L1945.0,2382.415 L1919.3,2486.5 L1893.6,2382.415Z" fill="none" stroke="#000" stroke-width="3.3" stroke-linejoin="miter"/>
<g class="tk">
<line x1="1946.5" y1="2382.4" x2="1961.0" y2="2382.4" stroke="#000" stroke-width="3.3"/>
<text x="1975.5" y="2400.6" textLength="49.9" lengthAdjust="spacingAndGlyphs">-5</text>
<line x1="1946.5" y1="2149.1" x2="1961.0" y2="2149.1" stroke="#000" stroke-width="3.3"/>
<text x="1975.5" y="2167.3" textLength="31.8" lengthAdjust="spacingAndGlyphs">0</text>
<line x1="1946.5" y1="1915.7" x2="1961.0" y2="1915.7" stroke="#000" stroke-width="3.3"/>
<text x="1975.5" y="1933.9" textLength="31.8" lengthAdjust="spacingAndGlyphs">5</text>
<line x1="1946.5" y1="1682.4" x2="1961.0" y2="1682.4" stroke="#000" stroke-width="3.3"/>
<text x="1975.5" y="1700.6" textLength="63.6" lengthAdjust="spacingAndGlyphs">10</text>
<line x1="1946.5" y1="1449.1" x2="1961.0" y2="1449.1" stroke="#000" stroke-width="3.3"/>
<text x="1975.5" y="1467.3" textLength="63.6" lengthAdjust="spacingAndGlyphs">15</text>
<line x1="1946.5" y1="1215.7" x2="1961.0" y2="1215.7" stroke="#000" stroke-width="3.3"/>
<text x="1975.5" y="1233.9" textLength="63.6" lengthAdjust="spacingAndGlyphs">20</text>
<line x1="1946.5" y1="982.4" x2="1961.0" y2="982.4" stroke="#000" stroke-width="3.3"/>
<text x="1975.5" y="1000.6" textLength="63.6" lengthAdjust="spacingAndGlyphs">25</text>
<line x1="1946.5" y1="749.1" x2="1961.0" y2="749.1" stroke="#000" stroke-width="3.3"/>
<text x="1975.5" y="767.3" textLength="63.6" lengthAdjust="spacingAndGlyphs">30</text>
<line x1="1946.5" y1="515.7" x2="1961.0" y2="515.7" stroke="#000" stroke-width="3.3"/>
<text x="1975.5" y="533.9" textLength="63.6" lengthAdjust="spacingAndGlyphs">35</text>
<line x1="1946.5" y1="282.4" x2="1961.0" y2="282.4" stroke="#000" stroke-width="3.3"/>
<text x="1975.5" y="300.6" textLength="63.6" lengthAdjust="spacingAndGlyphs">40</text>
<text x="1892.5" y="174.5" text-anchor="middle" textLength="98.9" lengthAdjust="spacingAndGlyphs">(°C)</text>
</g>
<text x="1004.5" y="80.5" font-size="63.6" text-anchor="middle" textLength="939.2" lengthAdjust="spacingAndGlyphs">SAMeT - Temperatura Máxima</text>
<text x="1025.5" y="153.5" font-size="63.6" text-anchor="middle" textLength="730.8" lengthAdjust="spacingAndGlyphs">Válida para 26/11/2019</text>
<g transform="translate(1577,2086) scale(0.28441)">
<path d="M225,960 C240,1090 340,1125 440,1120 C560,1112 650,1010 660,860 L628,860 L720,775 L805,860 L775,860 C770,1040 640,1190 470,1195 C330,1195 225,1100 225,960Z" fill="#0575bb"/>
<path d="M232,1000 C205,860 290,728 420,728 C520,728 565,800 565,895 L590,895 L500,975 L425,895 L455,895 C455,850 420,820 365,820 C300,820 250,880 236,960" fill="none" stroke="#0575bb" stroke-width="5"/>
<circle cx="498" cy="1043" r="58" fill="#f0960a"/>
<text x="262" y="1000" font-size="82" font-weight="bold" font-style="italic" fill="#111" stroke="none" textLength="178" lengthAdjust="spacingAndGlyphs" style="font-family:'Liberation Sans',sans-serif">INPE</text>
</g>
</svg></body></html>
